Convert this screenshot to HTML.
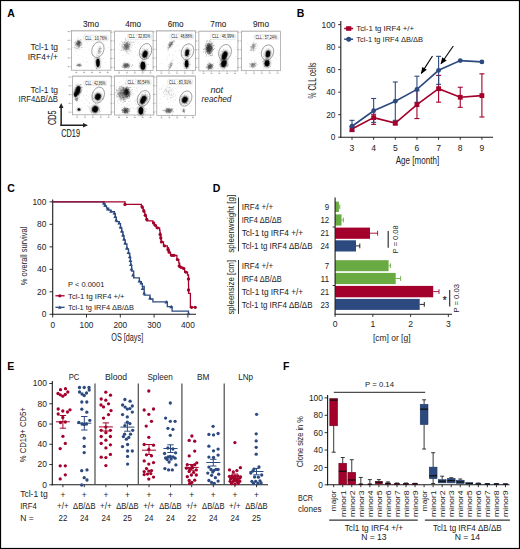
<!DOCTYPE html>
<html><head><meta charset="utf-8"><title>Figure</title>
<style>
html,body{margin:0;padding:0;background:#fff;}
body{width:520px;height:549px;overflow:hidden;}
svg{display:block;font-family:"Liberation Sans", sans-serif;}
</style></head>
<body>
<svg width="520" height="549" viewBox="0 0 520 549">
<defs><filter id="b0" x="-10%" y="-10%" width="120%" height="120%"><feGaussianBlur stdDeviation="0.22"/></filter><filter id="b1" x="-50%" y="-50%" width="200%" height="200%"><feGaussianBlur stdDeviation="0.35"/></filter><filter id="b2" x="-50%" y="-50%" width="200%" height="200%"><feGaussianBlur stdDeviation="0.9"/></filter></defs>
<rect x="0" y="0" width="520" height="549" fill="#fff"/>
<text x="7.20" y="16.90" font-size="10.5" text-anchor="start" fill="#000" font-weight="bold">A</text>
<text x="296.80" y="16.80" font-size="10.5" text-anchor="start" fill="#000" font-weight="bold">B</text>
<text x="7.30" y="191.90" font-size="10.5" text-anchor="start" fill="#000" font-weight="bold">C</text>
<text x="212.80" y="192.30" font-size="10.5" text-anchor="start" fill="#000" font-weight="bold">D</text>
<text x="7.30" y="370.20" font-size="10.5" text-anchor="start" fill="#000" font-weight="bold">E</text>
<text x="282.90" y="369.60" font-size="10.5" text-anchor="start" fill="#000" font-weight="bold">F</text>
<text x="91.00" y="27.00" font-size="8.9" text-anchor="middle" fill="#222" stroke="#222" stroke-width="0.08" textLength="15.90" lengthAdjust="spacingAndGlyphs">3mo</text>
<text x="133.20" y="27.00" font-size="8.9" text-anchor="middle" fill="#222" stroke="#222" stroke-width="0.08" textLength="15.90" lengthAdjust="spacingAndGlyphs">4mo</text>
<text x="175.60" y="27.00" font-size="8.9" text-anchor="middle" fill="#222" stroke="#222" stroke-width="0.08" textLength="15.90" lengthAdjust="spacingAndGlyphs">6mo</text>
<text x="218.30" y="27.00" font-size="8.9" text-anchor="middle" fill="#222" stroke="#222" stroke-width="0.08" textLength="15.90" lengthAdjust="spacingAndGlyphs">7mo</text>
<text x="261.00" y="27.00" font-size="8.9" text-anchor="middle" fill="#222" stroke="#222" stroke-width="0.08" textLength="15.90" lengthAdjust="spacingAndGlyphs">9mo</text>
<text x="58.00" y="50.20" font-size="8.6" text-anchor="end" fill="#222" textLength="27.40" lengthAdjust="spacingAndGlyphs">Tcl-1 tg</text>
<text x="58.00" y="59.70" font-size="8.6" text-anchor="end" fill="#222" textLength="30.30" lengthAdjust="spacingAndGlyphs">IRF4+/+</text>
<text x="58.00" y="93.00" font-size="8.6" text-anchor="end" fill="#222" textLength="27.40" lengthAdjust="spacingAndGlyphs">Tcl-1 tg</text>
<text x="58.00" y="102.00" font-size="8.6" text-anchor="end" fill="#222" textLength="39.40" lengthAdjust="spacingAndGlyphs">IRF4&#916;B/&#916;B</text>
<text x="216.80" y="92.70" font-size="9.4" text-anchor="middle" fill="#222" font-style="italic" textLength="12.80" lengthAdjust="spacingAndGlyphs">not</text>
<text x="216.50" y="101.60" font-size="9.4" text-anchor="middle" fill="#222" font-style="italic" textLength="29.80" lengthAdjust="spacingAndGlyphs">reached</text>
<line x1="61.15" y1="126.00" x2="61.15" y2="106.50" stroke="#222" stroke-width="1.5" />
<line x1="60.40" y1="125.25" x2="84.50" y2="125.25" stroke="#222" stroke-width="1.5" />
<path d="M61.15,103.0 L58.8,108.0 L63.5,108.0 Z" fill="#222"/>
<path d="M88.0,125.25 L83.0,122.95 L83.0,127.55 Z" fill="#222"/>
<text x="56.00" y="117.70" font-size="10.4" text-anchor="middle" fill="#222" stroke="#222" stroke-width="0.1" textLength="14.60" lengthAdjust="spacingAndGlyphs" transform="rotate(-90 56.00 117.70)">CD5</text>
<text x="61.20" y="136.90" font-size="10.4" text-anchor="start" fill="#222" stroke="#222" stroke-width="0.1" textLength="18.80" lengthAdjust="spacingAndGlyphs">CD19</text>
<rect x="71.60" y="30.60" width="39.30" height="39.60" fill="#fff" stroke="#9a9a9a" stroke-width="0.7"/>
<line x1="71.60" y1="30.80" x2="110.90" y2="30.80" stroke="#c4c4c4" stroke-width="1.2"/>
<line x1="70.20" y1="31.50" x2="71.60" y2="31.50" stroke="#888" stroke-width="0.4" />
<rect x="67.70" y="31.00" width="1.8" height="1.1" fill="#aaa"/>
<line x1="70.20" y1="40.28" x2="71.60" y2="40.28" stroke="#888" stroke-width="0.4" />
<rect x="67.70" y="39.78" width="1.8" height="1.1" fill="#aaa"/>
<line x1="70.20" y1="49.06" x2="71.60" y2="49.06" stroke="#888" stroke-width="0.4" />
<rect x="67.70" y="48.56" width="1.8" height="1.1" fill="#aaa"/>
<line x1="70.20" y1="57.84" x2="71.60" y2="57.84" stroke="#888" stroke-width="0.4" />
<rect x="67.70" y="57.34" width="1.8" height="1.1" fill="#aaa"/>
<line x1="70.20" y1="66.62" x2="71.60" y2="66.62" stroke="#888" stroke-width="0.4" />
<rect x="67.70" y="66.12" width="1.8" height="1.1" fill="#aaa"/>
<line x1="76.30" y1="70.20" x2="76.30" y2="71.60" stroke="#888" stroke-width="0.4" />
<rect x="75.40" y="72.10" width="1.8" height="1.0" fill="#aaa"/>
<line x1="84.15" y1="70.20" x2="84.15" y2="71.60" stroke="#888" stroke-width="0.4" />
<rect x="83.25" y="72.10" width="1.8" height="1.0" fill="#aaa"/>
<line x1="92.00" y1="70.20" x2="92.00" y2="71.60" stroke="#888" stroke-width="0.4" />
<rect x="91.10" y="72.10" width="1.8" height="1.0" fill="#aaa"/>
<line x1="99.85" y1="70.20" x2="99.85" y2="71.60" stroke="#888" stroke-width="0.4" />
<rect x="98.95" y="72.10" width="1.8" height="1.0" fill="#aaa"/>
<line x1="107.70" y1="70.20" x2="107.70" y2="71.60" stroke="#888" stroke-width="0.4" />
<rect x="106.80" y="72.10" width="1.8" height="1.0" fill="#aaa"/>
<ellipse cx="78.40" cy="44.00" rx="2.73" ry="3.99" transform="rotate(15 78.40 44.00)" fill="#000" fill-opacity="0.25" filter="url(#b2)"/>
<ellipse cx="78.60" cy="42.80" rx="1.47" ry="1.89" transform="rotate(15 78.60 42.80)" fill="#000" fill-opacity="0.25" filter="url(#b2)"/>
<ellipse cx="78.90" cy="64.90" rx="1.89" ry="1.09" transform="rotate(0 78.90 64.90)" fill="#000" fill-opacity="0.3" filter="url(#b2)"/>
<ellipse cx="99.00" cy="50.50" rx="1.47" ry="3.36" transform="rotate(15 99.00 50.50)" fill="#000" fill-opacity="0.12" filter="url(#b2)"/>
<ellipse cx="97.90" cy="62.80" rx="2.29" ry="5.28" transform="rotate(0 97.90 62.80)" fill="#000" fill-opacity="0.45" filter="url(#b2)"/>
<ellipse cx="97.90" cy="62.80" rx="1.74" ry="4.14" transform="rotate(0 97.90 62.80)" fill="#000" fill-opacity="1.0" filter="url(#b1)"/>
<path fill="#000" fill-opacity="0.4" filter="url(#b0)" d="M79.2 43.3h.6v.6h-.6zM79.4 45.6h.6v.6h-.6zM79.2 43.2h.6v.6h-.6zM76.1 44.1h.6v.6h-.6zM80.0 44.0h.6v.6h-.6zM79.7 42.2h.6v.6h-.6zM77.7 43.0h.6v.6h-.6zM80.0 42.0h.6v.6h-.6zM79.0 44.2h.6v.6h-.6zM79.6 41.4h.6v.6h-.6zM79.1 41.4h.6v.6h-.6zM78.4 47.7h.6v.6h-.6zM77.2 43.6h.6v.6h-.6zM78.2 43.8h.6v.6h-.6zM77.3 45.0h.6v.6h-.6zM79.6 43.3h.6v.6h-.6zM78.6 43.5h.6v.6h-.6zM77.7 44.9h.6v.6h-.6zM76.9 44.3h.6v.6h-.6zM78.7 41.1h.6v.6h-.6zM77.9 46.0h.6v.6h-.6zM78.3 42.5h.6v.6h-.6zM81.2 42.0h.6v.6h-.6zM80.6 42.3h.6v.6h-.6zM74.2 41.9h.6v.6h-.6zM74.3 47.1h.6v.6h-.6zM78.9 41.1h.6v.6h-.6zM77.6 44.2h.6v.6h-.6zM80.1 39.0h.6v.6h-.6zM78.8 44.1h.6v.6h-.6zM81.3 47.1h.6v.6h-.6zM76.7 42.9h.6v.6h-.6zM78.2 42.3h.6v.6h-.6zM81.6 45.4h.6v.6h-.6zM79.0 46.0h.6v.6h-.6zM79.1 45.9h.6v.6h-.6zM76.3 48.5h.6v.6h-.6zM75.6 43.8h.6v.6h-.6zM79.1 42.7h.6v.6h-.6zM78.7 43.7h.6v.6h-.6zM76.4 43.3h.6v.6h-.6zM77.2 44.0h.6v.6h-.6zM78.3 43.9h.6v.6h-.6zM76.7 44.0h.6v.6h-.6zM79.3 40.0h.6v.6h-.6zM78.0 46.0h.6v.6h-.6zM78.8 42.6h.6v.6h-.6zM78.3 41.0h.6v.6h-.6zM79.0 45.8h.6v.6h-.6zM79.0 47.5h.6v.6h-.6zM78.6 45.3h.6v.6h-.6zM77.0 44.0h.6v.6h-.6zM80.2 42.1h.6v.6h-.6zM75.7 50.6h.6v.6h-.6zM79.3 46.5h.6v.6h-.6zM77.4 40.8h.6v.6h-.6zM80.4 42.5h.6v.6h-.6zM78.3 44.2h.6v.6h-.6zM77.4 39.7h.6v.6h-.6zM77.8 44.3h.6v.6h-.6zM78.8 42.9h.6v.6h-.6zM78.1 47.0h.6v.6h-.6zM76.2 45.9h.6v.6h-.6zM78.3 37.0h.6v.6h-.6zM78.7 44.2h.6v.6h-.6zM78.7 39.9h.6v.6h-.6zM78.1 46.8h.6v.6h-.6zM79.5 44.7h.6v.6h-.6zM75.4 44.6h.6v.6h-.6zM79.5 41.6h.6v.6h-.6zM79.2 48.9h.6v.6h-.6zM76.6 48.7h.6v.6h-.6zM77.8 41.1h.6v.6h-.6zM79.4 45.2h.6v.6h-.6zM79.2 42.5h.6v.6h-.6zM79.9 44.3h.6v.6h-.6zM78.6 40.8h.6v.6h-.6zM74.8 47.8h.6v.6h-.6zM78.8 41.6h.6v.6h-.6zM77.9 43.1h.6v.6h-.6zM79.3 45.5h.6v.6h-.6zM79.1 42.5h.6v.6h-.6zM75.9 42.7h.6v.6h-.6zM76.8 42.1h.6v.6h-.6zM79.9 44.1h.6v.6h-.6zM80.3 41.5h.6v.6h-.6zM77.6 42.7h.6v.6h-.6zM78.5 43.5h.6v.6h-.6zM79.3 43.4h.6v.6h-.6zM79.1 44.3h.6v.6h-.6zM80.0 43.7h.6v.6h-.6zM78.3 45.9h.6v.6h-.6zM78.5 43.2h.6v.6h-.6zM78.1 43.6h.6v.6h-.6zM80.5 42.9h.6v.6h-.6zM75.1 41.8h.6v.6h-.6zM79.0 40.9h.6v.6h-.6zM78.1 45.3h.6v.6h-.6zM76.8 40.7h.6v.6h-.6zM79.4 42.4h.6v.6h-.6zM77.1 44.6h.6v.6h-.6zM79.6 45.3h.6v.6h-.6zM78.5 43.0h.6v.6h-.6zM80.8 39.5h.6v.6h-.6zM80.1 45.5h.6v.6h-.6zM78.9 44.8h.6v.6h-.6zM77.9 40.2h.6v.6h-.6zM75.4 45.2h.6v.6h-.6zM81.7 43.1h.6v.6h-.6zM78.9 41.3h.6v.6h-.6zM77.2 43.9h.6v.6h-.6zM78.7 43.6h.6v.6h-.6zM78.0 44.4h.6v.6h-.6zM80.8 40.5h.6v.6h-.6zM77.3 48.3h.6v.6h-.6zM78.8 42.6h.6v.6h-.6zM78.2 40.0h.6v.6h-.6zM78.8 45.7h.6v.6h-.6zM76.9 42.7h.6v.6h-.6zM79.3 45.1h.6v.6h-.6zM81.1 43.9h.6v.6h-.6zM75.9 43.2h.6v.6h-.6zM74.2 43.5h.6v.6h-.6zM79.9 42.5h.6v.6h-.6zM82.1 46.7h.6v.6h-.6zM77.1 42.4h.6v.6h-.6zM76.9 41.4h.6v.6h-.6zM79.3 44.4h.6v.6h-.6zM76.7 44.7h.6v.6h-.6zM77.7 43.2h.6v.6h-.6z"/>
<path fill="#000" fill-opacity="0.45" filter="url(#b0)" d="M77.8 42.9h.6v.6h-.6zM79.4 42.1h.6v.6h-.6zM76.9 43.1h.6v.6h-.6zM77.2 44.6h.6v.6h-.6zM78.7 42.5h.6v.6h-.6zM77.6 41.8h.6v.6h-.6zM78.7 42.6h.6v.6h-.6zM78.7 42.2h.6v.6h-.6zM79.6 42.2h.6v.6h-.6zM77.8 42.7h.6v.6h-.6zM78.1 42.3h.6v.6h-.6zM78.5 44.5h.6v.6h-.6zM76.4 42.2h.6v.6h-.6zM81.2 43.9h.6v.6h-.6zM77.7 43.7h.6v.6h-.6zM78.0 42.3h.6v.6h-.6zM78.9 44.6h.6v.6h-.6zM78.8 42.1h.6v.6h-.6zM77.3 41.5h.6v.6h-.6zM79.3 42.5h.6v.6h-.6zM79.4 42.9h.6v.6h-.6zM78.6 41.1h.6v.6h-.6zM78.4 42.7h.6v.6h-.6zM79.5 41.0h.6v.6h-.6zM77.4 44.2h.6v.6h-.6zM79.0 42.8h.6v.6h-.6zM79.0 42.1h.6v.6h-.6zM78.3 41.6h.6v.6h-.6zM77.5 42.0h.6v.6h-.6zM78.5 42.5h.6v.6h-.6zM78.1 41.4h.6v.6h-.6zM79.8 42.0h.6v.6h-.6zM78.8 42.6h.6v.6h-.6zM79.4 42.4h.6v.6h-.6zM78.4 43.9h.6v.6h-.6zM80.2 65.0h.6v.6h-.6zM78.9 65.9h.6v.6h-.6zM79.5 64.9h.6v.6h-.6zM77.3 65.6h.6v.6h-.6zM79.6 64.3h.6v.6h-.6zM78.9 64.8h.6v.6h-.6zM79.5 64.8h.6v.6h-.6zM80.8 65.7h.6v.6h-.6zM76.2 65.3h.6v.6h-.6zM79.2 64.4h.6v.6h-.6zM77.6 65.4h.6v.6h-.6zM79.6 65.4h.6v.6h-.6zM77.4 64.8h.6v.6h-.6zM78.3 64.7h.6v.6h-.6zM79.1 64.8h.6v.6h-.6zM79.6 63.8h.6v.6h-.6zM79.0 65.0h.6v.6h-.6zM78.0 65.1h.6v.6h-.6zM78.3 64.3h.6v.6h-.6zM79.9 65.4h.6v.6h-.6zM78.9 64.0h.6v.6h-.6zM76.9 64.5h.6v.6h-.6zM79.9 64.6h.6v.6h-.6zM79.4 66.2h.6v.6h-.6zM79.9 63.8h.6v.6h-.6zM78.5 65.3h.6v.6h-.6zM79.9 65.5h.6v.6h-.6zM77.7 65.2h.6v.6h-.6zM79.6 65.7h.6v.6h-.6zM78.3 64.2h.6v.6h-.6zM79.7 63.4h.6v.6h-.6zM80.1 65.4h.6v.6h-.6zM78.0 64.1h.6v.6h-.6zM78.8 64.7h.6v.6h-.6zM78.9 64.1h.6v.6h-.6zM80.3 65.6h.6v.6h-.6zM79.7 65.5h.6v.6h-.6zM77.5 64.4h.6v.6h-.6zM79.4 65.5h.6v.6h-.6zM79.8 65.0h.6v.6h-.6zM81.4 64.8h.6v.6h-.6zM76.9 64.9h.6v.6h-.6zM78.3 64.8h.6v.6h-.6zM80.5 65.3h.6v.6h-.6zM77.3 65.1h.6v.6h-.6zM77.5 64.7h.6v.6h-.6zM79.5 65.6h.6v.6h-.6zM80.1 64.5h.6v.6h-.6zM78.1 65.1h.6v.6h-.6zM79.5 65.2h.6v.6h-.6z"/>
<path fill="#000" fill-opacity="0.35" filter="url(#b0)" d="M100.4 50.4h.6v.6h-.6zM98.3 51.4h.6v.6h-.6zM100.0 52.9h.6v.6h-.6zM98.9 51.3h.6v.6h-.6zM97.5 55.6h.6v.6h-.6zM98.5 50.2h.6v.6h-.6zM99.0 52.6h.6v.6h-.6zM98.4 53.1h.6v.6h-.6zM98.1 50.0h.6v.6h-.6zM98.5 48.6h.6v.6h-.6zM99.1 48.0h.6v.6h-.6zM98.3 50.7h.6v.6h-.6zM99.4 53.0h.6v.6h-.6zM100.1 51.4h.6v.6h-.6zM99.7 51.1h.6v.6h-.6zM99.5 49.8h.6v.6h-.6zM98.3 51.5h.6v.6h-.6zM100.2 46.2h.6v.6h-.6zM99.7 51.2h.6v.6h-.6zM100.9 51.1h.6v.6h-.6zM100.5 48.0h.6v.6h-.6zM97.6 54.8h.6v.6h-.6zM99.8 47.7h.6v.6h-.6zM99.2 48.2h.6v.6h-.6zM99.0 47.9h.6v.6h-.6zM98.2 52.7h.6v.6h-.6zM99.7 48.8h.6v.6h-.6zM100.3 52.3h.6v.6h-.6zM98.7 51.7h.6v.6h-.6zM100.1 51.3h.6v.6h-.6zM101.3 48.3h.6v.6h-.6zM99.4 49.3h.6v.6h-.6zM99.5 54.2h.6v.6h-.6zM100.3 48.1h.6v.6h-.6zM99.1 48.7h.6v.6h-.6zM99.3 50.2h.6v.6h-.6zM98.6 52.1h.6v.6h-.6zM98.7 51.0h.6v.6h-.6zM98.4 51.9h.6v.6h-.6zM99.7 48.4h.6v.6h-.6zM98.9 52.5h.6v.6h-.6zM97.9 51.4h.6v.6h-.6zM99.9 47.3h.6v.6h-.6zM96.8 53.2h.6v.6h-.6zM98.0 55.2h.6v.6h-.6zM100.0 49.1h.6v.6h-.6zM99.1 50.7h.6v.6h-.6zM98.5 53.4h.6v.6h-.6zM100.3 47.7h.6v.6h-.6zM99.5 46.3h.6v.6h-.6z"/>
<path fill="#000" fill-opacity="0.6" filter="url(#b0)" d="M96.2 54.7h.5v.5h-.5zM97.2 61.9h.5v.5h-.5zM97.2 61.9h.5v.5h-.5zM98.7 59.0h.5v.5h-.5zM98.2 58.9h.5v.5h-.5zM96.3 61.6h.5v.5h-.5zM98.6 61.4h.5v.5h-.5zM100.3 66.1h.5v.5h-.5zM99.5 63.8h.5v.5h-.5zM99.2 58.6h.5v.5h-.5zM97.9 60.5h.5v.5h-.5zM99.2 64.7h.5v.5h-.5zM96.6 67.8h.5v.5h-.5zM98.9 63.8h.5v.5h-.5zM97.8 63.6h.5v.5h-.5zM99.4 67.7h.5v.5h-.5zM98.5 62.7h.5v.5h-.5zM96.5 62.0h.5v.5h-.5zM98.1 59.1h.5v.5h-.5zM99.5 61.4h.5v.5h-.5zM96.4 68.6h.5v.5h-.5zM97.2 59.0h.5v.5h-.5zM96.9 62.8h.5v.5h-.5zM96.0 59.1h.5v.5h-.5zM99.1 63.1h.5v.5h-.5zM99.6 65.1h.5v.5h-.5zM98.9 62.2h.5v.5h-.5zM98.2 64.7h.5v.5h-.5zM97.8 64.7h.5v.5h-.5zM98.2 64.0h.5v.5h-.5zM97.0 67.3h.5v.5h-.5zM99.1 64.9h.5v.5h-.5zM99.3 62.0h.5v.5h-.5zM99.1 61.0h.5v.5h-.5zM97.2 60.6h.5v.5h-.5zM98.0 64.1h.5v.5h-.5zM97.7 61.9h.5v.5h-.5zM98.1 67.7h.5v.5h-.5zM95.5 62.2h.5v.5h-.5zM98.4 61.9h.5v.5h-.5zM100.3 67.3h.5v.5h-.5zM98.8 57.8h.5v.5h-.5zM99.0 61.6h.5v.5h-.5zM97.9 65.3h.5v.5h-.5zM95.3 60.4h.5v.5h-.5zM95.6 61.5h.5v.5h-.5zM96.3 61.9h.5v.5h-.5zM97.7 64.5h.5v.5h-.5zM98.3 63.2h.5v.5h-.5zM98.8 63.9h.5v.5h-.5zM97.5 64.4h.5v.5h-.5zM99.1 62.9h.5v.5h-.5zM97.5 65.7h.5v.5h-.5zM97.0 60.9h.5v.5h-.5zM99.0 59.0h.5v.5h-.5zM96.7 58.1h.5v.5h-.5zM94.4 58.5h.5v.5h-.5zM96.5 61.3h.5v.5h-.5zM98.0 65.5h.5v.5h-.5z"/>
<path fill="#000" fill-opacity="0.3" filter="url(#b0)" d="M93.2 43.0h.5v.5h-.5zM86.2 61.9h.5v.5h-.5zM82.0 56.8h.5v.5h-.5zM86.8 61.4h.5v.5h-.5zM88.0 49.8h.5v.5h-.5zM86.5 57.7h.5v.5h-.5zM78.7 46.0h.5v.5h-.5zM87.3 40.3h.5v.5h-.5zM100.8 37.3h.5v.5h-.5zM89.4 47.7h.5v.5h-.5zM72.5 46.9h.5v.5h-.5zM84.9 34.6h.5v.5h-.5zM72.8 47.8h.5v.5h-.5zM92.5 55.2h.5v.5h-.5zM108.0 47.4h.5v.5h-.5zM92.6 44.7h.5v.5h-.5zM102.1 31.8h.5v.5h-.5zM96.0 67.8h.5v.5h-.5zM87.8 66.6h.5v.5h-.5zM78.4 55.1h.5v.5h-.5zM98.7 47.4h.5v.5h-.5zM94.2 53.8h.5v.5h-.5zM86.9 42.2h.5v.5h-.5zM99.4 54.9h.5v.5h-.5zM83.8 52.6h.5v.5h-.5zM97.4 57.4h.5v.5h-.5zM83.1 61.2h.5v.5h-.5zM96.4 68.2h.5v.5h-.5zM81.7 49.1h.5v.5h-.5zM105.0 62.0h.5v.5h-.5zM93.9 45.5h.5v.5h-.5zM104.5 44.5h.5v.5h-.5zM84.2 47.0h.5v.5h-.5zM87.3 43.8h.5v.5h-.5zM99.2 61.4h.5v.5h-.5z"/>
<ellipse cx="97.90" cy="49.70" rx="5.90" ry="8.00" transform="rotate(20 97.90 49.70)" fill="none" stroke="#555" stroke-width="0.5"/>
<rect x="83.60" y="35.30" width="24.80" height="5.50" fill="#fff" stroke="#d0d0d0" stroke-width="0.45" rx="1.0"/>
<text x="96.00" y="39.60" font-size="4.5" text-anchor="middle" fill="#111" textLength="22.20" lengthAdjust="spacingAndGlyphs">CLL : 10,76%</text>
<rect x="114.40" y="31.20" width="38.70" height="39.30" fill="#fff" stroke="#9a9a9a" stroke-width="0.7"/>
<line x1="114.40" y1="31.40" x2="153.10" y2="31.40" stroke="#c4c4c4" stroke-width="1.2"/>
<line x1="113.00" y1="32.10" x2="114.40" y2="32.10" stroke="#888" stroke-width="0.4" />
<rect x="110.50" y="31.60" width="1.8" height="1.1" fill="#aaa"/>
<line x1="113.00" y1="40.88" x2="114.40" y2="40.88" stroke="#888" stroke-width="0.4" />
<rect x="110.50" y="40.38" width="1.8" height="1.1" fill="#aaa"/>
<line x1="113.00" y1="49.66" x2="114.40" y2="49.66" stroke="#888" stroke-width="0.4" />
<rect x="110.50" y="49.16" width="1.8" height="1.1" fill="#aaa"/>
<line x1="113.00" y1="58.44" x2="114.40" y2="58.44" stroke="#888" stroke-width="0.4" />
<rect x="110.50" y="57.94" width="1.8" height="1.1" fill="#aaa"/>
<line x1="113.00" y1="67.22" x2="114.40" y2="67.22" stroke="#888" stroke-width="0.4" />
<rect x="110.50" y="66.72" width="1.8" height="1.1" fill="#aaa"/>
<line x1="119.10" y1="70.50" x2="119.10" y2="71.90" stroke="#888" stroke-width="0.4" />
<rect x="118.20" y="72.40" width="1.8" height="1.0" fill="#aaa"/>
<line x1="126.95" y1="70.50" x2="126.95" y2="71.90" stroke="#888" stroke-width="0.4" />
<rect x="126.05" y="72.40" width="1.8" height="1.0" fill="#aaa"/>
<line x1="134.80" y1="70.50" x2="134.80" y2="71.90" stroke="#888" stroke-width="0.4" />
<rect x="133.90" y="72.40" width="1.8" height="1.0" fill="#aaa"/>
<line x1="142.65" y1="70.50" x2="142.65" y2="71.90" stroke="#888" stroke-width="0.4" />
<rect x="141.75" y="72.40" width="1.8" height="1.0" fill="#aaa"/>
<line x1="150.50" y1="70.50" x2="150.50" y2="71.90" stroke="#888" stroke-width="0.4" />
<rect x="149.60" y="72.40" width="1.8" height="1.0" fill="#aaa"/>
<ellipse cx="126.10" cy="46.50" rx="4.62" ry="5.04" transform="rotate(10 126.10 46.50)" fill="#000" fill-opacity="0.12" filter="url(#b2)"/>
<ellipse cx="126.50" cy="46.00" rx="1.89" ry="2.94" transform="rotate(10 126.50 46.00)" fill="#000" fill-opacity="0.25" filter="url(#b2)"/>
<ellipse cx="126.10" cy="65.40" rx="3.11" ry="1.93" transform="rotate(0 126.10 65.40)" fill="#000" fill-opacity="0.5" filter="url(#b2)"/>
<ellipse cx="145.00" cy="54.30" rx="3.16" ry="4.44" transform="rotate(20 145.00 54.30)" fill="#000" fill-opacity="0.45" filter="url(#b2)"/>
<ellipse cx="145.00" cy="54.30" rx="2.40" ry="3.48" transform="rotate(20 145.00 54.30)" fill="#000" fill-opacity="1.0" filter="url(#b1)"/>
<ellipse cx="142.90" cy="65.80" rx="3.16" ry="5.10" transform="rotate(0 142.90 65.80)" fill="#000" fill-opacity="0.45" filter="url(#b2)"/>
<ellipse cx="142.90" cy="65.80" rx="2.40" ry="3.99" transform="rotate(0 142.90 65.80)" fill="#000" fill-opacity="1.0" filter="url(#b1)"/>
<path fill="#000" fill-opacity="0.35" filter="url(#b0)" d="M127.4 42.3h.6v.6h-.6zM124.4 47.6h.6v.6h-.6zM125.4 43.6h.6v.6h-.6zM119.5 43.8h.6v.6h-.6zM131.2 47.5h.6v.6h-.6zM129.5 46.1h.6v.6h-.6zM125.0 47.2h.6v.6h-.6zM127.9 49.2h.6v.6h-.6zM126.5 48.6h.6v.6h-.6zM124.6 46.0h.6v.6h-.6zM129.6 42.8h.6v.6h-.6zM125.7 43.9h.6v.6h-.6zM125.3 45.7h.6v.6h-.6zM125.0 39.6h.6v.6h-.6zM127.0 49.0h.6v.6h-.6zM126.0 45.7h.6v.6h-.6zM127.8 46.0h.6v.6h-.6zM123.9 49.1h.6v.6h-.6zM126.1 48.6h.6v.6h-.6zM123.5 46.7h.6v.6h-.6zM129.0 43.8h.6v.6h-.6zM126.5 47.5h.6v.6h-.6zM126.8 47.7h.6v.6h-.6zM127.7 44.0h.6v.6h-.6zM122.7 49.2h.6v.6h-.6zM128.0 48.4h.6v.6h-.6zM133.0 41.5h.6v.6h-.6zM121.4 46.1h.6v.6h-.6zM121.9 41.8h.6v.6h-.6zM121.2 49.2h.6v.6h-.6zM128.0 49.4h.6v.6h-.6zM127.1 43.2h.6v.6h-.6zM129.6 44.3h.6v.6h-.6zM128.1 47.2h.6v.6h-.6zM126.8 45.9h.6v.6h-.6zM126.1 51.3h.6v.6h-.6zM125.2 48.7h.6v.6h-.6zM128.7 46.1h.6v.6h-.6zM122.6 47.7h.6v.6h-.6zM126.0 40.0h.6v.6h-.6zM126.6 47.6h.6v.6h-.6zM130.7 50.1h.6v.6h-.6zM124.0 45.6h.6v.6h-.6zM123.4 43.8h.6v.6h-.6zM124.2 48.0h.6v.6h-.6zM127.8 53.0h.6v.6h-.6zM125.3 47.0h.6v.6h-.6zM130.4 43.7h.6v.6h-.6zM120.0 50.0h.6v.6h-.6zM130.3 41.3h.6v.6h-.6zM128.7 48.6h.6v.6h-.6zM122.4 44.0h.6v.6h-.6zM126.0 49.4h.6v.6h-.6zM130.0 44.5h.6v.6h-.6zM125.6 50.6h.6v.6h-.6zM128.8 47.9h.6v.6h-.6zM133.7 42.4h.6v.6h-.6zM127.9 40.6h.6v.6h-.6zM125.5 45.4h.6v.6h-.6zM123.2 50.1h.6v.6h-.6zM127.9 47.2h.6v.6h-.6zM125.5 46.6h.6v.6h-.6zM125.7 45.7h.6v.6h-.6zM125.4 48.7h.6v.6h-.6zM127.7 48.0h.6v.6h-.6zM122.9 46.8h.6v.6h-.6zM122.3 42.7h.6v.6h-.6zM118.6 48.9h.6v.6h-.6zM128.7 51.3h.6v.6h-.6zM127.0 42.5h.6v.6h-.6zM129.1 54.3h.6v.6h-.6zM125.7 48.7h.6v.6h-.6zM124.3 44.6h.6v.6h-.6zM128.5 40.9h.6v.6h-.6zM125.5 48.5h.6v.6h-.6zM122.3 47.6h.6v.6h-.6zM123.9 44.2h.6v.6h-.6zM132.0 41.9h.6v.6h-.6zM126.5 50.1h.6v.6h-.6zM127.6 44.9h.6v.6h-.6zM125.6 44.9h.6v.6h-.6zM122.6 54.9h.6v.6h-.6zM127.5 53.5h.6v.6h-.6zM125.3 49.4h.6v.6h-.6zM124.2 44.7h.6v.6h-.6zM125.4 48.4h.6v.6h-.6zM124.8 39.0h.6v.6h-.6zM126.6 46.9h.6v.6h-.6zM129.7 44.7h.6v.6h-.6zM124.4 42.1h.6v.6h-.6zM131.0 42.3h.6v.6h-.6zM123.9 47.8h.6v.6h-.6zM126.5 46.9h.6v.6h-.6zM123.7 46.6h.6v.6h-.6zM125.0 49.0h.6v.6h-.6zM126.7 43.9h.6v.6h-.6zM125.5 42.5h.6v.6h-.6zM125.1 40.7h.6v.6h-.6zM124.4 45.1h.6v.6h-.6zM123.4 48.4h.6v.6h-.6zM121.8 45.3h.6v.6h-.6zM125.0 48.3h.6v.6h-.6zM127.9 43.1h.6v.6h-.6zM128.9 45.5h.6v.6h-.6zM128.3 44.5h.6v.6h-.6zM133.7 43.9h.6v.6h-.6zM126.0 52.4h.6v.6h-.6zM124.4 48.9h.6v.6h-.6zM131.8 45.1h.6v.6h-.6zM123.6 43.6h.6v.6h-.6zM128.9 46.8h.6v.6h-.6zM124.2 41.6h.6v.6h-.6zM126.9 48.0h.6v.6h-.6zM121.3 41.5h.6v.6h-.6zM128.8 45.8h.6v.6h-.6zM126.2 43.3h.6v.6h-.6zM123.6 44.5h.6v.6h-.6zM131.5 43.2h.6v.6h-.6zM129.1 42.0h.6v.6h-.6zM126.8 43.6h.6v.6h-.6zM124.4 44.0h.6v.6h-.6zM126.1 45.6h.6v.6h-.6zM125.6 46.6h.6v.6h-.6zM127.3 51.6h.6v.6h-.6zM127.9 49.4h.6v.6h-.6zM124.4 45.4h.6v.6h-.6zM124.2 48.5h.6v.6h-.6zM125.0 44.1h.6v.6h-.6zM121.5 50.3h.6v.6h-.6zM124.1 47.9h.6v.6h-.6zM126.6 42.3h.6v.6h-.6zM127.6 49.2h.6v.6h-.6zM129.4 49.7h.6v.6h-.6zM125.3 37.8h.6v.6h-.6zM128.1 44.5h.6v.6h-.6zM125.1 44.8h.6v.6h-.6zM133.0 41.6h.6v.6h-.6zM126.5 43.2h.6v.6h-.6zM128.0 43.8h.6v.6h-.6zM123.2 47.6h.6v.6h-.6zM123.7 47.0h.6v.6h-.6zM125.2 54.7h.6v.6h-.6zM125.2 45.1h.6v.6h-.6zM126.5 50.2h.6v.6h-.6zM121.7 46.0h.6v.6h-.6zM127.8 47.7h.6v.6h-.6zM124.2 42.5h.6v.6h-.6zM132.0 41.5h.6v.6h-.6zM125.7 44.0h.6v.6h-.6zM128.8 49.4h.6v.6h-.6z"/>
<path fill="#000" fill-opacity="0.45" filter="url(#b0)" d="M128.3 46.4h.6v.6h-.6zM127.4 45.1h.6v.6h-.6zM127.0 46.3h.6v.6h-.6zM125.7 44.9h.6v.6h-.6zM128.2 46.8h.6v.6h-.6zM127.7 48.4h.6v.6h-.6zM126.3 43.5h.6v.6h-.6zM126.2 47.6h.6v.6h-.6zM126.0 42.2h.6v.6h-.6zM128.9 42.4h.6v.6h-.6zM127.0 45.9h.6v.6h-.6zM126.4 46.0h.6v.6h-.6zM126.8 46.9h.6v.6h-.6zM127.5 43.1h.6v.6h-.6zM126.0 45.8h.6v.6h-.6zM125.0 46.0h.6v.6h-.6zM124.6 48.0h.6v.6h-.6zM124.5 45.5h.6v.6h-.6zM126.9 47.0h.6v.6h-.6zM129.4 44.7h.6v.6h-.6zM124.6 45.3h.6v.6h-.6zM126.8 45.2h.6v.6h-.6zM126.8 47.3h.6v.6h-.6zM125.7 44.0h.6v.6h-.6zM127.0 44.5h.6v.6h-.6zM125.1 46.8h.6v.6h-.6zM127.3 49.5h.6v.6h-.6zM125.7 46.6h.6v.6h-.6zM126.5 46.6h.6v.6h-.6zM127.4 45.5h.6v.6h-.6zM125.7 47.9h.6v.6h-.6zM124.3 46.6h.6v.6h-.6zM125.3 49.0h.6v.6h-.6zM127.3 46.7h.6v.6h-.6zM126.7 44.3h.6v.6h-.6zM126.9 45.0h.6v.6h-.6zM125.6 44.0h.6v.6h-.6zM127.1 43.8h.6v.6h-.6zM126.9 48.4h.6v.6h-.6zM126.3 47.5h.6v.6h-.6zM129.1 44.2h.6v.6h-.6zM125.7 49.2h.6v.6h-.6zM125.2 46.2h.6v.6h-.6zM124.9 44.0h.6v.6h-.6zM127.7 46.9h.6v.6h-.6zM126.5 45.9h.6v.6h-.6zM127.9 44.8h.6v.6h-.6zM127.6 42.6h.6v.6h-.6zM128.4 46.4h.6v.6h-.6zM127.9 46.8h.6v.6h-.6zM126.9 41.3h.6v.6h-.6zM126.6 47.1h.6v.6h-.6zM127.6 47.3h.6v.6h-.6zM125.2 44.9h.6v.6h-.6zM128.1 46.5h.6v.6h-.6zM128.0 45.7h.6v.6h-.6zM127.9 44.7h.6v.6h-.6zM126.4 45.3h.6v.6h-.6zM126.4 48.5h.6v.6h-.6zM125.7 43.2h.6v.6h-.6zM126.6 65.3h.6v.6h-.6zM126.5 65.8h.6v.6h-.6zM124.7 67.7h.6v.6h-.6zM125.3 65.6h.6v.6h-.6zM123.4 63.7h.6v.6h-.6zM124.5 65.6h.6v.6h-.6zM126.1 64.7h.6v.6h-.6zM126.7 65.9h.6v.6h-.6zM124.4 64.6h.6v.6h-.6zM132.0 64.6h.6v.6h-.6zM125.0 64.8h.6v.6h-.6zM126.3 64.6h.6v.6h-.6zM125.7 63.2h.6v.6h-.6zM125.3 64.6h.6v.6h-.6zM128.6 65.4h.6v.6h-.6zM125.2 66.8h.6v.6h-.6zM128.7 65.0h.6v.6h-.6zM128.3 65.0h.6v.6h-.6zM124.1 66.1h.6v.6h-.6zM128.1 66.0h.6v.6h-.6zM124.8 67.3h.6v.6h-.6zM131.4 66.1h.6v.6h-.6zM125.4 65.4h.6v.6h-.6zM124.3 67.0h.6v.6h-.6zM122.4 67.2h.6v.6h-.6zM123.6 64.8h.6v.6h-.6zM125.0 65.6h.6v.6h-.6zM124.2 63.4h.6v.6h-.6zM123.7 65.0h.6v.6h-.6zM124.8 64.3h.6v.6h-.6zM125.7 65.1h.6v.6h-.6zM128.9 64.8h.6v.6h-.6zM122.8 65.2h.6v.6h-.6zM125.0 65.3h.6v.6h-.6zM124.3 66.0h.6v.6h-.6zM123.2 65.7h.6v.6h-.6zM123.7 64.7h.6v.6h-.6zM124.4 63.9h.6v.6h-.6zM127.5 66.9h.6v.6h-.6zM125.7 67.1h.6v.6h-.6zM125.1 64.9h.6v.6h-.6zM127.3 66.1h.6v.6h-.6zM126.6 63.6h.6v.6h-.6zM125.7 63.5h.6v.6h-.6zM126.8 65.1h.6v.6h-.6zM124.5 67.2h.6v.6h-.6zM127.3 64.1h.6v.6h-.6zM127.0 64.4h.6v.6h-.6zM125.3 67.3h.6v.6h-.6zM123.8 63.1h.6v.6h-.6zM129.0 66.2h.6v.6h-.6zM126.3 66.0h.6v.6h-.6zM132.0 65.2h.6v.6h-.6zM124.8 65.6h.6v.6h-.6zM127.7 68.5h.6v.6h-.6zM125.3 64.1h.6v.6h-.6zM126.6 65.0h.6v.6h-.6zM127.7 65.1h.6v.6h-.6zM124.6 64.6h.6v.6h-.6zM125.9 63.8h.6v.6h-.6zM126.4 67.3h.6v.6h-.6zM126.3 65.7h.6v.6h-.6zM127.2 63.3h.6v.6h-.6zM128.1 64.6h.6v.6h-.6zM127.7 65.9h.6v.6h-.6zM126.6 65.9h.6v.6h-.6zM125.4 63.7h.6v.6h-.6zM123.9 65.3h.6v.6h-.6zM124.7 65.7h.6v.6h-.6zM125.1 65.9h.6v.6h-.6zM127.4 65.9h.6v.6h-.6zM125.4 63.2h.6v.6h-.6zM123.7 67.6h.6v.6h-.6zM127.3 65.7h.6v.6h-.6zM124.6 67.6h.6v.6h-.6zM124.6 68.8h.6v.6h-.6zM125.7 65.2h.6v.6h-.6zM127.0 63.9h.6v.6h-.6zM121.5 66.4h.6v.6h-.6zM123.9 65.2h.6v.6h-.6zM126.4 64.9h.6v.6h-.6zM125.4 64.2h.6v.6h-.6zM124.4 67.4h.6v.6h-.6zM125.1 64.9h.6v.6h-.6zM128.8 63.7h.6v.6h-.6zM125.2 64.9h.6v.6h-.6zM127.5 64.0h.6v.6h-.6zM127.6 65.6h.6v.6h-.6zM125.2 64.9h.6v.6h-.6zM127.0 64.1h.6v.6h-.6zM125.2 66.1h.6v.6h-.6zM124.9 64.6h.6v.6h-.6zM123.9 66.3h.6v.6h-.6zM127.8 66.9h.6v.6h-.6zM125.3 65.0h.6v.6h-.6zM125.0 64.6h.6v.6h-.6zM123.9 65.6h.6v.6h-.6zM129.6 66.5h.6v.6h-.6zM127.5 65.4h.6v.6h-.6zM125.8 65.6h.6v.6h-.6zM124.8 65.4h.6v.6h-.6zM123.2 65.8h.6v.6h-.6zM126.7 66.2h.6v.6h-.6zM126.7 64.6h.6v.6h-.6zM123.4 64.8h.6v.6h-.6zM128.3 65.5h.6v.6h-.6zM127.6 64.6h.6v.6h-.6zM124.2 65.6h.6v.6h-.6zM125.0 66.0h.6v.6h-.6zM125.3 65.4h.6v.6h-.6zM126.4 64.7h.6v.6h-.6zM125.8 64.5h.6v.6h-.6zM122.9 67.5h.6v.6h-.6zM128.9 66.5h.6v.6h-.6zM126.7 64.1h.6v.6h-.6zM128.5 64.4h.6v.6h-.6zM128.5 67.6h.6v.6h-.6zM125.7 67.2h.6v.6h-.6zM126.8 65.6h.6v.6h-.6zM127.5 66.8h.6v.6h-.6zM127.6 63.6h.6v.6h-.6zM125.8 65.4h.6v.6h-.6zM124.9 66.3h.6v.6h-.6zM126.2 63.2h.6v.6h-.6zM124.6 64.5h.6v.6h-.6zM125.0 66.3h.6v.6h-.6zM122.2 66.8h.6v.6h-.6zM126.3 64.7h.6v.6h-.6zM124.1 65.7h.6v.6h-.6zM125.0 67.3h.6v.6h-.6z"/>
<path fill="#000" fill-opacity="0.6" filter="url(#b0)" d="M144.9 52.7h.5v.5h-.5zM144.4 49.0h.5v.5h-.5zM144.2 56.1h.5v.5h-.5zM145.6 50.6h.5v.5h-.5zM147.3 54.6h.5v.5h-.5zM145.2 54.6h.5v.5h-.5zM142.6 56.6h.5v.5h-.5zM148.1 58.2h.5v.5h-.5zM144.0 54.3h.5v.5h-.5zM146.4 53.0h.5v.5h-.5zM146.5 53.8h.5v.5h-.5zM145.5 57.0h.5v.5h-.5zM143.9 58.1h.5v.5h-.5zM145.6 55.8h.5v.5h-.5zM145.4 52.9h.5v.5h-.5zM141.8 55.6h.5v.5h-.5zM144.9 53.4h.5v.5h-.5zM145.0 53.3h.5v.5h-.5zM144.9 53.6h.5v.5h-.5zM144.8 55.6h.5v.5h-.5zM143.7 54.5h.5v.5h-.5zM146.5 57.2h.5v.5h-.5zM146.6 58.0h.5v.5h-.5zM140.9 54.0h.5v.5h-.5zM146.8 49.4h.5v.5h-.5zM145.1 50.3h.5v.5h-.5zM140.5 53.0h.5v.5h-.5zM145.7 54.4h.5v.5h-.5zM142.3 58.4h.5v.5h-.5zM144.4 54.0h.5v.5h-.5zM144.0 53.6h.5v.5h-.5zM146.1 56.9h.5v.5h-.5zM146.3 57.3h.5v.5h-.5zM145.6 54.0h.5v.5h-.5zM145.8 55.7h.5v.5h-.5zM145.7 51.9h.5v.5h-.5zM146.0 52.4h.5v.5h-.5zM142.8 56.4h.5v.5h-.5zM146.1 51.4h.5v.5h-.5zM143.1 55.8h.5v.5h-.5zM145.1 55.9h.5v.5h-.5zM145.8 56.4h.5v.5h-.5zM144.8 56.4h.5v.5h-.5zM146.6 56.2h.5v.5h-.5zM151.1 51.5h.5v.5h-.5zM142.2 50.9h.5v.5h-.5zM145.5 53.1h.5v.5h-.5zM143.4 55.9h.5v.5h-.5zM145.1 51.7h.5v.5h-.5zM143.3 52.0h.5v.5h-.5zM145.4 53.6h.5v.5h-.5zM143.6 56.9h.5v.5h-.5zM145.0 50.9h.5v.5h-.5zM145.6 51.3h.5v.5h-.5zM143.5 55.2h.5v.5h-.5zM142.7 48.4h.5v.5h-.5zM146.6 55.7h.5v.5h-.5zM144.8 53.2h.5v.5h-.5zM144.6 50.4h.5v.5h-.5zM145.8 53.6h.5v.5h-.5zM141.1 64.1h.5v.5h-.5zM143.2 66.6h.5v.5h-.5zM143.5 64.6h.5v.5h-.5zM145.6 67.2h.5v.5h-.5zM142.9 68.6h.5v.5h-.5zM143.1 67.5h.5v.5h-.5zM141.9 61.2h.5v.5h-.5zM142.9 68.2h.5v.5h-.5zM144.8 66.9h.5v.5h-.5zM139.5 63.1h.5v.5h-.5zM144.1 63.5h.5v.5h-.5zM141.9 65.8h.5v.5h-.5zM143.0 67.3h.5v.5h-.5zM143.5 64.7h.5v.5h-.5zM144.4 61.7h.5v.5h-.5zM143.3 66.5h.5v.5h-.5zM142.2 66.2h.5v.5h-.5zM142.9 62.5h.5v.5h-.5zM144.5 66.6h.5v.5h-.5zM143.2 66.0h.5v.5h-.5zM140.6 68.3h.5v.5h-.5zM142.7 63.9h.5v.5h-.5zM139.6 66.0h.5v.5h-.5zM144.2 63.2h.5v.5h-.5zM141.2 61.8h.5v.5h-.5zM145.2 65.1h.5v.5h-.5zM148.2 64.1h.5v.5h-.5zM142.2 67.3h.5v.5h-.5zM145.3 69.0h.5v.5h-.5zM143.6 65.4h.5v.5h-.5zM141.9 66.0h.5v.5h-.5zM141.4 66.3h.5v.5h-.5zM143.9 61.5h.5v.5h-.5zM145.4 66.5h.5v.5h-.5zM143.5 65.8h.5v.5h-.5zM140.2 65.7h.5v.5h-.5zM141.0 63.0h.5v.5h-.5zM142.5 60.7h.5v.5h-.5zM145.3 65.2h.5v.5h-.5zM143.4 66.6h.5v.5h-.5zM143.5 69.2h.5v.5h-.5zM145.1 68.7h.5v.5h-.5zM142.5 69.5h.5v.5h-.5zM142.7 66.7h.5v.5h-.5zM142.6 68.7h.5v.5h-.5zM139.7 65.3h.5v.5h-.5zM143.7 67.4h.5v.5h-.5zM143.6 68.2h.5v.5h-.5zM140.8 66.4h.5v.5h-.5zM141.4 62.6h.5v.5h-.5zM144.6 69.3h.5v.5h-.5zM143.5 63.8h.5v.5h-.5zM145.4 65.6h.5v.5h-.5zM141.4 65.0h.5v.5h-.5zM143.3 63.5h.5v.5h-.5z"/>
<path fill="#000" fill-opacity="0.3" filter="url(#b0)" d="M146.4 64.4h.5v.5h-.5zM139.8 54.0h.5v.5h-.5zM128.9 62.2h.5v.5h-.5zM135.0 40.3h.5v.5h-.5zM130.5 68.1h.5v.5h-.5zM139.9 47.9h.5v.5h-.5zM131.0 60.6h.5v.5h-.5zM127.5 44.2h.5v.5h-.5zM128.6 39.2h.5v.5h-.5zM130.5 50.9h.5v.5h-.5zM137.0 54.8h.5v.5h-.5zM126.1 67.4h.5v.5h-.5zM133.6 56.4h.5v.5h-.5zM138.4 59.6h.5v.5h-.5zM129.8 64.5h.5v.5h-.5zM130.8 51.9h.5v.5h-.5zM137.3 55.5h.5v.5h-.5zM148.5 48.3h.5v.5h-.5zM141.1 63.7h.5v.5h-.5zM137.2 41.3h.5v.5h-.5zM135.4 51.3h.5v.5h-.5zM138.1 42.8h.5v.5h-.5zM146.6 59.5h.5v.5h-.5zM124.6 61.5h.5v.5h-.5zM144.3 46.4h.5v.5h-.5zM119.5 60.3h.5v.5h-.5zM134.9 47.2h.5v.5h-.5zM137.8 52.8h.5v.5h-.5zM119.2 53.2h.5v.5h-.5zM140.6 45.0h.5v.5h-.5zM128.4 44.9h.5v.5h-.5zM148.5 64.0h.5v.5h-.5zM128.0 38.2h.5v.5h-.5zM126.5 49.0h.5v.5h-.5z"/>
<ellipse cx="145.50" cy="51.50" rx="5.90" ry="8.20" transform="rotate(20 145.50 51.50)" fill="none" stroke="#555" stroke-width="0.5"/>
<rect x="127.20" y="34.40" width="24.30" height="5.00" fill="#fff" stroke="#d0d0d0" stroke-width="0.45" rx="1.0"/>
<text x="139.35" y="38.45" font-size="4.5" text-anchor="middle" fill="#111" textLength="21.70" lengthAdjust="spacingAndGlyphs">CLL : 32,81%</text>
<rect x="156.60" y="30.80" width="38.80" height="39.90" fill="#fff" stroke="#9a9a9a" stroke-width="0.7"/>
<line x1="156.60" y1="31.00" x2="195.40" y2="31.00" stroke="#c4c4c4" stroke-width="1.2"/>
<line x1="155.20" y1="31.70" x2="156.60" y2="31.70" stroke="#888" stroke-width="0.4" />
<rect x="152.70" y="31.20" width="1.8" height="1.1" fill="#aaa"/>
<line x1="155.20" y1="40.48" x2="156.60" y2="40.48" stroke="#888" stroke-width="0.4" />
<rect x="152.70" y="39.98" width="1.8" height="1.1" fill="#aaa"/>
<line x1="155.20" y1="49.26" x2="156.60" y2="49.26" stroke="#888" stroke-width="0.4" />
<rect x="152.70" y="48.76" width="1.8" height="1.1" fill="#aaa"/>
<line x1="155.20" y1="58.04" x2="156.60" y2="58.04" stroke="#888" stroke-width="0.4" />
<rect x="152.70" y="57.54" width="1.8" height="1.1" fill="#aaa"/>
<line x1="155.20" y1="66.82" x2="156.60" y2="66.82" stroke="#888" stroke-width="0.4" />
<rect x="152.70" y="66.32" width="1.8" height="1.1" fill="#aaa"/>
<line x1="161.30" y1="70.70" x2="161.30" y2="72.10" stroke="#888" stroke-width="0.4" />
<rect x="160.40" y="72.60" width="1.8" height="1.0" fill="#aaa"/>
<line x1="169.15" y1="70.70" x2="169.15" y2="72.10" stroke="#888" stroke-width="0.4" />
<rect x="168.25" y="72.60" width="1.8" height="1.0" fill="#aaa"/>
<line x1="177.00" y1="70.70" x2="177.00" y2="72.10" stroke="#888" stroke-width="0.4" />
<rect x="176.10" y="72.60" width="1.8" height="1.0" fill="#aaa"/>
<line x1="184.85" y1="70.70" x2="184.85" y2="72.10" stroke="#888" stroke-width="0.4" />
<rect x="183.95" y="72.60" width="1.8" height="1.0" fill="#aaa"/>
<line x1="192.70" y1="70.70" x2="192.70" y2="72.10" stroke="#888" stroke-width="0.4" />
<rect x="191.80" y="72.60" width="1.8" height="1.0" fill="#aaa"/>
<ellipse cx="170.50" cy="44.20" rx="1.18" ry="3.57" transform="rotate(32 170.50 44.20)" fill="#000" fill-opacity="0.35" filter="url(#b2)"/>
<ellipse cx="170.50" cy="65.00" rx="1.05" ry="3.36" transform="rotate(25 170.50 65.00)" fill="#000" fill-opacity="0.18" filter="url(#b2)"/>
<ellipse cx="187.10" cy="52.70" rx="2.36" ry="4.32" transform="rotate(10 187.10 52.70)" fill="#000" fill-opacity="0.45" filter="url(#b2)"/>
<ellipse cx="187.10" cy="52.70" rx="1.79" ry="3.38" transform="rotate(10 187.10 52.70)" fill="#000" fill-opacity="1.0" filter="url(#b1)"/>
<ellipse cx="186.60" cy="63.80" rx="2.36" ry="4.80" transform="rotate(0 186.60 63.80)" fill="#000" fill-opacity="0.45" filter="url(#b2)"/>
<ellipse cx="186.60" cy="63.80" rx="1.79" ry="3.76" transform="rotate(0 186.60 63.80)" fill="#000" fill-opacity="1.0" filter="url(#b1)"/>
<path fill="#000" fill-opacity="0.45" filter="url(#b0)" d="M172.5 43.9h.6v.6h-.6zM169.3 42.6h.6v.6h-.6zM170.5 44.8h.6v.6h-.6zM169.5 45.1h.6v.6h-.6zM171.7 41.7h.6v.6h-.6zM172.4 40.9h.6v.6h-.6zM169.3 43.4h.6v.6h-.6zM168.9 46.4h.6v.6h-.6zM169.1 45.3h.6v.6h-.6zM172.3 45.9h.6v.6h-.6zM171.0 43.7h.6v.6h-.6zM169.9 44.6h.6v.6h-.6zM170.6 43.6h.6v.6h-.6zM169.1 45.5h.6v.6h-.6zM170.8 42.3h.6v.6h-.6zM170.1 44.3h.6v.6h-.6zM170.9 44.2h.6v.6h-.6zM169.7 45.1h.6v.6h-.6zM170.8 45.0h.6v.6h-.6zM167.4 48.9h.6v.6h-.6zM168.8 47.0h.6v.6h-.6zM169.7 47.6h.6v.6h-.6zM173.2 40.6h.6v.6h-.6zM170.6 43.4h.6v.6h-.6zM171.1 43.0h.6v.6h-.6zM170.2 45.4h.6v.6h-.6zM174.4 40.7h.6v.6h-.6zM169.0 46.3h.6v.6h-.6zM169.1 46.1h.6v.6h-.6zM172.6 42.1h.6v.6h-.6zM171.1 42.0h.6v.6h-.6zM171.3 42.6h.6v.6h-.6zM171.0 44.6h.6v.6h-.6zM170.1 45.6h.6v.6h-.6zM168.2 48.1h.6v.6h-.6zM171.1 44.1h.6v.6h-.6zM167.9 44.5h.6v.6h-.6zM170.9 44.9h.6v.6h-.6zM167.8 47.1h.6v.6h-.6zM168.6 44.9h.6v.6h-.6zM169.1 46.9h.6v.6h-.6zM172.2 42.5h.6v.6h-.6zM170.5 43.7h.6v.6h-.6zM170.8 42.3h.6v.6h-.6zM168.8 47.0h.6v.6h-.6zM169.7 45.4h.6v.6h-.6zM171.7 44.2h.6v.6h-.6zM171.5 43.6h.6v.6h-.6zM170.1 45.2h.6v.6h-.6zM172.0 43.3h.6v.6h-.6zM171.5 42.4h.6v.6h-.6zM169.4 44.7h.6v.6h-.6zM168.0 49.0h.6v.6h-.6zM171.1 44.0h.6v.6h-.6zM171.0 43.1h.6v.6h-.6zM171.4 41.7h.6v.6h-.6zM172.2 41.8h.6v.6h-.6zM168.3 44.2h.6v.6h-.6zM169.9 46.1h.6v.6h-.6zM170.8 44.4h.6v.6h-.6zM169.1 44.2h.6v.6h-.6zM170.4 44.4h.6v.6h-.6zM169.7 44.1h.6v.6h-.6zM172.8 41.6h.6v.6h-.6zM169.8 42.6h.6v.6h-.6zM169.8 44.1h.6v.6h-.6zM171.9 43.0h.6v.6h-.6zM171.8 43.8h.6v.6h-.6zM170.1 41.8h.6v.6h-.6zM170.6 43.4h.6v.6h-.6zM169.7 45.9h.6v.6h-.6zM170.6 43.2h.6v.6h-.6zM171.7 44.5h.6v.6h-.6zM168.8 45.3h.6v.6h-.6zM170.0 45.5h.6v.6h-.6zM167.9 47.0h.6v.6h-.6zM173.8 40.8h.6v.6h-.6zM169.5 45.8h.6v.6h-.6zM170.8 43.2h.6v.6h-.6zM169.3 43.8h.6v.6h-.6zM170.6 46.4h.6v.6h-.6zM169.7 46.5h.6v.6h-.6zM169.7 46.4h.6v.6h-.6zM171.0 44.9h.6v.6h-.6zM168.8 47.4h.6v.6h-.6zM170.4 43.4h.6v.6h-.6zM170.2 43.6h.6v.6h-.6zM169.1 45.4h.6v.6h-.6zM172.0 43.7h.6v.6h-.6zM167.1 47.7h.6v.6h-.6z"/>
<path fill="#000" fill-opacity="0.35" filter="url(#b0)" d="M171.2 65.1h.6v.6h-.6zM172.3 64.5h.6v.6h-.6zM169.0 68.3h.6v.6h-.6zM170.1 65.3h.6v.6h-.6zM171.5 63.1h.6v.6h-.6zM171.6 63.7h.6v.6h-.6zM170.2 64.7h.6v.6h-.6zM168.7 69.4h.6v.6h-.6zM170.6 64.7h.6v.6h-.6zM171.3 65.7h.6v.6h-.6zM169.7 65.8h.6v.6h-.6zM171.2 65.2h.6v.6h-.6zM168.1 69.1h.6v.6h-.6zM170.4 63.7h.6v.6h-.6zM169.4 66.2h.6v.6h-.6zM169.7 65.0h.6v.6h-.6zM170.0 66.2h.6v.6h-.6zM172.1 63.1h.6v.6h-.6zM169.0 68.4h.6v.6h-.6zM171.0 64.9h.6v.6h-.6zM171.4 65.5h.6v.6h-.6zM171.5 63.3h.6v.6h-.6zM171.3 63.7h.6v.6h-.6zM169.8 66.0h.6v.6h-.6zM168.7 66.4h.6v.6h-.6zM170.3 66.6h.6v.6h-.6zM168.4 66.8h.6v.6h-.6zM170.3 66.5h.6v.6h-.6zM170.5 65.0h.6v.6h-.6zM170.4 66.9h.6v.6h-.6zM169.9 66.1h.6v.6h-.6zM170.1 64.6h.6v.6h-.6zM170.1 66.5h.6v.6h-.6zM169.0 67.3h.6v.6h-.6zM170.2 65.4h.6v.6h-.6zM170.8 64.3h.6v.6h-.6zM169.8 66.3h.6v.6h-.6zM168.7 68.5h.6v.6h-.6zM170.2 64.4h.6v.6h-.6zM170.5 64.8h.6v.6h-.6zM169.4 64.2h.6v.6h-.6zM169.3 67.3h.6v.6h-.6zM171.4 61.2h.6v.6h-.6zM170.8 66.0h.6v.6h-.6zM170.2 67.6h.6v.6h-.6zM170.1 62.9h.6v.6h-.6zM169.3 67.8h.6v.6h-.6zM170.0 66.0h.6v.6h-.6zM170.4 63.7h.6v.6h-.6zM170.6 65.5h.6v.6h-.6zM171.6 62.0h.6v.6h-.6zM170.0 63.4h.6v.6h-.6zM168.7 68.4h.6v.6h-.6zM171.2 63.3h.6v.6h-.6zM168.9 68.5h.6v.6h-.6zM169.8 64.5h.6v.6h-.6zM170.0 67.0h.6v.6h-.6zM170.9 65.3h.6v.6h-.6zM171.8 60.5h.6v.6h-.6zM170.6 63.7h.6v.6h-.6z"/>
<path fill="#000" fill-opacity="0.6" filter="url(#b0)" d="M187.3 53.0h.5v.5h-.5zM185.2 54.9h.5v.5h-.5zM185.6 51.0h.5v.5h-.5zM187.6 52.6h.5v.5h-.5zM187.2 47.1h.5v.5h-.5zM185.2 50.4h.5v.5h-.5zM185.6 55.8h.5v.5h-.5zM188.5 51.4h.5v.5h-.5zM186.7 51.1h.5v.5h-.5zM188.8 50.3h.5v.5h-.5zM188.9 54.3h.5v.5h-.5zM187.1 53.1h.5v.5h-.5zM186.1 49.9h.5v.5h-.5zM185.1 53.8h.5v.5h-.5zM187.0 53.2h.5v.5h-.5zM188.0 54.5h.5v.5h-.5zM187.7 51.4h.5v.5h-.5zM187.2 56.5h.5v.5h-.5zM186.4 53.5h.5v.5h-.5zM187.5 52.5h.5v.5h-.5zM186.7 51.5h.5v.5h-.5zM186.8 52.1h.5v.5h-.5zM185.1 54.2h.5v.5h-.5zM185.1 51.8h.5v.5h-.5zM186.1 54.9h.5v.5h-.5zM185.4 53.7h.5v.5h-.5zM185.3 55.3h.5v.5h-.5zM187.7 54.6h.5v.5h-.5zM187.0 52.5h.5v.5h-.5zM191.6 49.3h.5v.5h-.5zM188.2 53.5h.5v.5h-.5zM186.0 54.2h.5v.5h-.5zM188.1 53.2h.5v.5h-.5zM187.4 54.0h.5v.5h-.5zM186.4 51.5h.5v.5h-.5zM188.7 52.1h.5v.5h-.5zM186.4 50.5h.5v.5h-.5zM182.6 54.9h.5v.5h-.5zM188.1 53.2h.5v.5h-.5zM186.5 51.5h.5v.5h-.5zM189.5 50.2h.5v.5h-.5zM186.3 52.2h.5v.5h-.5zM185.0 55.5h.5v.5h-.5zM189.0 54.0h.5v.5h-.5zM186.0 50.9h.5v.5h-.5zM186.8 55.8h.5v.5h-.5zM188.5 56.1h.5v.5h-.5zM186.9 54.8h.5v.5h-.5zM186.7 54.4h.5v.5h-.5zM186.8 55.2h.5v.5h-.5zM188.0 54.0h.5v.5h-.5zM185.8 54.2h.5v.5h-.5zM188.2 51.2h.5v.5h-.5zM187.3 56.0h.5v.5h-.5zM190.1 53.7h.5v.5h-.5zM185.9 56.9h.5v.5h-.5zM186.7 48.1h.5v.5h-.5zM187.8 54.4h.5v.5h-.5zM186.2 54.7h.5v.5h-.5zM187.6 52.0h.5v.5h-.5zM187.2 65.9h.5v.5h-.5zM187.6 66.3h.5v.5h-.5zM187.4 60.5h.5v.5h-.5zM185.9 60.4h.5v.5h-.5zM186.4 65.2h.5v.5h-.5zM188.0 63.7h.5v.5h-.5zM188.3 60.9h.5v.5h-.5zM186.7 63.1h.5v.5h-.5zM186.7 63.5h.5v.5h-.5zM186.9 63.5h.5v.5h-.5zM188.0 65.8h.5v.5h-.5zM185.2 64.7h.5v.5h-.5zM184.8 68.0h.5v.5h-.5zM186.8 67.1h.5v.5h-.5zM185.1 65.4h.5v.5h-.5zM185.8 66.4h.5v.5h-.5zM186.7 67.0h.5v.5h-.5zM187.2 65.5h.5v.5h-.5zM185.2 60.9h.5v.5h-.5zM187.7 65.9h.5v.5h-.5zM184.2 64.0h.5v.5h-.5zM187.3 67.7h.5v.5h-.5zM184.5 64.0h.5v.5h-.5zM184.9 65.1h.5v.5h-.5zM187.5 64.6h.5v.5h-.5zM186.1 67.8h.5v.5h-.5zM185.5 64.2h.5v.5h-.5zM186.0 63.2h.5v.5h-.5zM187.2 64.5h.5v.5h-.5zM186.5 62.7h.5v.5h-.5zM186.6 64.2h.5v.5h-.5zM188.0 63.8h.5v.5h-.5zM185.6 64.5h.5v.5h-.5zM186.0 68.4h.5v.5h-.5zM185.9 62.8h.5v.5h-.5zM188.2 63.9h.5v.5h-.5zM187.9 63.3h.5v.5h-.5zM188.3 65.4h.5v.5h-.5zM186.6 61.0h.5v.5h-.5zM186.4 62.1h.5v.5h-.5zM187.7 63.7h.5v.5h-.5zM186.1 65.1h.5v.5h-.5zM187.7 63.7h.5v.5h-.5zM187.6 62.6h.5v.5h-.5zM185.7 61.7h.5v.5h-.5zM186.5 65.0h.5v.5h-.5zM186.4 67.3h.5v.5h-.5zM188.9 64.6h.5v.5h-.5zM190.0 64.3h.5v.5h-.5zM186.5 64.9h.5v.5h-.5zM186.6 61.5h.5v.5h-.5zM183.6 63.1h.5v.5h-.5zM186.9 63.2h.5v.5h-.5zM186.6 64.5h.5v.5h-.5zM185.2 63.7h.5v.5h-.5zM187.6 60.9h.5v.5h-.5zM184.5 66.5h.5v.5h-.5zM186.3 67.9h.5v.5h-.5zM186.8 63.2h.5v.5h-.5zM184.9 64.8h.5v.5h-.5z"/>
<path fill="#000" fill-opacity="0.3" filter="url(#b0)" d="M179.0 50.4h.5v.5h-.5zM183.7 46.4h.5v.5h-.5zM163.3 46.2h.5v.5h-.5zM191.1 50.0h.5v.5h-.5zM172.4 59.6h.5v.5h-.5zM188.0 45.5h.5v.5h-.5zM177.3 63.2h.5v.5h-.5zM173.1 55.4h.5v.5h-.5zM175.3 50.8h.5v.5h-.5zM184.7 40.8h.5v.5h-.5zM168.8 55.0h.5v.5h-.5zM173.2 59.0h.5v.5h-.5zM172.3 36.9h.5v.5h-.5zM161.2 63.5h.5v.5h-.5zM188.3 67.6h.5v.5h-.5zM181.8 55.8h.5v.5h-.5zM176.4 57.2h.5v.5h-.5zM168.0 63.9h.5v.5h-.5zM175.9 44.7h.5v.5h-.5zM192.1 52.7h.5v.5h-.5zM185.4 51.4h.5v.5h-.5zM167.3 59.6h.5v.5h-.5zM186.2 47.1h.5v.5h-.5zM172.3 54.3h.5v.5h-.5zM174.6 51.6h.5v.5h-.5zM182.1 60.6h.5v.5h-.5zM168.6 50.1h.5v.5h-.5zM178.5 45.6h.5v.5h-.5zM183.7 57.6h.5v.5h-.5zM180.8 65.4h.5v.5h-.5zM180.2 49.9h.5v.5h-.5zM171.2 65.1h.5v.5h-.5zM181.2 55.2h.5v.5h-.5zM172.8 48.0h.5v.5h-.5zM188.3 66.5h.5v.5h-.5zM169.9 61.9h.5v.5h-.5zM172.8 56.9h.5v.5h-.5zM180.0 41.7h.5v.5h-.5zM186.1 45.3h.5v.5h-.5zM186.3 62.4h.5v.5h-.5zM169.5 54.5h.5v.5h-.5zM169.5 53.1h.5v.5h-.5zM188.0 48.8h.5v.5h-.5zM166.8 56.8h.5v.5h-.5zM186.4 40.2h.5v.5h-.5zM174.6 42.7h.5v.5h-.5zM183.5 51.4h.5v.5h-.5zM183.0 45.3h.5v.5h-.5zM183.6 46.5h.5v.5h-.5zM184.0 52.2h.5v.5h-.5zM167.7 51.6h.5v.5h-.5zM179.3 50.8h.5v.5h-.5zM176.7 67.8h.5v.5h-.5zM179.4 61.9h.5v.5h-.5zM187.7 63.9h.5v.5h-.5z"/>
<ellipse cx="187.50" cy="51.80" rx="6.00" ry="8.20" transform="rotate(20 187.50 51.80)" fill="none" stroke="#555" stroke-width="0.5"/>
<rect x="170.00" y="34.00" width="23.60" height="5.00" fill="#fff" stroke="#d0d0d0" stroke-width="0.45" rx="1.0"/>
<text x="181.80" y="38.05" font-size="4.5" text-anchor="middle" fill="#111" textLength="21.00" lengthAdjust="spacingAndGlyphs">CLL : 48,88%</text>
<rect x="198.90" y="31.20" width="39.00" height="39.70" fill="#fff" stroke="#9a9a9a" stroke-width="0.7"/>
<line x1="198.90" y1="31.40" x2="237.90" y2="31.40" stroke="#c4c4c4" stroke-width="1.2"/>
<line x1="197.50" y1="32.10" x2="198.90" y2="32.10" stroke="#888" stroke-width="0.4" />
<rect x="195.00" y="31.60" width="1.8" height="1.1" fill="#aaa"/>
<line x1="197.50" y1="40.88" x2="198.90" y2="40.88" stroke="#888" stroke-width="0.4" />
<rect x="195.00" y="40.38" width="1.8" height="1.1" fill="#aaa"/>
<line x1="197.50" y1="49.66" x2="198.90" y2="49.66" stroke="#888" stroke-width="0.4" />
<rect x="195.00" y="49.16" width="1.8" height="1.1" fill="#aaa"/>
<line x1="197.50" y1="58.44" x2="198.90" y2="58.44" stroke="#888" stroke-width="0.4" />
<rect x="195.00" y="57.94" width="1.8" height="1.1" fill="#aaa"/>
<line x1="197.50" y1="67.22" x2="198.90" y2="67.22" stroke="#888" stroke-width="0.4" />
<rect x="195.00" y="66.72" width="1.8" height="1.1" fill="#aaa"/>
<line x1="203.60" y1="70.90" x2="203.60" y2="72.30" stroke="#888" stroke-width="0.4" />
<rect x="202.70" y="72.80" width="1.8" height="1.0" fill="#aaa"/>
<line x1="211.45" y1="70.90" x2="211.45" y2="72.30" stroke="#888" stroke-width="0.4" />
<rect x="210.55" y="72.80" width="1.8" height="1.0" fill="#aaa"/>
<line x1="219.30" y1="70.90" x2="219.30" y2="72.30" stroke="#888" stroke-width="0.4" />
<rect x="218.40" y="72.80" width="1.8" height="1.0" fill="#aaa"/>
<line x1="227.15" y1="70.90" x2="227.15" y2="72.30" stroke="#888" stroke-width="0.4" />
<rect x="226.25" y="72.80" width="1.8" height="1.0" fill="#aaa"/>
<line x1="235.00" y1="70.90" x2="235.00" y2="72.30" stroke="#888" stroke-width="0.4" />
<rect x="234.10" y="72.80" width="1.8" height="1.0" fill="#aaa"/>
<ellipse cx="208.90" cy="48.30" rx="3.07" ry="5.04" transform="rotate(5 208.90 48.30)" fill="#000" fill-opacity="0.6" filter="url(#b2)"/>
<ellipse cx="209.80" cy="66.30" rx="2.31" ry="2.52" transform="rotate(0 209.80 66.30)" fill="#000" fill-opacity="0.5" filter="url(#b2)"/>
<ellipse cx="224.60" cy="55.60" rx="3.22" ry="5.70" transform="rotate(20 224.60 55.60)" fill="#000" fill-opacity="0.45" filter="url(#b2)"/>
<ellipse cx="224.60" cy="55.60" rx="2.44" ry="4.46" transform="rotate(20 224.60 55.60)" fill="#000" fill-opacity="1.0" filter="url(#b1)"/>
<ellipse cx="223.80" cy="63.60" rx="3.47" ry="4.80" transform="rotate(15 223.80 63.60)" fill="#000" fill-opacity="0.45" filter="url(#b2)"/>
<ellipse cx="223.80" cy="63.60" rx="2.63" ry="3.76" transform="rotate(15 223.80 63.60)" fill="#000" fill-opacity="1.0" filter="url(#b1)"/>
<path fill="#000" fill-opacity="0.55" filter="url(#b0)" d="M207.8 46.3h.6v.6h-.6zM208.8 45.1h.6v.6h-.6zM212.2 47.3h.6v.6h-.6zM209.9 51.3h.6v.6h-.6zM205.4 52.0h.6v.6h-.6zM209.0 47.2h.6v.6h-.6zM207.6 49.7h.6v.6h-.6zM209.2 48.3h.6v.6h-.6zM206.1 45.0h.6v.6h-.6zM209.3 49.0h.6v.6h-.6zM209.3 48.5h.6v.6h-.6zM212.3 43.9h.6v.6h-.6zM209.2 51.9h.6v.6h-.6zM210.3 43.6h.6v.6h-.6zM206.0 48.9h.6v.6h-.6zM213.4 45.5h.6v.6h-.6zM205.5 45.5h.6v.6h-.6zM211.2 46.4h.6v.6h-.6zM208.1 50.5h.6v.6h-.6zM207.6 44.3h.6v.6h-.6zM207.7 47.7h.6v.6h-.6zM207.2 53.1h.6v.6h-.6zM209.8 46.3h.6v.6h-.6zM208.7 48.2h.6v.6h-.6zM211.5 50.7h.6v.6h-.6zM205.6 46.2h.6v.6h-.6zM208.8 49.8h.6v.6h-.6zM207.4 46.2h.6v.6h-.6zM210.2 50.7h.6v.6h-.6zM204.9 48.2h.6v.6h-.6zM208.5 45.4h.6v.6h-.6zM208.9 52.8h.6v.6h-.6zM206.1 47.8h.6v.6h-.6zM210.8 47.6h.6v.6h-.6zM209.5 45.5h.6v.6h-.6zM210.9 47.1h.6v.6h-.6zM210.7 48.2h.6v.6h-.6zM207.0 48.7h.6v.6h-.6zM207.1 51.6h.6v.6h-.6zM208.9 44.2h.6v.6h-.6zM210.4 47.4h.6v.6h-.6zM210.2 52.2h.6v.6h-.6zM207.5 48.8h.6v.6h-.6zM207.6 49.5h.6v.6h-.6zM207.0 53.2h.6v.6h-.6zM207.7 49.3h.6v.6h-.6zM208.3 49.8h.6v.6h-.6zM208.7 48.2h.6v.6h-.6zM212.3 54.2h.6v.6h-.6zM207.7 51.5h.6v.6h-.6zM208.5 46.0h.6v.6h-.6zM209.6 50.1h.6v.6h-.6zM207.4 44.6h.6v.6h-.6zM207.9 51.7h.6v.6h-.6zM208.7 50.4h.6v.6h-.6zM210.4 48.0h.6v.6h-.6zM206.5 46.9h.6v.6h-.6zM212.0 43.0h.6v.6h-.6zM208.0 50.6h.6v.6h-.6zM209.3 48.0h.6v.6h-.6zM210.6 47.5h.6v.6h-.6zM210.0 50.7h.6v.6h-.6zM211.1 46.4h.6v.6h-.6zM209.4 46.5h.6v.6h-.6zM209.1 46.1h.6v.6h-.6zM209.9 44.2h.6v.6h-.6zM206.4 55.6h.6v.6h-.6zM211.2 47.9h.6v.6h-.6zM207.5 47.1h.6v.6h-.6zM206.3 50.9h.6v.6h-.6zM213.6 38.8h.6v.6h-.6zM208.7 48.2h.6v.6h-.6zM206.7 48.1h.6v.6h-.6zM212.7 45.6h.6v.6h-.6zM208.2 49.7h.6v.6h-.6zM211.5 42.2h.6v.6h-.6zM207.3 48.1h.6v.6h-.6zM208.2 50.9h.6v.6h-.6zM206.3 41.0h.6v.6h-.6zM205.7 43.3h.6v.6h-.6zM207.1 47.5h.6v.6h-.6zM208.8 48.0h.6v.6h-.6zM210.6 46.2h.6v.6h-.6zM213.4 49.5h.6v.6h-.6zM206.9 48.6h.6v.6h-.6zM211.2 43.9h.6v.6h-.6zM207.8 47.5h.6v.6h-.6zM209.0 43.9h.6v.6h-.6zM206.7 41.2h.6v.6h-.6zM206.8 40.1h.6v.6h-.6zM207.2 50.9h.6v.6h-.6zM206.7 47.2h.6v.6h-.6zM208.4 53.9h.6v.6h-.6zM208.0 43.1h.6v.6h-.6zM211.4 46.9h.6v.6h-.6zM209.1 48.8h.6v.6h-.6zM209.3 47.3h.6v.6h-.6zM211.0 49.5h.6v.6h-.6zM209.9 48.3h.6v.6h-.6zM209.0 45.9h.6v.6h-.6zM209.4 40.5h.6v.6h-.6zM209.0 44.8h.6v.6h-.6zM210.5 53.3h.6v.6h-.6zM210.2 50.3h.6v.6h-.6zM209.3 52.2h.6v.6h-.6zM210.6 46.1h.6v.6h-.6zM208.0 47.2h.6v.6h-.6zM210.1 45.2h.6v.6h-.6zM206.2 48.9h.6v.6h-.6zM211.5 48.3h.6v.6h-.6zM209.0 49.3h.6v.6h-.6zM208.8 53.4h.6v.6h-.6zM210.3 45.4h.6v.6h-.6zM208.7 50.2h.6v.6h-.6zM208.8 43.5h.6v.6h-.6zM210.9 51.5h.6v.6h-.6zM209.3 46.6h.6v.6h-.6zM207.2 47.5h.6v.6h-.6zM209.7 48.4h.6v.6h-.6zM205.3 52.8h.6v.6h-.6zM212.1 48.1h.6v.6h-.6zM208.7 46.3h.6v.6h-.6zM209.3 44.2h.6v.6h-.6zM213.1 49.2h.6v.6h-.6zM213.2 45.6h.6v.6h-.6zM209.3 46.4h.6v.6h-.6zM210.1 47.9h.6v.6h-.6zM210.8 50.2h.6v.6h-.6zM212.3 46.0h.6v.6h-.6zM208.5 50.0h.6v.6h-.6zM208.7 53.4h.6v.6h-.6zM211.7 43.5h.6v.6h-.6zM209.1 52.2h.6v.6h-.6zM209.8 54.7h.6v.6h-.6zM210.2 46.2h.6v.6h-.6zM206.6 49.6h.6v.6h-.6zM207.7 43.5h.6v.6h-.6zM203.8 48.5h.6v.6h-.6zM208.5 46.9h.6v.6h-.6zM211.4 49.1h.6v.6h-.6zM207.1 44.9h.6v.6h-.6zM211.5 45.6h.6v.6h-.6zM210.9 46.7h.6v.6h-.6zM209.0 45.7h.6v.6h-.6zM209.1 46.0h.6v.6h-.6zM209.1 47.3h.6v.6h-.6zM207.6 44.3h.6v.6h-.6zM208.4 47.4h.6v.6h-.6zM208.7 49.4h.6v.6h-.6zM210.7 40.8h.6v.6h-.6zM210.4 48.6h.6v.6h-.6zM207.7 45.4h.6v.6h-.6zM210.8 44.5h.6v.6h-.6zM207.8 43.5h.6v.6h-.6zM208.9 45.1h.6v.6h-.6zM209.8 45.5h.6v.6h-.6zM208.8 48.9h.6v.6h-.6zM209.0 43.8h.6v.6h-.6zM209.2 51.1h.6v.6h-.6zM208.1 45.2h.6v.6h-.6zM207.5 49.8h.6v.6h-.6zM208.3 51.1h.6v.6h-.6zM211.1 44.2h.6v.6h-.6zM208.5 51.1h.6v.6h-.6zM211.9 55.0h.6v.6h-.6zM209.5 46.6h.6v.6h-.6zM203.1 49.3h.6v.6h-.6zM208.1 47.5h.6v.6h-.6zM212.1 48.5h.6v.6h-.6zM209.0 47.4h.6v.6h-.6zM208.2 46.4h.6v.6h-.6zM207.1 50.2h.6v.6h-.6zM211.2 51.1h.6v.6h-.6zM210.8 48.3h.6v.6h-.6zM209.8 53.0h.6v.6h-.6zM209.4 51.6h.6v.6h-.6zM211.4 50.6h.6v.6h-.6zM210.7 46.1h.6v.6h-.6zM206.1 53.9h.6v.6h-.6zM210.0 52.5h.6v.6h-.6zM209.8 41.6h.6v.6h-.6zM209.0 44.8h.6v.6h-.6zM210.5 46.9h.6v.6h-.6zM208.7 51.2h.6v.6h-.6zM203.0 51.6h.6v.6h-.6zM211.9 47.6h.6v.6h-.6zM210.8 49.2h.6v.6h-.6zM208.5 50.4h.6v.6h-.6zM208.5 44.2h.6v.6h-.6zM209.2 50.2h.6v.6h-.6zM206.6 47.1h.6v.6h-.6zM209.4 48.9h.6v.6h-.6zM208.5 48.1h.6v.6h-.6zM208.6 44.6h.6v.6h-.6zM207.4 45.0h.6v.6h-.6zM207.6 48.3h.6v.6h-.6zM211.0 48.9h.6v.6h-.6zM211.5 47.7h.6v.6h-.6zM209.6 51.7h.6v.6h-.6zM208.9 47.2h.6v.6h-.6zM207.6 44.4h.6v.6h-.6zM210.4 47.3h.6v.6h-.6zM212.0 48.0h.6v.6h-.6zM205.9 47.6h.6v.6h-.6zM210.8 52.1h.6v.6h-.6zM204.7 49.5h.6v.6h-.6zM208.0 51.5h.6v.6h-.6zM209.5 50.3h.6v.6h-.6zM206.4 47.6h.6v.6h-.6zM205.7 51.3h.6v.6h-.6zM209.3 47.5h.6v.6h-.6zM210.5 49.2h.6v.6h-.6zM208.3 45.1h.6v.6h-.6zM211.4 48.8h.6v.6h-.6zM207.5 47.2h.6v.6h-.6zM212.1 49.8h.6v.6h-.6zM208.6 54.0h.6v.6h-.6zM208.7 55.7h.6v.6h-.6zM209.8 51.6h.6v.6h-.6zM209.5 48.3h.6v.6h-.6zM212.2 51.2h.6v.6h-.6zM213.0 49.4h.6v.6h-.6zM210.1 46.5h.6v.6h-.6zM208.6 48.1h.6v.6h-.6zM206.7 47.4h.6v.6h-.6zM207.6 46.3h.6v.6h-.6zM208.5 52.6h.6v.6h-.6zM208.9 46.6h.6v.6h-.6zM209.0 46.8h.6v.6h-.6zM208.7 50.5h.6v.6h-.6zM210.0 46.3h.6v.6h-.6zM206.7 44.5h.6v.6h-.6zM207.2 45.5h.6v.6h-.6zM210.9 50.0h.6v.6h-.6zM210.4 49.6h.6v.6h-.6zM207.8 49.2h.6v.6h-.6zM211.5 47.1h.6v.6h-.6zM207.9 45.4h.6v.6h-.6zM208.2 51.1h.6v.6h-.6zM205.8 43.5h.6v.6h-.6zM210.6 47.8h.6v.6h-.6zM209.2 44.2h.6v.6h-.6zM211.0 47.3h.6v.6h-.6zM210.3 48.0h.6v.6h-.6zM208.8 52.2h.6v.6h-.6zM210.0 39.5h.6v.6h-.6zM210.8 52.8h.6v.6h-.6zM208.8 45.6h.6v.6h-.6zM208.5 49.2h.6v.6h-.6zM208.8 50.9h.6v.6h-.6zM210.7 46.1h.6v.6h-.6zM210.7 48.2h.6v.6h-.6zM212.4 50.2h.6v.6h-.6zM208.8 48.0h.6v.6h-.6zM211.5 46.3h.6v.6h-.6zM207.7 48.9h.6v.6h-.6zM210.1 48.8h.6v.6h-.6zM209.6 43.7h.6v.6h-.6zM211.9 52.9h.6v.6h-.6zM210.1 49.2h.6v.6h-.6zM208.8 40.8h.6v.6h-.6zM210.3 45.9h.6v.6h-.6zM209.2 53.8h.6v.6h-.6zM207.9 53.3h.6v.6h-.6zM208.3 49.2h.6v.6h-.6zM207.7 43.0h.6v.6h-.6zM214.3 48.1h.6v.6h-.6zM208.9 51.7h.6v.6h-.6zM210.7 49.8h.6v.6h-.6zM206.9 47.2h.6v.6h-.6zM207.1 46.0h.6v.6h-.6zM208.5 51.0h.6v.6h-.6zM208.8 47.7h.6v.6h-.6zM210.4 49.6h.6v.6h-.6zM207.0 49.8h.6v.6h-.6zM209.6 53.6h.6v.6h-.6zM211.8 49.3h.6v.6h-.6zM207.2 49.1h.6v.6h-.6zM211.2 43.0h.6v.6h-.6zM206.9 51.7h.6v.6h-.6zM209.4 51.3h.6v.6h-.6zM209.7 48.5h.6v.6h-.6zM212.9 41.7h.6v.6h-.6zM207.8 46.6h.6v.6h-.6zM209.3 48.7h.6v.6h-.6zM210.4 55.1h.6v.6h-.6zM206.6 50.1h.6v.6h-.6zM208.8 50.9h.6v.6h-.6zM207.1 50.8h.6v.6h-.6zM207.3 52.5h.6v.6h-.6zM210.6 45.0h.6v.6h-.6zM210.5 45.9h.6v.6h-.6zM214.2 45.2h.6v.6h-.6zM211.7 47.8h.6v.6h-.6zM211.5 47.5h.6v.6h-.6zM208.6 48.7h.6v.6h-.6zM208.7 45.2h.6v.6h-.6zM209.2 48.7h.6v.6h-.6zM204.9 45.4h.6v.6h-.6zM211.5 55.3h.6v.6h-.6z"/>
<path fill="#000" fill-opacity="0.5" filter="url(#b0)" d="M209.1 68.0h.6v.6h-.6zM213.5 63.5h.6v.6h-.6zM212.2 64.3h.6v.6h-.6zM208.1 65.9h.6v.6h-.6zM211.2 64.8h.6v.6h-.6zM210.7 66.3h.6v.6h-.6zM207.6 66.3h.6v.6h-.6zM210.7 66.9h.6v.6h-.6zM209.7 66.1h.6v.6h-.6zM210.3 67.2h.6v.6h-.6zM208.6 67.5h.6v.6h-.6zM209.8 66.6h.6v.6h-.6zM210.4 64.4h.6v.6h-.6zM209.6 68.4h.6v.6h-.6zM209.0 66.7h.6v.6h-.6zM209.6 67.0h.6v.6h-.6zM208.4 66.6h.6v.6h-.6zM210.3 63.8h.6v.6h-.6zM206.2 67.2h.6v.6h-.6zM212.0 65.3h.6v.6h-.6zM209.9 64.4h.6v.6h-.6zM210.5 68.4h.6v.6h-.6zM211.1 65.9h.6v.6h-.6zM208.1 66.8h.6v.6h-.6zM213.1 67.7h.6v.6h-.6zM208.2 68.9h.6v.6h-.6zM210.5 63.5h.6v.6h-.6zM210.3 65.2h.6v.6h-.6zM211.7 67.4h.6v.6h-.6zM209.8 65.3h.6v.6h-.6zM207.8 61.2h.6v.6h-.6zM210.3 66.6h.6v.6h-.6zM206.3 66.7h.6v.6h-.6zM209.5 67.6h.6v.6h-.6zM209.2 66.7h.6v.6h-.6zM212.1 65.6h.6v.6h-.6zM209.4 66.7h.6v.6h-.6zM209.2 66.3h.6v.6h-.6zM208.7 65.5h.6v.6h-.6zM208.6 66.7h.6v.6h-.6zM209.0 66.9h.6v.6h-.6zM210.7 64.7h.6v.6h-.6zM207.9 67.9h.6v.6h-.6zM209.5 67.6h.6v.6h-.6zM207.7 67.6h.6v.6h-.6zM209.6 62.0h.6v.6h-.6zM210.0 66.5h.6v.6h-.6zM208.0 66.1h.6v.6h-.6zM209.0 64.8h.6v.6h-.6zM210.0 67.2h.6v.6h-.6zM210.9 64.0h.6v.6h-.6zM211.2 68.3h.6v.6h-.6zM209.6 66.9h.6v.6h-.6zM208.4 65.5h.6v.6h-.6zM207.5 68.6h.6v.6h-.6zM210.9 67.0h.6v.6h-.6zM211.8 66.8h.6v.6h-.6zM210.3 64.3h.6v.6h-.6zM212.0 67.1h.6v.6h-.6zM209.1 68.5h.6v.6h-.6zM209.2 68.1h.6v.6h-.6zM212.1 64.3h.6v.6h-.6zM208.4 68.5h.6v.6h-.6zM210.7 68.8h.6v.6h-.6zM210.4 67.6h.6v.6h-.6zM210.0 65.7h.6v.6h-.6zM212.3 63.9h.6v.6h-.6zM208.5 64.9h.6v.6h-.6zM209.2 65.4h.6v.6h-.6zM206.8 66.7h.6v.6h-.6zM208.3 67.2h.6v.6h-.6zM209.1 65.1h.6v.6h-.6zM209.2 63.7h.6v.6h-.6zM209.5 65.6h.6v.6h-.6zM210.2 64.2h.6v.6h-.6zM208.8 68.4h.6v.6h-.6zM207.0 64.3h.6v.6h-.6zM210.0 67.0h.6v.6h-.6zM210.4 67.6h.6v.6h-.6zM208.1 64.7h.6v.6h-.6zM208.7 67.8h.6v.6h-.6zM212.3 66.0h.6v.6h-.6zM211.3 65.0h.6v.6h-.6zM211.4 64.8h.6v.6h-.6zM210.8 66.4h.6v.6h-.6zM210.0 67.9h.6v.6h-.6zM209.1 63.2h.6v.6h-.6zM210.6 67.2h.6v.6h-.6zM209.5 66.0h.6v.6h-.6zM209.2 65.0h.6v.6h-.6zM209.8 66.1h.6v.6h-.6zM209.7 66.2h.6v.6h-.6zM211.1 66.1h.6v.6h-.6zM208.4 67.5h.6v.6h-.6zM213.4 64.8h.6v.6h-.6zM208.3 69.3h.6v.6h-.6zM209.2 67.6h.6v.6h-.6zM211.2 65.3h.6v.6h-.6zM208.6 63.2h.6v.6h-.6zM209.1 66.2h.6v.6h-.6zM209.8 65.6h.6v.6h-.6zM205.5 67.4h.6v.6h-.6zM209.1 67.4h.6v.6h-.6zM208.4 69.3h.6v.6h-.6zM209.4 66.0h.6v.6h-.6zM210.5 67.5h.6v.6h-.6zM210.7 65.6h.6v.6h-.6zM212.0 65.7h.6v.6h-.6zM211.9 68.7h.6v.6h-.6zM211.3 66.1h.6v.6h-.6zM209.7 66.1h.6v.6h-.6zM211.3 65.7h.6v.6h-.6zM208.4 66.8h.6v.6h-.6zM209.7 67.2h.6v.6h-.6zM211.9 66.1h.6v.6h-.6zM210.9 64.5h.6v.6h-.6zM207.8 66.8h.6v.6h-.6zM209.0 65.0h.6v.6h-.6zM211.1 65.7h.6v.6h-.6zM210.7 66.6h.6v.6h-.6z"/>
<path fill="#000" fill-opacity="0.6" filter="url(#b0)" d="M224.9 56.1h.5v.5h-.5zM220.6 54.2h.5v.5h-.5zM226.0 60.8h.5v.5h-.5zM223.9 61.8h.5v.5h-.5zM229.4 52.8h.5v.5h-.5zM228.3 59.0h.5v.5h-.5zM223.9 52.5h.5v.5h-.5zM225.1 51.1h.5v.5h-.5zM225.7 53.9h.5v.5h-.5zM225.3 58.5h.5v.5h-.5zM224.1 54.1h.5v.5h-.5zM224.6 53.8h.5v.5h-.5zM225.1 59.8h.5v.5h-.5zM222.6 56.2h.5v.5h-.5zM225.1 55.3h.5v.5h-.5zM224.7 61.0h.5v.5h-.5zM223.7 56.6h.5v.5h-.5zM226.6 54.0h.5v.5h-.5zM225.4 52.5h.5v.5h-.5zM222.2 53.4h.5v.5h-.5zM223.4 55.7h.5v.5h-.5zM223.3 58.0h.5v.5h-.5zM223.1 57.6h.5v.5h-.5zM224.4 55.9h.5v.5h-.5zM226.3 52.7h.5v.5h-.5zM224.1 58.3h.5v.5h-.5zM224.7 55.9h.5v.5h-.5zM224.8 52.4h.5v.5h-.5zM225.3 52.1h.5v.5h-.5zM223.6 55.9h.5v.5h-.5zM223.1 56.1h.5v.5h-.5zM226.0 58.6h.5v.5h-.5zM222.4 51.0h.5v.5h-.5zM223.0 60.8h.5v.5h-.5zM223.4 49.6h.5v.5h-.5zM223.4 55.0h.5v.5h-.5zM224.5 59.6h.5v.5h-.5zM222.9 58.1h.5v.5h-.5zM227.8 53.8h.5v.5h-.5zM222.2 56.5h.5v.5h-.5zM222.7 58.6h.5v.5h-.5zM222.6 57.0h.5v.5h-.5zM225.4 52.8h.5v.5h-.5zM222.2 59.7h.5v.5h-.5zM225.3 50.8h.5v.5h-.5zM224.5 55.6h.5v.5h-.5zM227.3 53.2h.5v.5h-.5zM225.0 54.3h.5v.5h-.5zM224.8 54.5h.5v.5h-.5zM223.3 56.5h.5v.5h-.5zM224.3 51.5h.5v.5h-.5zM221.6 55.0h.5v.5h-.5zM221.2 58.2h.5v.5h-.5zM224.3 55.5h.5v.5h-.5zM220.5 55.6h.5v.5h-.5zM225.0 56.9h.5v.5h-.5zM224.3 53.0h.5v.5h-.5zM223.0 53.7h.5v.5h-.5zM223.3 55.1h.5v.5h-.5zM224.9 57.0h.5v.5h-.5zM227.5 64.7h.5v.5h-.5zM226.5 65.3h.5v.5h-.5zM223.3 61.5h.5v.5h-.5zM223.2 62.0h.5v.5h-.5zM223.3 57.2h.5v.5h-.5zM219.8 60.5h.5v.5h-.5zM226.5 63.0h.5v.5h-.5zM223.1 69.8h.5v.5h-.5zM220.8 59.3h.5v.5h-.5zM223.7 63.6h.5v.5h-.5zM228.4 63.9h.5v.5h-.5zM225.6 60.0h.5v.5h-.5zM224.5 64.4h.5v.5h-.5zM224.1 63.6h.5v.5h-.5zM223.2 59.7h.5v.5h-.5zM222.9 57.4h.5v.5h-.5zM222.2 62.9h.5v.5h-.5zM224.9 60.2h.5v.5h-.5zM222.8 65.0h.5v.5h-.5zM225.2 63.2h.5v.5h-.5zM226.8 65.7h.5v.5h-.5zM225.1 63.1h.5v.5h-.5zM224.4 67.6h.5v.5h-.5zM222.6 65.0h.5v.5h-.5zM220.3 66.5h.5v.5h-.5zM227.8 64.9h.5v.5h-.5zM225.8 61.5h.5v.5h-.5zM226.9 60.8h.5v.5h-.5zM223.3 62.2h.5v.5h-.5zM220.3 63.4h.5v.5h-.5zM226.7 62.8h.5v.5h-.5zM218.1 68.3h.5v.5h-.5zM223.5 63.3h.5v.5h-.5zM222.4 64.4h.5v.5h-.5zM224.1 63.9h.5v.5h-.5zM226.1 61.0h.5v.5h-.5zM224.6 66.5h.5v.5h-.5zM219.3 64.1h.5v.5h-.5zM225.1 66.2h.5v.5h-.5zM220.7 60.4h.5v.5h-.5zM225.0 64.0h.5v.5h-.5zM222.9 63.3h.5v.5h-.5zM220.8 65.8h.5v.5h-.5zM223.6 60.1h.5v.5h-.5zM220.8 64.5h.5v.5h-.5zM222.9 66.6h.5v.5h-.5zM225.8 63.1h.5v.5h-.5zM225.8 62.1h.5v.5h-.5zM223.0 66.8h.5v.5h-.5zM225.7 64.8h.5v.5h-.5zM224.0 66.6h.5v.5h-.5zM227.4 66.6h.5v.5h-.5zM224.0 66.5h.5v.5h-.5zM222.7 62.9h.5v.5h-.5zM224.5 58.5h.5v.5h-.5zM221.9 64.7h.5v.5h-.5zM223.6 61.9h.5v.5h-.5zM223.0 65.1h.5v.5h-.5zM225.4 62.8h.5v.5h-.5zM224.2 68.0h.5v.5h-.5z"/>
<path fill="#000" fill-opacity="0.3" filter="url(#b0)" d="M217.1 49.9h.5v.5h-.5zM227.0 55.0h.5v.5h-.5zM229.6 47.3h.5v.5h-.5zM218.7 65.1h.5v.5h-.5zM222.4 46.7h.5v.5h-.5zM219.2 53.6h.5v.5h-.5zM210.9 65.8h.5v.5h-.5zM233.0 58.6h.5v.5h-.5zM210.9 56.4h.5v.5h-.5zM204.9 56.2h.5v.5h-.5zM214.7 56.8h.5v.5h-.5zM220.5 59.7h.5v.5h-.5zM219.9 50.8h.5v.5h-.5zM216.2 35.2h.5v.5h-.5zM215.1 66.1h.5v.5h-.5zM235.3 56.3h.5v.5h-.5zM202.6 64.6h.5v.5h-.5zM226.1 57.6h.5v.5h-.5zM217.6 62.2h.5v.5h-.5zM212.2 55.2h.5v.5h-.5zM205.7 50.2h.5v.5h-.5zM208.3 53.7h.5v.5h-.5zM228.4 33.0h.5v.5h-.5zM217.8 60.2h.5v.5h-.5zM219.4 53.9h.5v.5h-.5zM233.9 49.3h.5v.5h-.5zM209.1 52.5h.5v.5h-.5zM226.2 47.3h.5v.5h-.5zM213.4 48.9h.5v.5h-.5zM227.1 59.7h.5v.5h-.5zM221.4 51.1h.5v.5h-.5zM212.5 59.8h.5v.5h-.5zM229.3 46.7h.5v.5h-.5zM224.5 36.3h.5v.5h-.5zM236.5 47.1h.5v.5h-.5z"/>
<ellipse cx="225.00" cy="52.50" rx="6.20" ry="8.20" transform="rotate(20 225.00 52.50)" fill="none" stroke="#555" stroke-width="0.5"/>
<rect x="210.70" y="34.20" width="24.90" height="5.30" fill="#fff" stroke="#d0d0d0" stroke-width="0.45" rx="1.0"/>
<text x="223.15" y="38.40" font-size="4.5" text-anchor="middle" fill="#111" textLength="22.30" lengthAdjust="spacingAndGlyphs">CLL : 46,99%</text>
<rect x="241.40" y="31.20" width="39.20" height="39.50" fill="#fff" stroke="#9a9a9a" stroke-width="0.7"/>
<line x1="241.40" y1="31.40" x2="280.60" y2="31.40" stroke="#c4c4c4" stroke-width="1.2"/>
<line x1="240.00" y1="32.10" x2="241.40" y2="32.10" stroke="#888" stroke-width="0.4" />
<rect x="237.50" y="31.60" width="1.8" height="1.1" fill="#aaa"/>
<line x1="240.00" y1="40.88" x2="241.40" y2="40.88" stroke="#888" stroke-width="0.4" />
<rect x="237.50" y="40.38" width="1.8" height="1.1" fill="#aaa"/>
<line x1="240.00" y1="49.66" x2="241.40" y2="49.66" stroke="#888" stroke-width="0.4" />
<rect x="237.50" y="49.16" width="1.8" height="1.1" fill="#aaa"/>
<line x1="240.00" y1="58.44" x2="241.40" y2="58.44" stroke="#888" stroke-width="0.4" />
<rect x="237.50" y="57.94" width="1.8" height="1.1" fill="#aaa"/>
<line x1="240.00" y1="67.22" x2="241.40" y2="67.22" stroke="#888" stroke-width="0.4" />
<rect x="237.50" y="66.72" width="1.8" height="1.1" fill="#aaa"/>
<line x1="246.10" y1="70.70" x2="246.10" y2="72.10" stroke="#888" stroke-width="0.4" />
<rect x="245.20" y="72.60" width="1.8" height="1.0" fill="#aaa"/>
<line x1="253.95" y1="70.70" x2="253.95" y2="72.10" stroke="#888" stroke-width="0.4" />
<rect x="253.05" y="72.60" width="1.8" height="1.0" fill="#aaa"/>
<line x1="261.80" y1="70.70" x2="261.80" y2="72.10" stroke="#888" stroke-width="0.4" />
<rect x="260.90" y="72.60" width="1.8" height="1.0" fill="#aaa"/>
<line x1="269.65" y1="70.70" x2="269.65" y2="72.10" stroke="#888" stroke-width="0.4" />
<rect x="268.75" y="72.60" width="1.8" height="1.0" fill="#aaa"/>
<line x1="277.50" y1="70.70" x2="277.50" y2="72.10" stroke="#888" stroke-width="0.4" />
<rect x="276.60" y="72.60" width="1.8" height="1.0" fill="#aaa"/>
<ellipse cx="253.20" cy="46.50" rx="2.10" ry="3.78" transform="rotate(20 253.20 46.50)" fill="#000" fill-opacity="0.14" filter="url(#b2)"/>
<ellipse cx="252.70" cy="64.90" rx="2.52" ry="2.10" transform="rotate(0 252.70 64.90)" fill="#000" fill-opacity="0.25" filter="url(#b2)"/>
<ellipse cx="267.90" cy="53.90" rx="2.85" ry="4.38" transform="rotate(10 267.90 53.90)" fill="#000" fill-opacity="0.45" filter="url(#b2)"/>
<ellipse cx="267.90" cy="53.90" rx="2.16" ry="3.43" transform="rotate(10 267.90 53.90)" fill="#000" fill-opacity="1.0" filter="url(#b1)"/>
<ellipse cx="267.00" cy="63.20" rx="3.10" ry="4.20" transform="rotate(5 267.00 63.20)" fill="#000" fill-opacity="0.45" filter="url(#b2)"/>
<ellipse cx="267.00" cy="63.20" rx="2.35" ry="3.29" transform="rotate(5 267.00 63.20)" fill="#000" fill-opacity="1.0" filter="url(#b1)"/>
<path fill="#000" fill-opacity="0.35" filter="url(#b0)" d="M252.3 46.0h.6v.6h-.6zM250.5 48.9h.6v.6h-.6zM253.3 45.3h.6v.6h-.6zM254.7 43.9h.6v.6h-.6zM256.1 43.0h.6v.6h-.6zM253.5 46.1h.6v.6h-.6zM252.8 45.5h.6v.6h-.6zM252.0 46.7h.6v.6h-.6zM254.5 45.8h.6v.6h-.6zM255.6 46.2h.6v.6h-.6zM254.1 45.0h.6v.6h-.6zM252.1 44.8h.6v.6h-.6zM251.9 46.4h.6v.6h-.6zM255.5 46.4h.6v.6h-.6zM253.4 46.8h.6v.6h-.6zM249.6 49.9h.6v.6h-.6zM252.7 47.5h.6v.6h-.6zM253.0 42.5h.6v.6h-.6zM251.0 50.0h.6v.6h-.6zM252.3 47.0h.6v.6h-.6zM253.1 44.1h.6v.6h-.6zM253.2 48.7h.6v.6h-.6zM253.1 46.5h.6v.6h-.6zM253.0 44.9h.6v.6h-.6zM254.2 45.3h.6v.6h-.6zM255.0 44.7h.6v.6h-.6zM251.2 45.9h.6v.6h-.6zM252.0 48.7h.6v.6h-.6zM252.3 45.3h.6v.6h-.6zM252.7 47.3h.6v.6h-.6zM250.1 50.1h.6v.6h-.6zM254.2 43.8h.6v.6h-.6zM252.9 47.0h.6v.6h-.6zM253.1 45.7h.6v.6h-.6zM252.8 43.7h.6v.6h-.6zM253.5 44.1h.6v.6h-.6zM251.9 46.0h.6v.6h-.6zM251.2 46.9h.6v.6h-.6zM253.9 45.4h.6v.6h-.6zM251.8 46.1h.6v.6h-.6zM254.1 48.6h.6v.6h-.6zM253.8 47.5h.6v.6h-.6zM250.1 47.5h.6v.6h-.6zM253.2 47.6h.6v.6h-.6zM251.5 47.1h.6v.6h-.6zM251.8 50.5h.6v.6h-.6zM252.8 47.9h.6v.6h-.6zM250.7 45.9h.6v.6h-.6zM252.3 48.0h.6v.6h-.6zM253.6 44.4h.6v.6h-.6zM254.6 46.2h.6v.6h-.6zM251.1 47.7h.6v.6h-.6zM253.6 48.2h.6v.6h-.6zM250.6 49.4h.6v.6h-.6zM252.8 46.4h.6v.6h-.6zM253.3 42.9h.6v.6h-.6zM253.4 51.4h.6v.6h-.6zM253.0 49.2h.6v.6h-.6zM257.0 45.3h.6v.6h-.6zM252.9 49.8h.6v.6h-.6zM254.2 46.9h.6v.6h-.6zM255.7 42.9h.6v.6h-.6zM252.8 45.3h.6v.6h-.6zM253.5 45.3h.6v.6h-.6zM253.6 50.6h.6v.6h-.6zM253.3 44.6h.6v.6h-.6zM253.6 46.0h.6v.6h-.6zM253.4 45.9h.6v.6h-.6zM254.2 45.9h.6v.6h-.6zM253.5 44.3h.6v.6h-.6zM252.8 46.9h.6v.6h-.6zM252.6 49.0h.6v.6h-.6zM252.8 47.9h.6v.6h-.6zM252.9 44.1h.6v.6h-.6zM255.2 44.4h.6v.6h-.6zM251.5 46.2h.6v.6h-.6zM252.3 44.4h.6v.6h-.6zM252.1 44.5h.6v.6h-.6zM255.7 43.2h.6v.6h-.6zM251.2 50.6h.6v.6h-.6zM251.3 48.1h.6v.6h-.6zM252.6 43.9h.6v.6h-.6zM253.0 48.7h.6v.6h-.6zM250.8 49.0h.6v.6h-.6zM253.6 40.7h.6v.6h-.6zM254.4 45.6h.6v.6h-.6zM252.0 45.1h.6v.6h-.6zM252.3 47.8h.6v.6h-.6zM253.3 46.2h.6v.6h-.6zM252.8 45.8h.6v.6h-.6z"/>
<path fill="#000" fill-opacity="0.4" filter="url(#b0)" d="M252.6 64.9h.6v.6h-.6zM255.6 65.8h.6v.6h-.6zM256.1 63.2h.6v.6h-.6zM251.9 67.2h.6v.6h-.6zM251.3 65.9h.6v.6h-.6zM256.9 64.7h.6v.6h-.6zM251.2 64.4h.6v.6h-.6zM251.8 65.0h.6v.6h-.6zM252.8 64.7h.6v.6h-.6zM253.5 64.5h.6v.6h-.6zM254.3 63.4h.6v.6h-.6zM253.3 66.5h.6v.6h-.6zM251.3 64.8h.6v.6h-.6zM253.5 65.0h.6v.6h-.6zM253.1 65.0h.6v.6h-.6zM255.6 61.8h.6v.6h-.6zM252.7 65.6h.6v.6h-.6zM250.6 64.5h.6v.6h-.6zM251.1 64.5h.6v.6h-.6zM255.0 65.0h.6v.6h-.6zM251.9 63.6h.6v.6h-.6zM249.4 66.0h.6v.6h-.6zM251.8 64.0h.6v.6h-.6zM252.7 63.7h.6v.6h-.6zM254.6 63.8h.6v.6h-.6zM251.1 65.1h.6v.6h-.6zM253.7 65.9h.6v.6h-.6zM253.9 64.1h.6v.6h-.6zM251.6 62.9h.6v.6h-.6zM252.4 66.3h.6v.6h-.6zM255.5 63.5h.6v.6h-.6zM255.4 66.5h.6v.6h-.6zM254.0 64.8h.6v.6h-.6zM253.2 64.0h.6v.6h-.6zM254.5 64.1h.6v.6h-.6zM252.5 65.5h.6v.6h-.6zM252.6 66.1h.6v.6h-.6zM251.4 64.6h.6v.6h-.6zM252.7 66.1h.6v.6h-.6zM252.6 67.6h.6v.6h-.6zM257.0 64.6h.6v.6h-.6zM252.4 63.4h.6v.6h-.6zM254.7 63.5h.6v.6h-.6zM254.8 63.1h.6v.6h-.6zM252.4 64.1h.6v.6h-.6zM254.5 64.0h.6v.6h-.6zM249.3 63.2h.6v.6h-.6zM252.8 65.6h.6v.6h-.6zM254.0 61.5h.6v.6h-.6zM249.0 63.2h.6v.6h-.6zM250.9 67.5h.6v.6h-.6zM254.3 66.2h.6v.6h-.6zM252.3 65.6h.6v.6h-.6zM251.0 65.5h.6v.6h-.6zM252.1 67.2h.6v.6h-.6zM251.9 65.6h.6v.6h-.6zM253.8 65.0h.6v.6h-.6zM253.4 63.3h.6v.6h-.6zM252.3 64.8h.6v.6h-.6zM251.7 63.9h.6v.6h-.6zM252.6 64.0h.6v.6h-.6zM254.8 64.0h.6v.6h-.6zM253.2 64.8h.6v.6h-.6zM253.7 64.5h.6v.6h-.6zM252.5 66.0h.6v.6h-.6zM250.7 63.2h.6v.6h-.6zM251.6 64.7h.6v.6h-.6zM253.7 67.3h.6v.6h-.6zM252.9 65.0h.6v.6h-.6zM251.3 66.5h.6v.6h-.6zM250.2 66.4h.6v.6h-.6zM252.9 66.6h.6v.6h-.6zM252.2 65.9h.6v.6h-.6zM252.2 63.1h.6v.6h-.6zM252.2 64.6h.6v.6h-.6zM253.1 64.4h.6v.6h-.6zM253.2 62.9h.6v.6h-.6zM254.2 64.3h.6v.6h-.6zM254.1 63.3h.6v.6h-.6zM254.8 62.7h.6v.6h-.6zM254.0 65.2h.6v.6h-.6zM252.2 64.8h.6v.6h-.6zM252.6 64.0h.6v.6h-.6zM253.5 63.7h.6v.6h-.6zM252.2 64.2h.6v.6h-.6zM253.6 64.4h.6v.6h-.6zM254.5 64.4h.6v.6h-.6zM251.5 64.8h.6v.6h-.6zM249.9 64.3h.6v.6h-.6zM254.6 65.4h.6v.6h-.6z"/>
<path fill="#000" fill-opacity="0.6" filter="url(#b0)" d="M268.5 55.6h.5v.5h-.5zM268.2 55.5h.5v.5h-.5zM267.3 50.9h.5v.5h-.5zM267.1 52.9h.5v.5h-.5zM268.8 52.9h.5v.5h-.5zM267.5 54.3h.5v.5h-.5zM268.5 50.3h.5v.5h-.5zM263.5 55.9h.5v.5h-.5zM263.5 53.8h.5v.5h-.5zM268.3 54.9h.5v.5h-.5zM268.9 51.4h.5v.5h-.5zM270.1 54.2h.5v.5h-.5zM268.5 57.0h.5v.5h-.5zM268.8 50.6h.5v.5h-.5zM267.8 54.6h.5v.5h-.5zM265.4 55.0h.5v.5h-.5zM269.6 52.7h.5v.5h-.5zM266.6 55.5h.5v.5h-.5zM268.8 53.3h.5v.5h-.5zM267.7 56.6h.5v.5h-.5zM268.1 55.1h.5v.5h-.5zM269.2 54.6h.5v.5h-.5zM266.4 58.1h.5v.5h-.5zM267.0 55.6h.5v.5h-.5zM266.0 56.5h.5v.5h-.5zM267.8 51.2h.5v.5h-.5zM270.8 53.0h.5v.5h-.5zM267.0 55.6h.5v.5h-.5zM269.4 56.2h.5v.5h-.5zM269.2 54.0h.5v.5h-.5zM268.8 55.8h.5v.5h-.5zM269.6 51.8h.5v.5h-.5zM266.2 54.1h.5v.5h-.5zM268.9 51.5h.5v.5h-.5zM270.3 55.1h.5v.5h-.5zM267.0 52.7h.5v.5h-.5zM268.1 52.5h.5v.5h-.5zM266.8 53.8h.5v.5h-.5zM267.7 57.9h.5v.5h-.5zM266.6 51.4h.5v.5h-.5zM270.7 53.1h.5v.5h-.5zM266.9 56.1h.5v.5h-.5zM265.6 52.6h.5v.5h-.5zM270.1 58.2h.5v.5h-.5zM269.4 54.7h.5v.5h-.5zM268.7 54.2h.5v.5h-.5zM268.6 54.8h.5v.5h-.5zM266.7 57.6h.5v.5h-.5zM267.3 55.3h.5v.5h-.5zM268.9 55.2h.5v.5h-.5zM269.3 54.7h.5v.5h-.5zM270.0 50.8h.5v.5h-.5zM268.6 52.1h.5v.5h-.5zM266.6 57.0h.5v.5h-.5zM267.3 55.6h.5v.5h-.5zM269.5 55.3h.5v.5h-.5zM269.9 55.7h.5v.5h-.5zM267.6 52.6h.5v.5h-.5zM267.0 54.5h.5v.5h-.5zM270.2 52.3h.5v.5h-.5zM268.0 59.1h.5v.5h-.5zM266.1 59.2h.5v.5h-.5zM266.5 64.7h.5v.5h-.5zM267.7 64.0h.5v.5h-.5zM266.5 62.5h.5v.5h-.5zM268.2 62.4h.5v.5h-.5zM268.1 59.7h.5v.5h-.5zM267.6 64.0h.5v.5h-.5zM269.1 65.6h.5v.5h-.5zM264.1 66.4h.5v.5h-.5zM264.2 63.1h.5v.5h-.5zM268.1 62.9h.5v.5h-.5zM268.8 61.1h.5v.5h-.5zM270.3 66.1h.5v.5h-.5zM268.0 66.9h.5v.5h-.5zM268.6 62.0h.5v.5h-.5zM265.4 63.7h.5v.5h-.5zM268.3 63.5h.5v.5h-.5zM268.3 62.1h.5v.5h-.5zM265.6 57.8h.5v.5h-.5zM265.5 62.3h.5v.5h-.5zM266.7 64.5h.5v.5h-.5zM267.8 60.2h.5v.5h-.5zM262.0 61.0h.5v.5h-.5zM267.7 56.3h.5v.5h-.5zM267.2 65.9h.5v.5h-.5zM266.6 64.2h.5v.5h-.5zM267.5 63.3h.5v.5h-.5zM267.8 62.7h.5v.5h-.5zM265.4 61.7h.5v.5h-.5zM267.7 63.1h.5v.5h-.5zM266.6 62.5h.5v.5h-.5zM265.4 62.5h.5v.5h-.5zM267.4 63.2h.5v.5h-.5zM269.6 63.7h.5v.5h-.5zM264.2 66.2h.5v.5h-.5zM264.4 59.9h.5v.5h-.5zM264.1 63.5h.5v.5h-.5zM270.6 62.2h.5v.5h-.5zM266.8 60.8h.5v.5h-.5zM267.3 58.2h.5v.5h-.5zM265.5 64.3h.5v.5h-.5zM265.5 61.0h.5v.5h-.5zM263.6 61.3h.5v.5h-.5zM267.2 64.2h.5v.5h-.5zM267.7 61.0h.5v.5h-.5zM263.6 62.9h.5v.5h-.5zM265.2 62.9h.5v.5h-.5zM265.6 64.7h.5v.5h-.5zM266.8 65.3h.5v.5h-.5zM267.6 61.4h.5v.5h-.5zM268.8 65.3h.5v.5h-.5zM269.4 63.2h.5v.5h-.5zM268.8 63.6h.5v.5h-.5zM269.4 62.9h.5v.5h-.5zM264.8 64.6h.5v.5h-.5zM266.3 60.6h.5v.5h-.5zM268.9 63.9h.5v.5h-.5zM267.3 65.7h.5v.5h-.5zM267.1 62.6h.5v.5h-.5z"/>
<path fill="#000" fill-opacity="0.3" filter="url(#b0)" d="M279.6 54.2h.5v.5h-.5zM254.7 35.3h.5v.5h-.5zM263.2 47.7h.5v.5h-.5zM255.7 59.1h.5v.5h-.5zM251.3 60.0h.5v.5h-.5zM256.4 64.2h.5v.5h-.5zM260.8 59.3h.5v.5h-.5zM254.1 50.2h.5v.5h-.5zM269.3 38.9h.5v.5h-.5zM275.0 57.2h.5v.5h-.5zM247.5 43.2h.5v.5h-.5zM268.8 52.7h.5v.5h-.5zM263.0 69.0h.5v.5h-.5zM263.5 58.1h.5v.5h-.5zM272.1 53.8h.5v.5h-.5zM264.3 59.8h.5v.5h-.5zM263.0 61.5h.5v.5h-.5zM268.4 54.9h.5v.5h-.5zM254.7 68.6h.5v.5h-.5zM263.0 60.0h.5v.5h-.5zM262.3 46.3h.5v.5h-.5zM270.0 47.1h.5v.5h-.5zM279.7 34.6h.5v.5h-.5zM270.3 46.1h.5v.5h-.5zM272.9 67.7h.5v.5h-.5zM259.3 52.6h.5v.5h-.5zM265.5 45.5h.5v.5h-.5zM268.3 48.0h.5v.5h-.5zM248.4 52.2h.5v.5h-.5zM279.8 52.2h.5v.5h-.5zM255.0 50.0h.5v.5h-.5zM249.9 46.3h.5v.5h-.5zM276.1 58.9h.5v.5h-.5zM255.1 48.1h.5v.5h-.5zM255.9 48.3h.5v.5h-.5z"/>
<ellipse cx="267.50" cy="52.50" rx="6.00" ry="7.80" transform="rotate(20 267.50 52.50)" fill="none" stroke="#555" stroke-width="0.5"/>
<rect x="254.10" y="34.90" width="24.00" height="4.60" fill="#fff" stroke="#d0d0d0" stroke-width="0.45" rx="1.0"/>
<text x="266.10" y="38.75" font-size="4.5" text-anchor="middle" fill="#111" textLength="21.40" lengthAdjust="spacingAndGlyphs">CLL : 57,24%</text>
<rect x="72.50" y="76.10" width="38.70" height="38.70" fill="#fff" stroke="#9a9a9a" stroke-width="0.7"/>
<line x1="72.50" y1="76.30" x2="111.20" y2="76.30" stroke="#c4c4c4" stroke-width="1.2"/>
<line x1="71.10" y1="77.00" x2="72.50" y2="77.00" stroke="#888" stroke-width="0.4" />
<rect x="68.60" y="76.50" width="1.8" height="1.1" fill="#aaa"/>
<line x1="71.10" y1="85.78" x2="72.50" y2="85.78" stroke="#888" stroke-width="0.4" />
<rect x="68.60" y="85.28" width="1.8" height="1.1" fill="#aaa"/>
<line x1="71.10" y1="94.56" x2="72.50" y2="94.56" stroke="#888" stroke-width="0.4" />
<rect x="68.60" y="94.06" width="1.8" height="1.1" fill="#aaa"/>
<line x1="71.10" y1="103.34" x2="72.50" y2="103.34" stroke="#888" stroke-width="0.4" />
<rect x="68.60" y="102.84" width="1.8" height="1.1" fill="#aaa"/>
<line x1="71.10" y1="112.12" x2="72.50" y2="112.12" stroke="#888" stroke-width="0.4" />
<rect x="68.60" y="111.62" width="1.8" height="1.1" fill="#aaa"/>
<line x1="77.20" y1="114.80" x2="77.20" y2="116.20" stroke="#888" stroke-width="0.4" />
<rect x="76.30" y="116.70" width="1.8" height="1.0" fill="#aaa"/>
<line x1="85.05" y1="114.80" x2="85.05" y2="116.20" stroke="#888" stroke-width="0.4" />
<rect x="84.15" y="116.70" width="1.8" height="1.0" fill="#aaa"/>
<line x1="92.90" y1="114.80" x2="92.90" y2="116.20" stroke="#888" stroke-width="0.4" />
<rect x="92.00" y="116.70" width="1.8" height="1.0" fill="#aaa"/>
<line x1="100.75" y1="114.80" x2="100.75" y2="116.20" stroke="#888" stroke-width="0.4" />
<rect x="99.85" y="116.70" width="1.8" height="1.0" fill="#aaa"/>
<line x1="108.60" y1="114.80" x2="108.60" y2="116.20" stroke="#888" stroke-width="0.4" />
<rect x="107.70" y="116.70" width="1.8" height="1.0" fill="#aaa"/>
<ellipse cx="77.80" cy="90.50" rx="3.10" ry="5.70" transform="rotate(15 77.80 90.50)" fill="#000" fill-opacity="0.45" filter="url(#b2)"/>
<ellipse cx="77.80" cy="90.50" rx="2.35" ry="4.46" transform="rotate(15 77.80 90.50)" fill="#000" fill-opacity="1.0" filter="url(#b1)"/>
<ellipse cx="75.60" cy="94.50" rx="2.17" ry="3.00" transform="rotate(0 75.60 94.50)" fill="#000" fill-opacity="0.45" filter="url(#b2)"/>
<ellipse cx="75.60" cy="94.50" rx="1.65" ry="2.35" transform="rotate(0 75.60 94.50)" fill="#000" fill-opacity="1.0" filter="url(#b1)"/>
<ellipse cx="78.90" cy="109.50" rx="1.74" ry="1.68" transform="rotate(0 78.90 109.50)" fill="#000" fill-opacity="0.45" filter="url(#b2)"/>
<ellipse cx="78.90" cy="109.50" rx="1.32" ry="1.32" transform="rotate(0 78.90 109.50)" fill="#000" fill-opacity="1.0" filter="url(#b1)"/>
<ellipse cx="76.50" cy="99.00" rx="1.26" ry="1.26" transform="rotate(0 76.50 99.00)" fill="#000" fill-opacity="0.3" filter="url(#b2)"/>
<ellipse cx="97.90" cy="96.80" rx="3.53" ry="4.14" transform="rotate(25 97.90 96.80)" fill="#000" fill-opacity="0.45" filter="url(#b2)"/>
<ellipse cx="97.90" cy="96.80" rx="2.68" ry="3.24" transform="rotate(25 97.90 96.80)" fill="#000" fill-opacity="1.0" filter="url(#b1)"/>
<ellipse cx="95.10" cy="109.30" rx="3.72" ry="4.20" transform="rotate(25 95.10 109.30)" fill="#000" fill-opacity="0.45" filter="url(#b2)"/>
<ellipse cx="95.10" cy="109.30" rx="2.82" ry="3.29" transform="rotate(25 95.10 109.30)" fill="#000" fill-opacity="1.0" filter="url(#b1)"/>
<path fill="#000" fill-opacity="0.6" filter="url(#b0)" d="M80.7 86.9h.5v.5h-.5zM81.1 90.2h.5v.5h-.5zM78.1 88.6h.5v.5h-.5zM80.4 87.5h.5v.5h-.5zM79.9 91.9h.5v.5h-.5zM79.1 90.0h.5v.5h-.5zM79.7 93.5h.5v.5h-.5zM79.0 88.1h.5v.5h-.5zM78.6 91.3h.5v.5h-.5zM77.6 92.4h.5v.5h-.5zM75.2 92.9h.5v.5h-.5zM77.2 87.1h.5v.5h-.5zM77.4 94.6h.5v.5h-.5zM77.5 87.8h.5v.5h-.5zM81.1 86.9h.5v.5h-.5zM80.7 88.5h.5v.5h-.5zM80.7 91.7h.5v.5h-.5zM78.0 89.6h.5v.5h-.5zM79.8 92.3h.5v.5h-.5zM75.9 91.5h.5v.5h-.5zM76.2 91.0h.5v.5h-.5zM78.1 89.8h.5v.5h-.5zM76.9 95.6h.5v.5h-.5zM76.7 83.7h.5v.5h-.5zM76.2 84.9h.5v.5h-.5zM78.8 89.3h.5v.5h-.5zM77.3 86.7h.5v.5h-.5zM81.7 84.0h.5v.5h-.5zM79.1 88.5h.5v.5h-.5zM78.9 88.6h.5v.5h-.5zM80.0 83.9h.5v.5h-.5zM78.7 93.3h.5v.5h-.5zM76.6 94.0h.5v.5h-.5zM78.7 94.4h.5v.5h-.5zM77.3 88.9h.5v.5h-.5zM77.3 90.8h.5v.5h-.5zM77.5 87.1h.5v.5h-.5zM78.7 91.3h.5v.5h-.5zM78.4 88.7h.5v.5h-.5zM76.0 91.2h.5v.5h-.5zM81.4 90.5h.5v.5h-.5zM76.4 93.2h.5v.5h-.5zM77.0 92.7h.5v.5h-.5zM77.6 94.1h.5v.5h-.5zM81.9 86.9h.5v.5h-.5zM78.9 85.4h.5v.5h-.5zM78.7 91.9h.5v.5h-.5zM78.4 89.0h.5v.5h-.5zM75.0 90.9h.5v.5h-.5zM78.9 91.7h.5v.5h-.5zM79.4 91.5h.5v.5h-.5zM76.7 92.9h.5v.5h-.5zM77.4 92.0h.5v.5h-.5zM74.9 91.1h.5v.5h-.5zM75.9 87.3h.5v.5h-.5zM75.9 95.1h.5v.5h-.5zM78.8 91.1h.5v.5h-.5zM76.2 93.3h.5v.5h-.5zM78.1 91.5h.5v.5h-.5zM78.5 94.4h.5v.5h-.5zM77.8 91.0h.5v.5h-.5zM78.6 91.4h.5v.5h-.5zM80.1 91.5h.5v.5h-.5zM76.2 88.0h.5v.5h-.5zM79.5 89.3h.5v.5h-.5zM74.7 89.2h.5v.5h-.5zM78.6 90.4h.5v.5h-.5zM78.9 87.9h.5v.5h-.5zM75.1 96.7h.5v.5h-.5zM76.7 87.3h.5v.5h-.5zM77.9 89.6h.5v.5h-.5zM75.3 97.0h.5v.5h-.5zM78.5 88.7h.5v.5h-.5zM75.7 92.2h.5v.5h-.5zM78.2 92.6h.5v.5h-.5zM76.2 89.5h.5v.5h-.5zM78.3 86.4h.5v.5h-.5zM78.3 86.0h.5v.5h-.5zM79.9 91.1h.5v.5h-.5zM76.1 92.4h.5v.5h-.5zM75.8 93.6h.5v.5h-.5zM74.8 95.8h.5v.5h-.5zM76.7 92.4h.5v.5h-.5zM75.8 93.3h.5v.5h-.5zM74.6 92.5h.5v.5h-.5zM75.1 96.6h.5v.5h-.5zM75.7 96.6h.5v.5h-.5zM77.3 96.9h.5v.5h-.5zM79.3 96.9h.5v.5h-.5zM76.0 96.0h.5v.5h-.5zM75.8 96.0h.5v.5h-.5zM76.5 92.1h.5v.5h-.5zM75.7 95.2h.5v.5h-.5zM76.5 93.9h.5v.5h-.5zM76.2 94.2h.5v.5h-.5zM75.7 92.8h.5v.5h-.5zM74.7 96.6h.5v.5h-.5zM75.9 94.9h.5v.5h-.5zM76.8 92.4h.5v.5h-.5zM75.8 95.4h.5v.5h-.5zM77.6 94.5h.5v.5h-.5zM76.9 93.1h.5v.5h-.5zM75.6 94.2h.5v.5h-.5zM77.8 93.4h.5v.5h-.5zM74.3 91.2h.5v.5h-.5zM77.2 92.3h.5v.5h-.5zM78.0 95.3h.5v.5h-.5zM75.4 95.1h.5v.5h-.5zM75.6 94.9h.5v.5h-.5zM76.9 92.7h.5v.5h-.5zM77.5 93.6h.5v.5h-.5zM76.3 94.6h.5v.5h-.5zM76.0 95.5h.5v.5h-.5zM76.9 93.2h.5v.5h-.5zM76.1 92.9h.5v.5h-.5zM74.3 96.2h.5v.5h-.5zM75.5 94.6h.5v.5h-.5zM75.7 93.9h.5v.5h-.5zM78.2 107.9h.5v.5h-.5zM78.3 108.4h.5v.5h-.5zM80.5 110.0h.5v.5h-.5zM79.8 109.3h.5v.5h-.5zM78.5 109.7h.5v.5h-.5zM77.7 109.1h.5v.5h-.5zM80.5 108.9h.5v.5h-.5zM80.4 110.0h.5v.5h-.5zM80.1 109.2h.5v.5h-.5zM79.7 109.5h.5v.5h-.5zM96.8 95.9h.5v.5h-.5zM96.1 95.9h.5v.5h-.5zM98.9 97.4h.5v.5h-.5zM98.2 94.9h.5v.5h-.5zM98.9 94.8h.5v.5h-.5zM92.9 98.2h.5v.5h-.5zM93.1 101.7h.5v.5h-.5zM94.8 98.0h.5v.5h-.5zM101.0 94.6h.5v.5h-.5zM97.3 96.7h.5v.5h-.5zM92.3 97.0h.5v.5h-.5zM100.1 94.3h.5v.5h-.5zM100.3 96.9h.5v.5h-.5zM100.6 97.2h.5v.5h-.5zM93.6 92.8h.5v.5h-.5zM98.9 95.5h.5v.5h-.5zM98.4 99.5h.5v.5h-.5zM99.3 96.6h.5v.5h-.5zM97.6 96.3h.5v.5h-.5zM93.1 98.6h.5v.5h-.5zM97.8 94.9h.5v.5h-.5zM98.9 93.0h.5v.5h-.5zM98.3 98.6h.5v.5h-.5zM97.2 101.2h.5v.5h-.5zM97.2 97.1h.5v.5h-.5zM99.1 98.2h.5v.5h-.5zM97.1 93.6h.5v.5h-.5zM97.4 94.6h.5v.5h-.5zM96.5 99.6h.5v.5h-.5zM97.8 99.8h.5v.5h-.5zM96.8 97.7h.5v.5h-.5zM100.6 96.7h.5v.5h-.5zM99.6 95.0h.5v.5h-.5zM97.1 94.1h.5v.5h-.5zM99.0 94.8h.5v.5h-.5zM95.7 97.3h.5v.5h-.5zM96.8 94.6h.5v.5h-.5zM95.7 94.7h.5v.5h-.5zM99.8 99.3h.5v.5h-.5zM98.9 98.9h.5v.5h-.5zM94.9 95.6h.5v.5h-.5zM99.5 98.7h.5v.5h-.5zM99.6 97.6h.5v.5h-.5zM98.9 92.9h.5v.5h-.5zM98.9 97.1h.5v.5h-.5zM102.3 97.9h.5v.5h-.5zM98.7 96.4h.5v.5h-.5zM98.4 97.6h.5v.5h-.5zM100.4 96.7h.5v.5h-.5zM95.0 98.2h.5v.5h-.5zM95.8 95.4h.5v.5h-.5zM95.2 95.9h.5v.5h-.5zM97.5 97.4h.5v.5h-.5zM99.6 97.2h.5v.5h-.5zM95.8 97.3h.5v.5h-.5zM94.8 97.1h.5v.5h-.5zM97.7 98.2h.5v.5h-.5zM97.9 95.2h.5v.5h-.5zM99.8 95.6h.5v.5h-.5zM98.3 95.6h.5v.5h-.5zM96.0 107.4h.5v.5h-.5zM91.8 107.0h.5v.5h-.5zM93.2 109.0h.5v.5h-.5zM92.2 109.7h.5v.5h-.5zM94.6 106.8h.5v.5h-.5zM93.3 108.5h.5v.5h-.5zM96.9 109.4h.5v.5h-.5zM95.9 109.7h.5v.5h-.5zM95.9 112.2h.5v.5h-.5zM92.1 110.8h.5v.5h-.5zM94.0 107.6h.5v.5h-.5zM95.1 107.8h.5v.5h-.5zM98.9 109.4h.5v.5h-.5zM98.8 109.7h.5v.5h-.5zM94.3 107.9h.5v.5h-.5zM96.5 109.5h.5v.5h-.5zM99.6 110.2h.5v.5h-.5zM94.1 106.3h.5v.5h-.5zM95.8 106.8h.5v.5h-.5zM97.5 110.5h.5v.5h-.5zM92.7 109.4h.5v.5h-.5zM97.4 111.8h.5v.5h-.5zM96.7 110.8h.5v.5h-.5zM96.6 109.5h.5v.5h-.5zM91.0 111.9h.5v.5h-.5zM95.1 108.5h.5v.5h-.5zM98.5 108.5h.5v.5h-.5zM97.2 107.3h.5v.5h-.5zM96.5 110.3h.5v.5h-.5zM95.5 107.1h.5v.5h-.5zM98.8 108.9h.5v.5h-.5zM95.4 107.4h.5v.5h-.5zM98.1 107.5h.5v.5h-.5zM95.6 109.8h.5v.5h-.5zM94.8 105.2h.5v.5h-.5zM95.2 102.9h.5v.5h-.5zM95.0 105.9h.5v.5h-.5zM95.3 109.5h.5v.5h-.5zM92.1 108.8h.5v.5h-.5zM92.0 107.0h.5v.5h-.5zM94.6 109.7h.5v.5h-.5zM94.1 109.2h.5v.5h-.5zM94.5 109.3h.5v.5h-.5zM95.5 110.8h.5v.5h-.5zM99.2 111.7h.5v.5h-.5zM94.4 108.7h.5v.5h-.5zM99.9 111.2h.5v.5h-.5zM94.8 111.2h.5v.5h-.5zM95.1 108.8h.5v.5h-.5zM89.4 108.0h.5v.5h-.5zM90.7 110.9h.5v.5h-.5zM95.2 110.3h.5v.5h-.5zM95.0 112.1h.5v.5h-.5zM93.8 107.7h.5v.5h-.5zM95.4 110.1h.5v.5h-.5zM96.3 111.1h.5v.5h-.5zM93.7 109.2h.5v.5h-.5zM91.5 108.8h.5v.5h-.5z"/>
<path fill="#000" fill-opacity="0.45" filter="url(#b0)" d="M76.7 97.8h.6v.6h-.6zM76.7 98.0h.6v.6h-.6zM77.4 99.4h.6v.6h-.6zM77.6 98.6h.6v.6h-.6zM75.4 99.3h.6v.6h-.6zM76.3 99.2h.6v.6h-.6zM76.0 99.2h.6v.6h-.6zM77.1 99.7h.6v.6h-.6zM75.7 99.1h.6v.6h-.6zM77.1 97.7h.6v.6h-.6zM77.0 98.5h.6v.6h-.6zM76.9 100.3h.6v.6h-.6zM75.7 98.2h.6v.6h-.6zM76.3 100.1h.6v.6h-.6zM75.7 100.3h.6v.6h-.6zM76.8 98.5h.6v.6h-.6zM77.2 99.3h.6v.6h-.6zM75.3 97.9h.6v.6h-.6zM75.9 99.6h.6v.6h-.6zM76.4 98.4h.6v.6h-.6zM76.1 98.0h.6v.6h-.6zM77.7 98.7h.6v.6h-.6zM76.4 98.6h.6v.6h-.6zM76.7 98.5h.6v.6h-.6zM75.6 99.2h.6v.6h-.6zM77.7 98.9h.6v.6h-.6zM76.6 98.5h.6v.6h-.6zM77.1 99.7h.6v.6h-.6zM76.6 100.9h.6v.6h-.6zM74.8 99.1h.6v.6h-.6z"/>
<path fill="#000" fill-opacity="0.3" filter="url(#b0)" d="M105.2 85.5h.5v.5h-.5zM89.7 87.5h.5v.5h-.5zM86.5 99.7h.5v.5h-.5zM95.5 97.6h.5v.5h-.5zM79.4 109.0h.5v.5h-.5zM103.2 99.6h.5v.5h-.5zM92.4 107.5h.5v.5h-.5zM97.4 98.6h.5v.5h-.5zM96.0 104.8h.5v.5h-.5zM103.3 98.0h.5v.5h-.5zM97.1 97.3h.5v.5h-.5zM94.3 105.9h.5v.5h-.5zM87.8 77.7h.5v.5h-.5zM98.9 102.1h.5v.5h-.5zM91.1 98.9h.5v.5h-.5zM85.7 98.8h.5v.5h-.5zM100.5 100.4h.5v.5h-.5zM84.4 103.4h.5v.5h-.5zM89.2 93.7h.5v.5h-.5zM98.4 102.1h.5v.5h-.5zM87.6 100.7h.5v.5h-.5zM93.8 87.6h.5v.5h-.5zM92.0 96.5h.5v.5h-.5zM81.4 100.3h.5v.5h-.5zM87.4 90.8h.5v.5h-.5zM88.8 107.2h.5v.5h-.5zM86.2 95.2h.5v.5h-.5zM101.9 105.1h.5v.5h-.5zM91.8 110.9h.5v.5h-.5zM86.2 84.7h.5v.5h-.5zM79.5 86.0h.5v.5h-.5zM89.0 103.2h.5v.5h-.5zM103.7 96.2h.5v.5h-.5zM89.2 102.6h.5v.5h-.5zM98.7 113.4h.5v.5h-.5zM96.0 93.6h.5v.5h-.5zM87.2 105.7h.5v.5h-.5zM83.3 95.7h.5v.5h-.5zM96.7 92.2h.5v.5h-.5zM76.7 102.2h.5v.5h-.5zM97.0 100.3h.5v.5h-.5zM81.2 107.7h.5v.5h-.5zM99.6 100.8h.5v.5h-.5zM88.4 105.9h.5v.5h-.5zM91.2 102.7h.5v.5h-.5zM101.4 82.8h.5v.5h-.5zM83.0 94.8h.5v.5h-.5zM92.4 95.2h.5v.5h-.5zM89.1 106.1h.5v.5h-.5zM96.6 88.7h.5v.5h-.5zM98.5 99.8h.5v.5h-.5zM94.6 94.4h.5v.5h-.5zM93.9 81.8h.5v.5h-.5zM88.4 96.7h.5v.5h-.5zM97.5 103.8h.5v.5h-.5zM90.0 94.8h.5v.5h-.5zM93.3 106.4h.5v.5h-.5zM93.8 101.6h.5v.5h-.5z"/>
<ellipse cx="98.20" cy="95.10" rx="6.00" ry="8.20" transform="rotate(20 98.20 95.10)" fill="none" stroke="#555" stroke-width="0.5"/>
<rect x="84.00" y="80.90" width="22.80" height="4.60" fill="#fff" stroke="#d0d0d0" stroke-width="0.45" rx="1.0"/>
<text x="95.40" y="84.75" font-size="4.5" text-anchor="middle" fill="#111" textLength="20.20" lengthAdjust="spacingAndGlyphs">CLL : 42,86%</text>
<rect x="114.40" y="76.00" width="39.40" height="39.00" fill="#fff" stroke="#9a9a9a" stroke-width="0.7"/>
<line x1="114.40" y1="76.20" x2="153.80" y2="76.20" stroke="#c4c4c4" stroke-width="1.2"/>
<line x1="113.00" y1="76.90" x2="114.40" y2="76.90" stroke="#888" stroke-width="0.4" />
<rect x="110.50" y="76.40" width="1.8" height="1.1" fill="#aaa"/>
<line x1="113.00" y1="85.68" x2="114.40" y2="85.68" stroke="#888" stroke-width="0.4" />
<rect x="110.50" y="85.18" width="1.8" height="1.1" fill="#aaa"/>
<line x1="113.00" y1="94.46" x2="114.40" y2="94.46" stroke="#888" stroke-width="0.4" />
<rect x="110.50" y="93.96" width="1.8" height="1.1" fill="#aaa"/>
<line x1="113.00" y1="103.24" x2="114.40" y2="103.24" stroke="#888" stroke-width="0.4" />
<rect x="110.50" y="102.74" width="1.8" height="1.1" fill="#aaa"/>
<line x1="113.00" y1="112.02" x2="114.40" y2="112.02" stroke="#888" stroke-width="0.4" />
<rect x="110.50" y="111.52" width="1.8" height="1.1" fill="#aaa"/>
<line x1="119.10" y1="115.00" x2="119.10" y2="116.40" stroke="#888" stroke-width="0.4" />
<rect x="118.20" y="116.90" width="1.8" height="1.0" fill="#aaa"/>
<line x1="126.95" y1="115.00" x2="126.95" y2="116.40" stroke="#888" stroke-width="0.4" />
<rect x="126.05" y="116.90" width="1.8" height="1.0" fill="#aaa"/>
<line x1="134.80" y1="115.00" x2="134.80" y2="116.40" stroke="#888" stroke-width="0.4" />
<rect x="133.90" y="116.90" width="1.8" height="1.0" fill="#aaa"/>
<line x1="142.65" y1="115.00" x2="142.65" y2="116.40" stroke="#888" stroke-width="0.4" />
<rect x="141.75" y="116.90" width="1.8" height="1.0" fill="#aaa"/>
<line x1="150.50" y1="115.00" x2="150.50" y2="116.40" stroke="#888" stroke-width="0.4" />
<rect x="149.60" y="116.90" width="1.8" height="1.0" fill="#aaa"/>
<ellipse cx="123.50" cy="93.50" rx="5.88" ry="6.30" transform="rotate(0 123.50 93.50)" fill="#000" fill-opacity="0.28" filter="url(#b2)"/>
<ellipse cx="126.60" cy="91.90" rx="2.31" ry="3.49" transform="rotate(0 126.60 91.90)" fill="#000" fill-opacity="0.8" filter="url(#b2)"/>
<ellipse cx="125.60" cy="110.40" rx="2.69" ry="2.35" transform="rotate(0 125.60 110.40)" fill="#000" fill-opacity="0.55" filter="url(#b2)"/>
<ellipse cx="143.30" cy="99.80" rx="3.29" ry="5.64" transform="rotate(28 143.30 99.80)" fill="#000" fill-opacity="0.45" filter="url(#b2)"/>
<ellipse cx="143.30" cy="99.80" rx="2.49" ry="4.42" transform="rotate(28 143.30 99.80)" fill="#000" fill-opacity="1.0" filter="url(#b1)"/>
<ellipse cx="140.90" cy="110.80" rx="3.04" ry="4.80" transform="rotate(0 140.90 110.80)" fill="#000" fill-opacity="0.45" filter="url(#b2)"/>
<ellipse cx="140.90" cy="110.80" rx="2.30" ry="3.76" transform="rotate(0 140.90 110.80)" fill="#000" fill-opacity="1.0" filter="url(#b1)"/>
<path fill="#000" fill-opacity="0.4" filter="url(#b0)" d="M123.5 90.2h.6v.6h-.6zM124.6 91.5h.6v.6h-.6zM122.5 94.6h.6v.6h-.6zM120.3 92.7h.6v.6h-.6zM121.8 94.3h.6v.6h-.6zM119.9 94.7h.6v.6h-.6zM123.7 92.3h.6v.6h-.6zM128.4 93.3h.6v.6h-.6zM121.7 94.3h.6v.6h-.6zM121.2 93.2h.6v.6h-.6zM125.3 95.5h.6v.6h-.6zM124.8 100.8h.6v.6h-.6zM123.9 95.8h.6v.6h-.6zM120.1 93.7h.6v.6h-.6zM123.4 86.9h.6v.6h-.6zM126.0 95.0h.6v.6h-.6zM118.6 85.9h.6v.6h-.6zM121.8 88.0h.6v.6h-.6zM116.6 96.8h.6v.6h-.6zM118.8 96.3h.6v.6h-.6zM116.8 92.9h.6v.6h-.6zM122.6 86.8h.6v.6h-.6zM118.9 92.1h.6v.6h-.6zM124.5 90.9h.6v.6h-.6zM124.1 96.0h.6v.6h-.6zM122.8 102.3h.6v.6h-.6zM121.5 90.5h.6v.6h-.6zM123.3 88.9h.6v.6h-.6zM123.9 93.3h.6v.6h-.6zM117.9 92.8h.6v.6h-.6zM121.8 89.0h.6v.6h-.6zM119.9 94.0h.6v.6h-.6zM120.6 89.0h.6v.6h-.6zM127.4 97.8h.6v.6h-.6zM120.6 97.6h.6v.6h-.6zM123.4 97.7h.6v.6h-.6zM126.7 91.7h.6v.6h-.6zM121.4 95.5h.6v.6h-.6zM123.1 93.0h.6v.6h-.6zM123.9 92.0h.6v.6h-.6zM123.7 92.2h.6v.6h-.6zM119.0 88.4h.6v.6h-.6zM123.8 87.9h.6v.6h-.6zM128.4 96.6h.6v.6h-.6zM117.9 92.8h.6v.6h-.6zM126.6 94.3h.6v.6h-.6zM123.9 97.4h.6v.6h-.6zM121.2 86.7h.6v.6h-.6zM130.8 90.4h.6v.6h-.6zM126.3 94.2h.6v.6h-.6zM119.1 95.0h.6v.6h-.6zM123.8 92.0h.6v.6h-.6zM125.6 97.5h.6v.6h-.6zM122.8 94.3h.6v.6h-.6zM126.0 88.8h.6v.6h-.6zM123.3 89.9h.6v.6h-.6zM125.9 96.6h.6v.6h-.6zM128.7 95.3h.6v.6h-.6zM121.0 86.1h.6v.6h-.6zM124.2 98.8h.6v.6h-.6zM121.8 95.8h.6v.6h-.6zM124.0 98.7h.6v.6h-.6zM119.2 92.0h.6v.6h-.6zM121.4 92.3h.6v.6h-.6zM122.8 89.1h.6v.6h-.6zM126.8 103.4h.6v.6h-.6zM127.7 92.8h.6v.6h-.6zM118.7 99.7h.6v.6h-.6zM120.6 91.0h.6v.6h-.6zM125.9 94.1h.6v.6h-.6zM116.2 87.0h.6v.6h-.6zM121.8 92.0h.6v.6h-.6zM123.1 97.3h.6v.6h-.6zM128.1 88.6h.6v.6h-.6zM126.0 97.7h.6v.6h-.6zM122.3 94.8h.6v.6h-.6zM122.2 89.4h.6v.6h-.6zM122.6 91.5h.6v.6h-.6zM129.0 91.7h.6v.6h-.6zM121.9 93.3h.6v.6h-.6zM122.4 91.4h.6v.6h-.6zM124.8 90.3h.6v.6h-.6zM123.1 92.3h.6v.6h-.6zM122.8 89.5h.6v.6h-.6zM119.4 88.5h.6v.6h-.6zM123.5 93.3h.6v.6h-.6zM121.9 96.9h.6v.6h-.6zM127.7 87.5h.6v.6h-.6zM125.9 93.5h.6v.6h-.6zM123.4 91.0h.6v.6h-.6zM125.9 89.7h.6v.6h-.6zM122.3 96.8h.6v.6h-.6zM127.3 91.5h.6v.6h-.6zM123.5 99.3h.6v.6h-.6zM125.6 90.5h.6v.6h-.6zM118.8 95.0h.6v.6h-.6zM124.8 92.6h.6v.6h-.6zM117.4 90.6h.6v.6h-.6zM116.1 95.8h.6v.6h-.6zM122.4 92.9h.6v.6h-.6zM120.2 95.9h.6v.6h-.6zM124.1 93.3h.6v.6h-.6zM131.7 89.3h.6v.6h-.6zM120.5 93.1h.6v.6h-.6zM121.2 93.7h.6v.6h-.6zM124.2 97.2h.6v.6h-.6zM125.3 90.0h.6v.6h-.6zM122.9 93.3h.6v.6h-.6zM122.8 86.8h.6v.6h-.6zM126.1 96.0h.6v.6h-.6zM125.4 89.3h.6v.6h-.6zM119.7 86.5h.6v.6h-.6zM123.2 93.3h.6v.6h-.6zM123.6 97.8h.6v.6h-.6zM119.7 87.6h.6v.6h-.6zM124.4 89.3h.6v.6h-.6zM120.4 90.6h.6v.6h-.6zM127.0 89.1h.6v.6h-.6zM124.2 95.0h.6v.6h-.6zM123.8 90.4h.6v.6h-.6zM121.3 90.7h.6v.6h-.6zM123.1 95.8h.6v.6h-.6zM116.2 90.6h.6v.6h-.6zM119.4 95.2h.6v.6h-.6zM124.8 89.7h.6v.6h-.6zM115.8 88.8h.6v.6h-.6zM126.6 86.3h.6v.6h-.6zM117.1 100.8h.6v.6h-.6zM126.3 92.3h.6v.6h-.6zM120.4 94.5h.6v.6h-.6zM126.3 93.4h.6v.6h-.6zM124.0 94.1h.6v.6h-.6zM117.9 93.7h.6v.6h-.6zM128.0 100.9h.6v.6h-.6zM128.7 89.4h.6v.6h-.6zM123.3 87.4h.6v.6h-.6zM122.5 89.6h.6v.6h-.6zM122.9 88.3h.6v.6h-.6zM120.0 96.4h.6v.6h-.6zM127.5 96.7h.6v.6h-.6zM121.5 89.8h.6v.6h-.6zM123.3 88.1h.6v.6h-.6zM120.6 92.1h.6v.6h-.6zM121.2 98.9h.6v.6h-.6zM118.8 82.5h.6v.6h-.6zM128.1 95.6h.6v.6h-.6zM122.9 89.3h.6v.6h-.6zM127.0 97.6h.6v.6h-.6zM123.5 89.3h.6v.6h-.6zM121.0 92.4h.6v.6h-.6zM122.3 87.6h.6v.6h-.6zM121.5 89.7h.6v.6h-.6zM123.5 98.9h.6v.6h-.6zM122.1 96.7h.6v.6h-.6zM122.4 91.9h.6v.6h-.6zM118.5 90.1h.6v.6h-.6zM120.6 86.1h.6v.6h-.6zM129.5 92.0h.6v.6h-.6zM121.1 93.4h.6v.6h-.6zM119.7 93.2h.6v.6h-.6zM124.7 93.1h.6v.6h-.6zM128.6 89.1h.6v.6h-.6zM118.2 93.2h.6v.6h-.6zM122.7 93.3h.6v.6h-.6zM121.2 98.5h.6v.6h-.6zM117.1 100.8h.6v.6h-.6zM126.2 93.0h.6v.6h-.6zM123.4 90.5h.6v.6h-.6zM123.8 93.2h.6v.6h-.6zM120.8 91.1h.6v.6h-.6zM125.2 90.6h.6v.6h-.6zM121.5 93.3h.6v.6h-.6zM123.0 89.4h.6v.6h-.6zM119.5 95.9h.6v.6h-.6zM119.1 93.1h.6v.6h-.6zM128.4 94.5h.6v.6h-.6zM121.7 92.8h.6v.6h-.6zM124.6 90.7h.6v.6h-.6zM123.4 89.8h.6v.6h-.6zM121.9 92.6h.6v.6h-.6zM121.7 91.4h.6v.6h-.6zM125.8 94.4h.6v.6h-.6zM122.4 93.5h.6v.6h-.6zM122.9 88.2h.6v.6h-.6zM123.6 93.8h.6v.6h-.6zM127.8 88.3h.6v.6h-.6zM126.0 91.1h.6v.6h-.6zM124.9 92.4h.6v.6h-.6zM121.4 85.4h.6v.6h-.6zM118.5 93.9h.6v.6h-.6zM127.0 94.1h.6v.6h-.6zM127.0 92.9h.6v.6h-.6zM123.0 91.8h.6v.6h-.6zM125.5 92.0h.6v.6h-.6zM126.3 89.7h.6v.6h-.6zM126.5 92.4h.6v.6h-.6zM126.9 91.3h.6v.6h-.6zM121.8 93.9h.6v.6h-.6zM129.0 88.8h.6v.6h-.6zM119.0 94.4h.6v.6h-.6zM126.6 94.1h.6v.6h-.6zM125.3 92.9h.6v.6h-.6zM126.7 91.8h.6v.6h-.6zM130.3 95.7h.6v.6h-.6zM128.9 87.0h.6v.6h-.6zM119.3 95.3h.6v.6h-.6zM117.4 94.4h.6v.6h-.6zM126.5 94.6h.6v.6h-.6zM119.8 95.0h.6v.6h-.6zM123.5 91.0h.6v.6h-.6zM126.6 92.5h.6v.6h-.6zM117.5 96.0h.6v.6h-.6zM115.8 95.2h.6v.6h-.6zM124.4 94.3h.6v.6h-.6zM123.7 87.6h.6v.6h-.6zM122.6 95.6h.6v.6h-.6zM123.6 98.1h.6v.6h-.6zM120.4 97.4h.6v.6h-.6zM118.0 94.4h.6v.6h-.6zM122.9 87.4h.6v.6h-.6zM120.0 97.2h.6v.6h-.6zM117.5 92.9h.6v.6h-.6zM125.3 83.6h.6v.6h-.6zM123.3 95.0h.6v.6h-.6zM125.0 87.7h.6v.6h-.6zM119.9 88.4h.6v.6h-.6zM121.1 91.0h.6v.6h-.6zM119.9 98.5h.6v.6h-.6zM120.3 92.1h.6v.6h-.6zM124.2 94.6h.6v.6h-.6zM120.6 100.3h.6v.6h-.6zM124.8 99.7h.6v.6h-.6zM124.7 93.1h.6v.6h-.6zM130.9 92.6h.6v.6h-.6zM118.4 88.6h.6v.6h-.6zM126.7 90.8h.6v.6h-.6zM123.2 95.2h.6v.6h-.6zM123.4 95.0h.6v.6h-.6zM118.2 93.9h.6v.6h-.6zM121.8 97.4h.6v.6h-.6zM126.2 90.5h.6v.6h-.6zM123.2 93.3h.6v.6h-.6zM123.8 96.4h.6v.6h-.6zM122.4 95.8h.6v.6h-.6zM127.7 97.7h.6v.6h-.6zM123.4 95.0h.6v.6h-.6zM115.5 92.3h.6v.6h-.6zM121.0 94.9h.6v.6h-.6zM116.3 89.6h.6v.6h-.6zM121.6 95.8h.6v.6h-.6zM128.4 93.3h.6v.6h-.6zM123.7 94.7h.6v.6h-.6zM119.2 86.9h.6v.6h-.6zM120.1 92.1h.6v.6h-.6zM127.6 91.2h.6v.6h-.6zM124.1 90.1h.6v.6h-.6zM123.7 84.7h.6v.6h-.6zM123.3 92.2h.6v.6h-.6zM123.6 97.0h.6v.6h-.6zM126.4 95.0h.6v.6h-.6zM125.5 91.2h.6v.6h-.6zM124.3 93.4h.6v.6h-.6zM119.7 96.5h.6v.6h-.6zM125.4 82.7h.6v.6h-.6zM121.0 93.0h.6v.6h-.6zM127.5 95.6h.6v.6h-.6zM118.9 96.2h.6v.6h-.6zM123.0 100.1h.6v.6h-.6zM123.5 97.9h.6v.6h-.6zM118.7 94.7h.6v.6h-.6zM129.8 94.7h.6v.6h-.6zM128.8 96.6h.6v.6h-.6zM121.8 91.4h.6v.6h-.6zM126.3 93.3h.6v.6h-.6zM124.9 97.0h.6v.6h-.6zM124.4 92.9h.6v.6h-.6zM123.3 93.3h.6v.6h-.6zM123.8 94.3h.6v.6h-.6zM119.6 98.7h.6v.6h-.6zM122.5 93.4h.6v.6h-.6zM122.9 99.2h.6v.6h-.6zM127.8 89.7h.6v.6h-.6zM124.7 92.8h.6v.6h-.6zM123.5 92.7h.6v.6h-.6zM129.1 96.6h.6v.6h-.6zM121.5 97.6h.6v.6h-.6zM122.1 87.6h.6v.6h-.6zM116.9 89.9h.6v.6h-.6zM129.2 94.8h.6v.6h-.6zM127.0 90.9h.6v.6h-.6zM126.8 87.6h.6v.6h-.6zM125.9 97.6h.6v.6h-.6zM123.9 95.4h.6v.6h-.6zM124.3 95.4h.6v.6h-.6zM122.6 91.6h.6v.6h-.6zM122.8 97.5h.6v.6h-.6zM123.7 92.6h.6v.6h-.6zM129.0 97.8h.6v.6h-.6zM125.5 89.9h.6v.6h-.6zM123.3 90.2h.6v.6h-.6zM121.4 94.3h.6v.6h-.6zM121.2 90.8h.6v.6h-.6zM129.3 96.1h.6v.6h-.6zM125.3 94.5h.6v.6h-.6zM123.7 89.9h.6v.6h-.6zM122.2 93.8h.6v.6h-.6zM119.5 92.1h.6v.6h-.6zM123.3 97.1h.6v.6h-.6zM126.7 91.0h.6v.6h-.6zM122.1 91.8h.6v.6h-.6zM122.7 98.2h.6v.6h-.6zM122.7 102.2h.6v.6h-.6zM123.9 101.3h.6v.6h-.6zM117.7 93.7h.6v.6h-.6zM122.6 94.4h.6v.6h-.6zM120.4 99.5h.6v.6h-.6zM126.7 93.0h.6v.6h-.6zM120.7 89.7h.6v.6h-.6zM125.6 94.0h.6v.6h-.6zM129.0 95.3h.6v.6h-.6zM122.4 90.3h.6v.6h-.6zM121.3 87.1h.6v.6h-.6zM124.2 87.9h.6v.6h-.6zM123.5 96.1h.6v.6h-.6zM119.9 90.5h.6v.6h-.6zM125.2 92.9h.6v.6h-.6zM130.8 94.3h.6v.6h-.6zM122.6 95.9h.6v.6h-.6zM122.8 92.2h.6v.6h-.6zM119.7 95.4h.6v.6h-.6zM124.7 90.0h.6v.6h-.6zM119.0 92.1h.6v.6h-.6zM119.5 89.5h.6v.6h-.6zM128.2 97.9h.6v.6h-.6zM120.2 93.4h.6v.6h-.6zM127.4 90.6h.6v.6h-.6zM129.0 92.1h.6v.6h-.6zM124.4 92.6h.6v.6h-.6zM125.5 96.2h.6v.6h-.6zM130.6 87.3h.6v.6h-.6zM122.8 89.5h.6v.6h-.6zM121.3 92.0h.6v.6h-.6zM118.6 103.4h.6v.6h-.6zM123.7 97.2h.6v.6h-.6zM128.9 93.1h.6v.6h-.6zM127.0 96.3h.6v.6h-.6zM120.1 101.5h.6v.6h-.6z"/>
<path fill="#000" fill-opacity="0.55" filter="url(#b0)" d="M126.3 91.9h.6v.6h-.6zM126.1 92.1h.6v.6h-.6zM128.3 94.7h.6v.6h-.6zM127.3 92.6h.6v.6h-.6zM127.6 93.7h.6v.6h-.6zM125.9 89.5h.6v.6h-.6zM129.4 93.8h.6v.6h-.6zM129.0 96.4h.6v.6h-.6zM127.4 93.6h.6v.6h-.6zM127.6 92.4h.6v.6h-.6zM123.7 92.2h.6v.6h-.6zM127.5 95.8h.6v.6h-.6zM126.3 89.9h.6v.6h-.6zM127.2 91.7h.6v.6h-.6zM127.6 92.9h.6v.6h-.6zM126.1 93.5h.6v.6h-.6zM124.2 91.0h.6v.6h-.6zM127.1 92.6h.6v.6h-.6zM125.5 91.3h.6v.6h-.6zM126.1 92.2h.6v.6h-.6zM125.7 91.6h.6v.6h-.6zM126.1 89.4h.6v.6h-.6zM123.3 91.9h.6v.6h-.6zM128.3 93.8h.6v.6h-.6zM127.0 89.8h.6v.6h-.6zM128.2 91.4h.6v.6h-.6zM129.4 93.3h.6v.6h-.6zM126.6 89.6h.6v.6h-.6zM124.0 92.3h.6v.6h-.6zM125.3 89.6h.6v.6h-.6zM124.9 94.3h.6v.6h-.6zM125.9 96.9h.6v.6h-.6zM126.7 96.3h.6v.6h-.6zM123.7 91.4h.6v.6h-.6zM127.1 93.5h.6v.6h-.6zM124.4 92.2h.6v.6h-.6zM127.0 92.1h.6v.6h-.6zM126.4 95.2h.6v.6h-.6zM126.2 89.1h.6v.6h-.6zM126.5 94.2h.6v.6h-.6zM125.8 91.8h.6v.6h-.6zM125.7 94.9h.6v.6h-.6zM124.2 92.3h.6v.6h-.6zM126.6 90.4h.6v.6h-.6zM129.2 92.5h.6v.6h-.6zM129.4 93.5h.6v.6h-.6zM128.5 92.0h.6v.6h-.6zM127.6 93.0h.6v.6h-.6zM125.6 90.8h.6v.6h-.6zM128.7 87.3h.6v.6h-.6zM126.5 93.8h.6v.6h-.6zM126.5 93.4h.6v.6h-.6zM126.2 92.2h.6v.6h-.6zM126.7 92.0h.6v.6h-.6zM126.0 94.1h.6v.6h-.6zM126.5 90.9h.6v.6h-.6zM125.0 90.4h.6v.6h-.6zM126.1 91.5h.6v.6h-.6zM129.9 94.5h.6v.6h-.6zM126.5 88.9h.6v.6h-.6zM126.3 94.5h.6v.6h-.6zM127.4 90.5h.6v.6h-.6zM127.6 89.5h.6v.6h-.6zM125.0 94.6h.6v.6h-.6zM126.3 91.7h.6v.6h-.6zM127.9 89.1h.6v.6h-.6zM127.0 91.1h.6v.6h-.6zM126.8 93.9h.6v.6h-.6zM128.8 94.5h.6v.6h-.6zM125.6 91.0h.6v.6h-.6zM126.7 92.8h.6v.6h-.6zM125.9 93.4h.6v.6h-.6zM128.7 90.5h.6v.6h-.6zM123.8 92.7h.6v.6h-.6zM125.6 91.8h.6v.6h-.6zM125.8 90.7h.6v.6h-.6zM127.5 90.8h.6v.6h-.6zM127.5 92.0h.6v.6h-.6zM128.6 92.0h.6v.6h-.6zM124.3 90.7h.6v.6h-.6zM127.7 91.0h.6v.6h-.6zM126.2 94.3h.6v.6h-.6zM125.6 92.4h.6v.6h-.6zM127.4 93.8h.6v.6h-.6zM125.3 94.5h.6v.6h-.6zM123.6 93.2h.6v.6h-.6zM126.1 96.8h.6v.6h-.6zM124.5 90.1h.6v.6h-.6zM125.7 93.6h.6v.6h-.6zM127.1 91.2h.6v.6h-.6zM127.0 95.9h.6v.6h-.6zM128.9 95.6h.6v.6h-.6zM126.3 87.7h.6v.6h-.6zM124.4 89.8h.6v.6h-.6zM125.5 93.3h.6v.6h-.6zM125.3 93.6h.6v.6h-.6zM124.9 93.5h.6v.6h-.6zM127.2 91.7h.6v.6h-.6zM125.7 92.9h.6v.6h-.6zM123.8 93.3h.6v.6h-.6zM127.6 91.7h.6v.6h-.6zM126.4 94.1h.6v.6h-.6zM127.1 87.0h.6v.6h-.6zM126.8 93.3h.6v.6h-.6zM127.5 89.7h.6v.6h-.6zM126.7 94.0h.6v.6h-.6zM128.4 91.4h.6v.6h-.6zM127.2 90.0h.6v.6h-.6zM127.2 92.7h.6v.6h-.6zM127.2 89.9h.6v.6h-.6zM124.5 89.9h.6v.6h-.6zM126.4 88.5h.6v.6h-.6zM126.2 91.8h.6v.6h-.6zM126.9 93.0h.6v.6h-.6zM124.7 94.1h.6v.6h-.6zM128.9 91.6h.6v.6h-.6zM126.7 94.2h.6v.6h-.6zM124.9 91.9h.6v.6h-.6zM124.2 91.7h.6v.6h-.6zM126.2 93.1h.6v.6h-.6zM126.5 94.2h.6v.6h-.6zM125.6 91.2h.6v.6h-.6zM126.7 91.4h.6v.6h-.6zM125.7 91.6h.6v.6h-.6zM127.4 92.1h.6v.6h-.6zM125.6 90.0h.6v.6h-.6zM126.5 94.1h.6v.6h-.6zM128.0 91.0h.6v.6h-.6zM130.3 92.9h.6v.6h-.6zM125.2 90.1h.6v.6h-.6zM125.9 92.7h.6v.6h-.6zM125.4 92.7h.6v.6h-.6zM127.7 91.0h.6v.6h-.6zM125.0 96.3h.6v.6h-.6zM125.9 92.7h.6v.6h-.6zM126.6 95.7h.6v.6h-.6zM125.2 94.0h.6v.6h-.6zM125.2 90.5h.6v.6h-.6zM125.9 91.1h.6v.6h-.6zM123.6 92.8h.6v.6h-.6zM124.5 92.0h.6v.6h-.6zM126.0 92.0h.6v.6h-.6zM126.8 91.3h.6v.6h-.6zM126.3 88.0h.6v.6h-.6zM124.1 91.4h.6v.6h-.6zM125.9 87.1h.6v.6h-.6zM127.7 92.7h.6v.6h-.6zM127.4 90.3h.6v.6h-.6zM126.5 90.4h.6v.6h-.6zM125.3 91.4h.6v.6h-.6zM127.5 92.5h.6v.6h-.6zM125.8 88.8h.6v.6h-.6zM124.9 88.1h.6v.6h-.6zM125.5 89.6h.6v.6h-.6zM128.7 87.5h.6v.6h-.6zM126.9 89.8h.6v.6h-.6zM128.3 95.3h.6v.6h-.6zM125.9 89.6h.6v.6h-.6zM127.9 93.3h.6v.6h-.6zM125.7 88.9h.6v.6h-.6zM126.4 92.5h.6v.6h-.6zM130.2 91.2h.6v.6h-.6zM127.7 91.8h.6v.6h-.6zM125.9 93.1h.6v.6h-.6zM126.5 95.7h.6v.6h-.6zM127.1 92.3h.6v.6h-.6zM128.3 92.2h.6v.6h-.6zM125.9 89.8h.6v.6h-.6zM124.1 93.2h.6v.6h-.6zM126.2 91.4h.6v.6h-.6z"/>
<path fill="#000" fill-opacity="0.5" filter="url(#b0)" d="M127.0 108.4h.6v.6h-.6zM125.5 110.7h.6v.6h-.6zM128.5 109.6h.6v.6h-.6zM122.3 109.9h.6v.6h-.6zM125.1 107.9h.6v.6h-.6zM127.1 109.1h.6v.6h-.6zM125.0 110.4h.6v.6h-.6zM124.3 111.7h.6v.6h-.6zM125.2 111.8h.6v.6h-.6zM123.3 110.3h.6v.6h-.6zM125.8 110.1h.6v.6h-.6zM129.7 109.2h.6v.6h-.6zM127.5 111.0h.6v.6h-.6zM123.8 110.0h.6v.6h-.6zM124.1 111.3h.6v.6h-.6zM124.9 113.0h.6v.6h-.6zM127.3 110.4h.6v.6h-.6zM124.2 108.2h.6v.6h-.6zM124.5 109.1h.6v.6h-.6zM127.1 108.3h.6v.6h-.6zM127.0 108.7h.6v.6h-.6zM125.0 112.3h.6v.6h-.6zM123.7 110.7h.6v.6h-.6zM123.0 108.2h.6v.6h-.6zM124.4 111.4h.6v.6h-.6zM121.9 112.2h.6v.6h-.6zM126.8 109.9h.6v.6h-.6zM124.6 109.4h.6v.6h-.6zM126.4 109.9h.6v.6h-.6zM128.7 110.8h.6v.6h-.6zM127.6 111.3h.6v.6h-.6zM123.7 112.1h.6v.6h-.6zM127.0 112.2h.6v.6h-.6zM127.5 112.1h.6v.6h-.6zM124.4 112.4h.6v.6h-.6zM124.0 111.4h.6v.6h-.6zM125.4 108.2h.6v.6h-.6zM122.9 110.2h.6v.6h-.6zM128.0 110.9h.6v.6h-.6zM121.6 109.8h.6v.6h-.6zM123.8 111.7h.6v.6h-.6zM125.2 109.9h.6v.6h-.6zM125.2 109.1h.6v.6h-.6zM125.9 112.5h.6v.6h-.6zM126.1 111.4h.6v.6h-.6zM125.2 110.7h.6v.6h-.6zM127.5 111.7h.6v.6h-.6zM122.0 111.9h.6v.6h-.6zM125.6 110.9h.6v.6h-.6zM124.4 106.8h.6v.6h-.6zM125.8 109.4h.6v.6h-.6zM126.0 109.7h.6v.6h-.6zM124.1 109.0h.6v.6h-.6zM124.5 110.7h.6v.6h-.6zM126.9 112.1h.6v.6h-.6zM126.2 109.7h.6v.6h-.6zM124.5 108.7h.6v.6h-.6zM129.0 113.4h.6v.6h-.6zM129.4 109.7h.6v.6h-.6zM123.2 108.6h.6v.6h-.6zM126.1 110.7h.6v.6h-.6zM129.8 111.0h.6v.6h-.6zM126.9 109.4h.6v.6h-.6zM126.0 111.6h.6v.6h-.6zM125.3 109.7h.6v.6h-.6zM124.7 109.1h.6v.6h-.6zM125.2 110.7h.6v.6h-.6zM124.7 111.5h.6v.6h-.6zM126.8 109.5h.6v.6h-.6zM124.9 110.9h.6v.6h-.6zM124.9 110.3h.6v.6h-.6zM125.5 109.4h.6v.6h-.6zM124.1 112.4h.6v.6h-.6zM125.3 110.3h.6v.6h-.6zM127.3 110.2h.6v.6h-.6zM126.2 111.5h.6v.6h-.6zM126.4 111.7h.6v.6h-.6zM126.2 112.2h.6v.6h-.6zM125.7 110.9h.6v.6h-.6zM125.4 109.5h.6v.6h-.6zM125.1 109.6h.6v.6h-.6zM126.9 111.1h.6v.6h-.6zM123.8 111.2h.6v.6h-.6zM127.8 112.4h.6v.6h-.6zM125.7 111.0h.6v.6h-.6zM124.4 111.9h.6v.6h-.6zM124.8 112.6h.6v.6h-.6zM124.5 110.6h.6v.6h-.6zM125.9 108.2h.6v.6h-.6zM124.4 108.7h.6v.6h-.6zM127.5 108.3h.6v.6h-.6zM124.3 112.7h.6v.6h-.6zM121.8 109.2h.6v.6h-.6zM124.4 112.2h.6v.6h-.6zM122.3 111.3h.6v.6h-.6zM125.5 112.9h.6v.6h-.6zM127.4 111.9h.6v.6h-.6zM126.7 110.3h.6v.6h-.6zM123.4 110.1h.6v.6h-.6zM124.3 110.5h.6v.6h-.6zM128.6 110.7h.6v.6h-.6zM126.1 109.6h.6v.6h-.6zM125.6 110.4h.6v.6h-.6zM127.4 112.7h.6v.6h-.6zM129.7 107.9h.6v.6h-.6zM127.8 110.8h.6v.6h-.6zM125.8 109.1h.6v.6h-.6zM126.2 110.7h.6v.6h-.6zM126.6 111.6h.6v.6h-.6zM124.6 110.3h.6v.6h-.6zM123.8 111.5h.6v.6h-.6zM125.7 108.1h.6v.6h-.6zM124.0 112.0h.6v.6h-.6zM125.5 109.5h.6v.6h-.6zM125.8 111.3h.6v.6h-.6zM129.5 110.7h.6v.6h-.6zM124.2 106.6h.6v.6h-.6zM125.4 109.3h.6v.6h-.6zM125.3 110.7h.6v.6h-.6zM126.3 112.7h.6v.6h-.6zM127.3 110.8h.6v.6h-.6zM124.8 110.8h.6v.6h-.6zM124.2 108.3h.6v.6h-.6zM122.9 112.5h.6v.6h-.6zM124.1 113.0h.6v.6h-.6zM126.5 110.4h.6v.6h-.6zM125.7 110.1h.6v.6h-.6zM123.9 108.0h.6v.6h-.6zM125.0 111.7h.6v.6h-.6zM126.4 111.4h.6v.6h-.6zM124.6 112.2h.6v.6h-.6zM125.2 111.2h.6v.6h-.6zM122.6 109.0h.6v.6h-.6zM123.7 112.3h.6v.6h-.6zM128.3 108.6h.6v.6h-.6zM122.0 110.1h.6v.6h-.6zM125.0 110.8h.6v.6h-.6zM126.0 111.7h.6v.6h-.6zM125.0 111.0h.6v.6h-.6zM124.3 111.0h.6v.6h-.6zM125.5 109.3h.6v.6h-.6zM125.6 108.5h.6v.6h-.6zM125.5 110.5h.6v.6h-.6zM122.5 109.4h.6v.6h-.6zM125.4 108.5h.6v.6h-.6zM124.2 108.6h.6v.6h-.6zM124.7 109.7h.6v.6h-.6zM126.0 107.7h.6v.6h-.6zM126.7 108.4h.6v.6h-.6zM127.1 108.0h.6v.6h-.6zM124.8 110.7h.6v.6h-.6zM127.1 111.0h.6v.6h-.6zM127.6 113.3h.6v.6h-.6zM127.5 108.2h.6v.6h-.6zM127.9 109.4h.6v.6h-.6zM125.4 111.7h.6v.6h-.6zM125.3 110.1h.6v.6h-.6zM127.0 109.9h.6v.6h-.6z"/>
<path fill="#000" fill-opacity="0.6" filter="url(#b0)" d="M147.1 99.4h.5v.5h-.5zM142.4 100.1h.5v.5h-.5zM142.6 96.6h.5v.5h-.5zM142.7 95.8h.5v.5h-.5zM145.5 97.0h.5v.5h-.5zM141.9 103.7h.5v.5h-.5zM137.9 104.5h.5v.5h-.5zM141.0 100.1h.5v.5h-.5zM145.1 98.5h.5v.5h-.5zM143.3 102.1h.5v.5h-.5zM142.7 98.4h.5v.5h-.5zM143.3 102.3h.5v.5h-.5zM143.9 101.0h.5v.5h-.5zM140.0 98.9h.5v.5h-.5zM142.0 101.0h.5v.5h-.5zM144.7 98.7h.5v.5h-.5zM142.9 98.3h.5v.5h-.5zM142.1 93.7h.5v.5h-.5zM143.4 98.5h.5v.5h-.5zM146.4 96.9h.5v.5h-.5zM146.1 100.8h.5v.5h-.5zM141.0 95.5h.5v.5h-.5zM147.4 102.3h.5v.5h-.5zM140.9 99.9h.5v.5h-.5zM146.7 97.1h.5v.5h-.5zM146.4 98.8h.5v.5h-.5zM146.2 98.3h.5v.5h-.5zM142.6 101.8h.5v.5h-.5zM139.1 103.0h.5v.5h-.5zM143.2 102.5h.5v.5h-.5zM142.6 98.3h.5v.5h-.5zM137.2 101.3h.5v.5h-.5zM149.9 98.5h.5v.5h-.5zM142.5 104.1h.5v.5h-.5zM147.1 99.7h.5v.5h-.5zM145.5 92.1h.5v.5h-.5zM142.2 107.7h.5v.5h-.5zM143.8 105.1h.5v.5h-.5zM147.2 98.6h.5v.5h-.5zM143.0 100.2h.5v.5h-.5zM141.6 98.2h.5v.5h-.5zM142.9 99.9h.5v.5h-.5zM141.7 94.2h.5v.5h-.5zM141.4 96.6h.5v.5h-.5zM142.8 101.0h.5v.5h-.5zM141.4 99.5h.5v.5h-.5zM141.4 102.6h.5v.5h-.5zM143.0 99.9h.5v.5h-.5zM143.4 107.3h.5v.5h-.5zM146.4 99.1h.5v.5h-.5zM142.9 100.4h.5v.5h-.5zM147.8 96.1h.5v.5h-.5zM143.7 96.0h.5v.5h-.5zM141.0 102.8h.5v.5h-.5zM146.0 98.2h.5v.5h-.5zM140.6 100.0h.5v.5h-.5zM142.9 99.4h.5v.5h-.5zM142.5 96.0h.5v.5h-.5zM144.0 99.0h.5v.5h-.5zM146.7 99.9h.5v.5h-.5zM140.1 111.2h.5v.5h-.5zM142.0 110.3h.5v.5h-.5zM139.9 109.8h.5v.5h-.5zM139.3 111.1h.5v.5h-.5zM141.4 109.7h.5v.5h-.5zM142.7 108.6h.5v.5h-.5zM145.5 113.0h.5v.5h-.5zM142.3 107.7h.5v.5h-.5zM140.8 112.5h.5v.5h-.5zM140.6 110.5h.5v.5h-.5zM139.4 104.4h.5v.5h-.5zM139.3 110.8h.5v.5h-.5zM139.2 108.2h.5v.5h-.5zM140.2 109.7h.5v.5h-.5zM142.2 108.0h.5v.5h-.5zM140.2 108.2h.5v.5h-.5zM138.8 111.1h.5v.5h-.5zM141.8 111.6h.5v.5h-.5zM144.0 108.6h.5v.5h-.5zM142.3 110.6h.5v.5h-.5zM143.5 113.8h.5v.5h-.5zM140.5 113.1h.5v.5h-.5zM142.1 110.8h.5v.5h-.5zM145.5 110.9h.5v.5h-.5zM138.8 110.5h.5v.5h-.5zM142.9 109.4h.5v.5h-.5zM141.6 110.8h.5v.5h-.5zM142.2 108.0h.5v.5h-.5zM143.1 109.6h.5v.5h-.5zM139.8 112.6h.5v.5h-.5zM141.6 112.4h.5v.5h-.5zM139.4 110.5h.5v.5h-.5zM139.7 109.2h.5v.5h-.5zM139.8 110.9h.5v.5h-.5zM140.6 106.7h.5v.5h-.5zM141.2 107.6h.5v.5h-.5zM141.7 112.8h.5v.5h-.5zM138.4 109.6h.5v.5h-.5zM144.4 111.7h.5v.5h-.5zM142.9 113.8h.5v.5h-.5zM142.2 112.4h.5v.5h-.5zM140.3 110.9h.5v.5h-.5zM141.9 112.4h.5v.5h-.5zM141.6 109.9h.5v.5h-.5zM137.9 112.6h.5v.5h-.5zM142.2 111.8h.5v.5h-.5zM146.0 108.7h.5v.5h-.5zM137.7 111.0h.5v.5h-.5zM142.6 110.4h.5v.5h-.5zM141.5 105.9h.5v.5h-.5zM140.7 110.4h.5v.5h-.5zM143.3 110.1h.5v.5h-.5zM138.8 109.7h.5v.5h-.5z"/>
<path fill="#000" fill-opacity="0.3" filter="url(#b0)" d="M119.2 86.2h.5v.5h-.5zM131.1 103.8h.5v.5h-.5zM134.0 101.1h.5v.5h-.5zM135.3 100.5h.5v.5h-.5zM123.9 78.1h.5v.5h-.5zM140.3 97.1h.5v.5h-.5zM123.2 103.8h.5v.5h-.5zM132.3 91.1h.5v.5h-.5zM146.5 98.8h.5v.5h-.5zM129.7 104.0h.5v.5h-.5zM144.3 92.0h.5v.5h-.5zM130.8 105.8h.5v.5h-.5zM131.7 81.4h.5v.5h-.5zM136.4 104.2h.5v.5h-.5zM144.1 95.9h.5v.5h-.5zM126.7 89.7h.5v.5h-.5zM125.1 92.4h.5v.5h-.5zM126.5 90.5h.5v.5h-.5zM126.6 91.6h.5v.5h-.5zM137.2 95.5h.5v.5h-.5zM126.2 88.8h.5v.5h-.5zM135.5 108.7h.5v.5h-.5zM138.1 113.5h.5v.5h-.5zM127.7 91.7h.5v.5h-.5zM135.6 82.5h.5v.5h-.5zM149.5 108.5h.5v.5h-.5zM137.4 108.0h.5v.5h-.5zM128.5 105.4h.5v.5h-.5zM133.8 108.4h.5v.5h-.5zM126.0 90.2h.5v.5h-.5zM136.9 96.5h.5v.5h-.5zM142.3 85.5h.5v.5h-.5zM126.9 85.2h.5v.5h-.5zM132.5 106.8h.5v.5h-.5zM144.6 92.0h.5v.5h-.5zM136.1 98.7h.5v.5h-.5zM125.0 92.2h.5v.5h-.5zM126.9 105.2h.5v.5h-.5zM130.7 87.0h.5v.5h-.5zM129.6 101.3h.5v.5h-.5zM129.3 110.4h.5v.5h-.5zM132.9 93.6h.5v.5h-.5zM140.3 91.0h.5v.5h-.5zM136.1 107.1h.5v.5h-.5zM152.9 99.3h.5v.5h-.5zM136.3 88.1h.5v.5h-.5zM147.4 94.6h.5v.5h-.5zM136.9 91.2h.5v.5h-.5zM139.9 100.7h.5v.5h-.5zM121.4 99.0h.5v.5h-.5zM133.3 108.4h.5v.5h-.5zM133.8 104.4h.5v.5h-.5zM132.2 83.9h.5v.5h-.5zM142.3 106.1h.5v.5h-.5zM130.9 102.1h.5v.5h-.5zM130.5 107.3h.5v.5h-.5zM132.1 93.1h.5v.5h-.5zM132.3 89.4h.5v.5h-.5zM138.1 106.4h.5v.5h-.5zM123.0 88.4h.5v.5h-.5zM126.0 78.6h.5v.5h-.5zM137.0 107.2h.5v.5h-.5zM135.7 91.5h.5v.5h-.5zM131.0 95.2h.5v.5h-.5zM129.2 85.4h.5v.5h-.5zM126.9 86.1h.5v.5h-.5zM133.9 87.6h.5v.5h-.5zM145.0 94.8h.5v.5h-.5zM124.9 101.3h.5v.5h-.5zM148.1 77.3h.5v.5h-.5zM142.0 104.8h.5v.5h-.5zM130.3 87.4h.5v.5h-.5zM141.4 88.4h.5v.5h-.5zM121.2 104.1h.5v.5h-.5zM118.8 97.3h.5v.5h-.5zM122.8 84.2h.5v.5h-.5zM131.5 90.3h.5v.5h-.5zM129.8 100.2h.5v.5h-.5zM135.3 99.8h.5v.5h-.5zM138.9 93.9h.5v.5h-.5zM121.6 107.1h.5v.5h-.5zM128.5 91.3h.5v.5h-.5zM130.7 108.1h.5v.5h-.5zM124.0 91.1h.5v.5h-.5zM122.1 94.7h.5v.5h-.5zM134.3 100.9h.5v.5h-.5zM139.7 99.0h.5v.5h-.5zM125.4 101.3h.5v.5h-.5zM127.3 90.7h.5v.5h-.5zM126.1 104.6h.5v.5h-.5zM138.4 87.4h.5v.5h-.5zM116.1 108.2h.5v.5h-.5zM145.5 108.9h.5v.5h-.5zM130.0 92.8h.5v.5h-.5zM127.3 92.3h.5v.5h-.5zM137.5 99.6h.5v.5h-.5zM143.7 98.1h.5v.5h-.5zM137.5 89.2h.5v.5h-.5zM143.9 103.1h.5v.5h-.5zM135.6 79.6h.5v.5h-.5zM145.5 94.1h.5v.5h-.5zM145.6 94.4h.5v.5h-.5zM133.5 95.5h.5v.5h-.5zM147.4 100.8h.5v.5h-.5zM135.9 86.9h.5v.5h-.5zM135.2 103.3h.5v.5h-.5zM126.1 96.4h.5v.5h-.5zM131.8 92.1h.5v.5h-.5zM141.4 85.7h.5v.5h-.5z"/>
<ellipse cx="143.60" cy="98.40" rx="5.90" ry="8.30" transform="rotate(25 143.60 98.40)" fill="none" stroke="#555" stroke-width="0.5"/>
<rect x="126.10" y="79.90" width="24.90" height="4.60" fill="#fff" stroke="#d0d0d0" stroke-width="0.45" rx="1.0"/>
<text x="138.55" y="83.75" font-size="4.5" text-anchor="middle" fill="#111" textLength="22.30" lengthAdjust="spacingAndGlyphs">CLL : 80,54%</text>
<rect x="156.80" y="76.00" width="38.80" height="39.30" fill="#fff" stroke="#9a9a9a" stroke-width="0.7"/>
<line x1="156.80" y1="76.20" x2="195.60" y2="76.20" stroke="#c4c4c4" stroke-width="1.2"/>
<line x1="155.40" y1="76.90" x2="156.80" y2="76.90" stroke="#888" stroke-width="0.4" />
<rect x="152.90" y="76.40" width="1.8" height="1.1" fill="#aaa"/>
<line x1="155.40" y1="85.68" x2="156.80" y2="85.68" stroke="#888" stroke-width="0.4" />
<rect x="152.90" y="85.18" width="1.8" height="1.1" fill="#aaa"/>
<line x1="155.40" y1="94.46" x2="156.80" y2="94.46" stroke="#888" stroke-width="0.4" />
<rect x="152.90" y="93.96" width="1.8" height="1.1" fill="#aaa"/>
<line x1="155.40" y1="103.24" x2="156.80" y2="103.24" stroke="#888" stroke-width="0.4" />
<rect x="152.90" y="102.74" width="1.8" height="1.1" fill="#aaa"/>
<line x1="155.40" y1="112.02" x2="156.80" y2="112.02" stroke="#888" stroke-width="0.4" />
<rect x="152.90" y="111.52" width="1.8" height="1.1" fill="#aaa"/>
<line x1="161.50" y1="115.30" x2="161.50" y2="116.70" stroke="#888" stroke-width="0.4" />
<rect x="160.60" y="117.20" width="1.8" height="1.0" fill="#aaa"/>
<line x1="169.35" y1="115.30" x2="169.35" y2="116.70" stroke="#888" stroke-width="0.4" />
<rect x="168.45" y="117.20" width="1.8" height="1.0" fill="#aaa"/>
<line x1="177.20" y1="115.30" x2="177.20" y2="116.70" stroke="#888" stroke-width="0.4" />
<rect x="176.30" y="117.20" width="1.8" height="1.0" fill="#aaa"/>
<line x1="185.05" y1="115.30" x2="185.05" y2="116.70" stroke="#888" stroke-width="0.4" />
<rect x="184.15" y="117.20" width="1.8" height="1.0" fill="#aaa"/>
<line x1="192.90" y1="115.30" x2="192.90" y2="116.70" stroke="#888" stroke-width="0.4" />
<rect x="192.00" y="117.20" width="1.8" height="1.0" fill="#aaa"/>
<ellipse cx="168.60" cy="92.50" rx="5.04" ry="6.30" transform="rotate(10 168.60 92.50)" fill="#000" fill-opacity="0.03" filter="url(#b2)"/>
<ellipse cx="168.60" cy="110.40" rx="3.15" ry="1.93" transform="rotate(0 168.60 110.40)" fill="#000" fill-opacity="0.45" filter="url(#b2)"/>
<ellipse cx="184.80" cy="99.80" rx="3.41" ry="4.20" transform="rotate(30 184.80 99.80)" fill="#000" fill-opacity="0.45" filter="url(#b2)"/>
<ellipse cx="184.80" cy="99.80" rx="2.58" ry="3.29" transform="rotate(30 184.80 99.80)" fill="#000" fill-opacity="1.0" filter="url(#b1)"/>
<ellipse cx="183.40" cy="110.40" rx="0.92" ry="1.34" transform="rotate(0 183.40 110.40)" fill="#000" fill-opacity="0.4" filter="url(#b2)"/>
<path fill="#000" fill-opacity="0.25" filter="url(#b0)" d="M163.2 91.8h.6v.6h-.6zM165.0 88.9h.6v.6h-.6zM163.7 96.0h.6v.6h-.6zM167.7 91.0h.6v.6h-.6zM160.3 98.0h.6v.6h-.6zM168.3 91.1h.6v.6h-.6zM165.9 90.6h.6v.6h-.6zM171.6 91.4h.6v.6h-.6zM171.1 95.4h.6v.6h-.6zM172.8 94.0h.6v.6h-.6zM170.0 98.2h.6v.6h-.6zM168.8 90.3h.6v.6h-.6zM171.0 94.1h.6v.6h-.6zM171.9 100.8h.6v.6h-.6zM166.8 91.2h.6v.6h-.6zM170.1 94.9h.6v.6h-.6zM167.4 98.5h.6v.6h-.6zM172.6 95.4h.6v.6h-.6zM166.5 89.6h.6v.6h-.6zM169.1 84.4h.6v.6h-.6zM168.1 101.9h.6v.6h-.6zM169.1 94.3h.6v.6h-.6zM162.7 96.5h.6v.6h-.6zM170.0 90.9h.6v.6h-.6zM167.0 99.4h.6v.6h-.6zM167.5 94.4h.6v.6h-.6zM168.1 92.6h.6v.6h-.6zM169.9 89.2h.6v.6h-.6zM162.8 92.9h.6v.6h-.6zM173.7 91.5h.6v.6h-.6zM166.1 91.2h.6v.6h-.6zM162.8 85.1h.6v.6h-.6zM168.7 90.6h.6v.6h-.6zM173.0 93.9h.6v.6h-.6zM167.9 87.4h.6v.6h-.6zM173.3 93.6h.6v.6h-.6zM172.9 95.9h.6v.6h-.6zM166.2 90.9h.6v.6h-.6zM161.4 88.8h.6v.6h-.6zM165.2 89.4h.6v.6h-.6zM171.6 96.8h.6v.6h-.6zM167.1 86.2h.6v.6h-.6zM164.2 90.5h.6v.6h-.6zM164.8 90.2h.6v.6h-.6zM168.5 93.1h.6v.6h-.6zM168.6 92.2h.6v.6h-.6zM172.0 88.7h.6v.6h-.6zM170.3 100.9h.6v.6h-.6zM165.6 92.7h.6v.6h-.6zM169.0 87.3h.6v.6h-.6zM165.7 88.5h.6v.6h-.6zM168.8 92.9h.6v.6h-.6zM164.6 94.2h.6v.6h-.6zM165.8 86.7h.6v.6h-.6zM174.6 96.4h.6v.6h-.6zM169.6 87.2h.6v.6h-.6zM171.1 89.8h.6v.6h-.6zM175.8 97.2h.6v.6h-.6zM169.9 99.5h.6v.6h-.6zM168.3 92.1h.6v.6h-.6z"/>
<path fill="#000" fill-opacity="0.45" filter="url(#b0)" d="M168.0 110.1h.6v.6h-.6zM171.1 108.3h.6v.6h-.6zM166.5 110.8h.6v.6h-.6zM169.1 110.9h.6v.6h-.6zM169.1 111.2h.6v.6h-.6zM170.6 109.3h.6v.6h-.6zM169.2 110.7h.6v.6h-.6zM168.1 109.3h.6v.6h-.6zM169.8 109.8h.6v.6h-.6zM166.4 110.3h.6v.6h-.6zM170.2 111.9h.6v.6h-.6zM167.3 109.9h.6v.6h-.6zM166.8 110.6h.6v.6h-.6zM167.9 109.4h.6v.6h-.6zM168.7 109.7h.6v.6h-.6zM170.0 109.6h.6v.6h-.6zM168.2 110.2h.6v.6h-.6zM170.0 111.3h.6v.6h-.6zM170.5 109.1h.6v.6h-.6zM168.4 111.3h.6v.6h-.6zM166.7 109.3h.6v.6h-.6zM170.4 110.8h.6v.6h-.6zM169.1 109.7h.6v.6h-.6zM164.5 110.0h.6v.6h-.6zM166.7 109.9h.6v.6h-.6zM168.9 111.7h.6v.6h-.6zM165.9 110.7h.6v.6h-.6zM167.3 111.7h.6v.6h-.6zM165.3 109.9h.6v.6h-.6zM169.4 110.1h.6v.6h-.6zM169.1 112.3h.6v.6h-.6zM168.9 108.4h.6v.6h-.6zM171.4 109.3h.6v.6h-.6zM167.9 110.2h.6v.6h-.6zM168.0 112.6h.6v.6h-.6zM172.5 109.6h.6v.6h-.6zM166.1 111.3h.6v.6h-.6zM170.0 112.3h.6v.6h-.6zM166.0 110.1h.6v.6h-.6zM169.1 110.2h.6v.6h-.6zM172.7 112.4h.6v.6h-.6zM169.1 109.7h.6v.6h-.6zM167.1 109.1h.6v.6h-.6zM173.2 111.4h.6v.6h-.6zM167.5 109.8h.6v.6h-.6zM168.2 111.9h.6v.6h-.6zM169.2 111.0h.6v.6h-.6zM166.0 108.3h.6v.6h-.6zM170.8 110.7h.6v.6h-.6zM171.8 110.4h.6v.6h-.6zM170.1 109.6h.6v.6h-.6zM169.2 111.7h.6v.6h-.6zM168.3 108.2h.6v.6h-.6zM170.3 108.9h.6v.6h-.6zM162.5 109.8h.6v.6h-.6zM168.4 111.3h.6v.6h-.6zM169.1 108.5h.6v.6h-.6zM164.7 109.6h.6v.6h-.6zM169.4 109.5h.6v.6h-.6zM168.4 108.6h.6v.6h-.6zM168.5 109.9h.6v.6h-.6zM168.8 109.0h.6v.6h-.6zM169.7 109.8h.6v.6h-.6zM169.5 110.7h.6v.6h-.6zM166.6 109.3h.6v.6h-.6zM168.4 109.3h.6v.6h-.6zM168.2 109.2h.6v.6h-.6zM168.7 109.3h.6v.6h-.6zM167.4 108.5h.6v.6h-.6zM170.5 108.9h.6v.6h-.6zM171.1 110.5h.6v.6h-.6zM171.6 109.3h.6v.6h-.6zM172.3 114.3h.6v.6h-.6zM171.5 109.4h.6v.6h-.6zM167.7 110.9h.6v.6h-.6zM167.4 108.5h.6v.6h-.6zM167.8 110.0h.6v.6h-.6zM169.7 109.7h.6v.6h-.6zM168.3 110.3h.6v.6h-.6zM170.5 111.9h.6v.6h-.6zM171.8 110.2h.6v.6h-.6zM167.8 108.9h.6v.6h-.6zM170.5 110.5h.6v.6h-.6zM167.8 109.2h.6v.6h-.6zM166.1 110.2h.6v.6h-.6zM166.1 112.3h.6v.6h-.6zM168.0 111.5h.6v.6h-.6zM164.9 111.7h.6v.6h-.6zM169.6 111.0h.6v.6h-.6zM171.5 110.4h.6v.6h-.6zM166.3 108.5h.6v.6h-.6zM167.9 109.8h.6v.6h-.6zM171.6 109.8h.6v.6h-.6zM169.3 111.2h.6v.6h-.6zM169.0 111.6h.6v.6h-.6zM168.1 111.0h.6v.6h-.6zM170.6 109.4h.6v.6h-.6zM169.2 112.6h.6v.6h-.6zM166.5 112.1h.6v.6h-.6zM163.9 110.1h.6v.6h-.6zM163.4 110.6h.6v.6h-.6zM169.9 111.2h.6v.6h-.6zM168.1 110.5h.6v.6h-.6zM171.4 110.3h.6v.6h-.6zM169.6 111.0h.6v.6h-.6zM166.1 110.4h.6v.6h-.6zM169.2 110.6h.6v.6h-.6zM170.9 108.5h.6v.6h-.6zM166.8 108.5h.6v.6h-.6zM167.6 112.5h.6v.6h-.6zM172.0 108.6h.6v.6h-.6zM165.2 111.0h.6v.6h-.6zM166.5 110.8h.6v.6h-.6zM170.6 110.7h.6v.6h-.6zM169.0 109.6h.6v.6h-.6zM166.4 111.6h.6v.6h-.6zM165.8 110.8h.6v.6h-.6zM169.5 110.0h.6v.6h-.6zM171.0 108.7h.6v.6h-.6zM170.2 110.1h.6v.6h-.6zM169.4 109.7h.6v.6h-.6zM171.5 108.9h.6v.6h-.6zM169.2 110.9h.6v.6h-.6zM167.0 111.1h.6v.6h-.6zM172.6 111.4h.6v.6h-.6zM166.2 110.5h.6v.6h-.6zM168.3 110.1h.6v.6h-.6zM168.5 111.8h.6v.6h-.6zM171.4 111.3h.6v.6h-.6zM167.1 113.2h.6v.6h-.6zM182.8 110.6h.6v.6h-.6zM184.3 110.6h.6v.6h-.6zM183.0 110.3h.6v.6h-.6zM183.9 111.6h.6v.6h-.6zM183.0 111.7h.6v.6h-.6zM182.5 111.0h.6v.6h-.6zM183.2 109.6h.6v.6h-.6zM184.0 110.9h.6v.6h-.6zM183.5 110.5h.6v.6h-.6zM183.3 110.1h.6v.6h-.6zM184.0 109.2h.6v.6h-.6zM183.0 111.2h.6v.6h-.6zM183.9 111.5h.6v.6h-.6zM183.6 110.7h.6v.6h-.6zM182.9 110.9h.6v.6h-.6zM184.0 111.9h.6v.6h-.6zM184.1 112.1h.6v.6h-.6zM183.3 110.7h.6v.6h-.6zM183.5 108.1h.6v.6h-.6zM183.3 111.1h.6v.6h-.6zM182.8 110.6h.6v.6h-.6zM183.9 111.1h.6v.6h-.6zM182.9 110.1h.6v.6h-.6zM183.8 109.7h.6v.6h-.6zM183.2 110.9h.6v.6h-.6zM182.9 110.2h.6v.6h-.6zM183.8 110.6h.6v.6h-.6zM183.6 110.8h.6v.6h-.6zM184.5 110.6h.6v.6h-.6zM183.4 109.3h.6v.6h-.6z"/>
<path fill="#000" fill-opacity="0.6" filter="url(#b0)" d="M186.2 99.6h.5v.5h-.5zM183.4 98.7h.5v.5h-.5zM186.9 100.0h.5v.5h-.5zM189.3 101.1h.5v.5h-.5zM185.2 100.3h.5v.5h-.5zM184.0 100.7h.5v.5h-.5zM181.7 103.1h.5v.5h-.5zM188.6 100.7h.5v.5h-.5zM185.3 98.3h.5v.5h-.5zM183.2 101.7h.5v.5h-.5zM185.1 100.7h.5v.5h-.5zM183.3 97.1h.5v.5h-.5zM182.6 102.6h.5v.5h-.5zM182.8 98.5h.5v.5h-.5zM184.8 99.4h.5v.5h-.5zM186.2 99.5h.5v.5h-.5zM187.2 99.3h.5v.5h-.5zM183.9 99.9h.5v.5h-.5zM187.1 99.2h.5v.5h-.5zM181.5 104.2h.5v.5h-.5zM181.6 99.1h.5v.5h-.5zM186.0 100.2h.5v.5h-.5zM185.2 98.5h.5v.5h-.5zM184.7 100.7h.5v.5h-.5zM179.3 99.4h.5v.5h-.5zM184.9 100.7h.5v.5h-.5zM186.4 98.2h.5v.5h-.5zM185.4 99.9h.5v.5h-.5zM188.3 98.0h.5v.5h-.5zM182.7 102.3h.5v.5h-.5zM187.7 103.4h.5v.5h-.5zM185.8 101.1h.5v.5h-.5zM185.4 101.1h.5v.5h-.5zM181.2 96.6h.5v.5h-.5zM181.7 97.9h.5v.5h-.5zM186.3 103.3h.5v.5h-.5zM185.5 100.4h.5v.5h-.5zM185.8 102.1h.5v.5h-.5zM184.0 100.1h.5v.5h-.5zM184.4 100.4h.5v.5h-.5zM185.5 101.2h.5v.5h-.5zM182.4 101.2h.5v.5h-.5zM187.4 100.8h.5v.5h-.5zM182.3 100.3h.5v.5h-.5zM186.1 98.9h.5v.5h-.5zM185.0 98.8h.5v.5h-.5zM186.2 99.2h.5v.5h-.5zM186.1 102.9h.5v.5h-.5zM183.3 98.5h.5v.5h-.5zM184.4 102.8h.5v.5h-.5zM186.2 98.4h.5v.5h-.5zM185.9 101.7h.5v.5h-.5zM186.1 98.0h.5v.5h-.5zM182.9 101.7h.5v.5h-.5zM186.5 99.4h.5v.5h-.5zM186.7 102.3h.5v.5h-.5zM187.0 99.7h.5v.5h-.5zM186.0 98.9h.5v.5h-.5zM185.4 101.0h.5v.5h-.5zM184.1 95.6h.5v.5h-.5z"/>
<path fill="#000" fill-opacity="0.3" filter="url(#b0)" d="M182.8 92.7h.5v.5h-.5zM173.2 97.3h.5v.5h-.5zM175.7 92.9h.5v.5h-.5zM181.4 87.0h.5v.5h-.5zM164.5 91.5h.5v.5h-.5zM175.1 95.6h.5v.5h-.5zM161.1 87.7h.5v.5h-.5zM172.5 105.3h.5v.5h-.5zM180.5 108.6h.5v.5h-.5zM176.1 108.9h.5v.5h-.5zM174.8 94.4h.5v.5h-.5zM182.4 94.2h.5v.5h-.5zM173.6 89.1h.5v.5h-.5zM162.8 109.7h.5v.5h-.5zM186.7 93.1h.5v.5h-.5zM184.0 79.1h.5v.5h-.5zM173.2 99.5h.5v.5h-.5zM173.0 102.0h.5v.5h-.5zM170.2 97.5h.5v.5h-.5zM159.5 102.7h.5v.5h-.5zM171.3 97.2h.5v.5h-.5zM190.8 104.9h.5v.5h-.5zM159.5 93.6h.5v.5h-.5zM176.8 86.4h.5v.5h-.5zM174.9 88.1h.5v.5h-.5zM175.7 105.2h.5v.5h-.5zM175.0 100.5h.5v.5h-.5zM178.3 84.8h.5v.5h-.5zM184.0 100.5h.5v.5h-.5zM161.4 103.1h.5v.5h-.5zM183.7 102.1h.5v.5h-.5zM173.7 107.9h.5v.5h-.5zM167.3 84.7h.5v.5h-.5zM159.4 89.3h.5v.5h-.5zM159.7 88.2h.5v.5h-.5zM175.3 99.2h.5v.5h-.5zM165.9 109.6h.5v.5h-.5zM165.8 93.9h.5v.5h-.5z"/>
<ellipse cx="185.70" cy="98.60" rx="5.80" ry="8.00" transform="rotate(25 185.70 98.60)" fill="none" stroke="#555" stroke-width="0.5"/>
<rect x="167.70" y="79.50" width="24.90" height="5.00" fill="#fff" stroke="#d0d0d0" stroke-width="0.45" rx="1.0"/>
<text x="180.15" y="83.55" font-size="4.5" text-anchor="middle" fill="#111" textLength="22.30" lengthAdjust="spacingAndGlyphs">CLL : 83,91%</text>
<line x1="340.80" y1="21.00" x2="340.80" y2="137.70" stroke="#1a1a1a" stroke-width="1.1" />
<line x1="340.30" y1="137.20" x2="493.00" y2="137.20" stroke="#1a1a1a" stroke-width="1.1" />
<line x1="338.20" y1="137.20" x2="340.80" y2="137.20" stroke="#1a1a1a" stroke-width="0.9" />
<text x="335.50" y="140.10" font-size="8.2" text-anchor="end" fill="#222" textLength="4.65" lengthAdjust="spacingAndGlyphs">0</text>
<line x1="338.20" y1="114.68" x2="340.80" y2="114.68" stroke="#1a1a1a" stroke-width="0.9" />
<text x="335.50" y="117.58" font-size="8.2" text-anchor="end" fill="#222" textLength="9.30" lengthAdjust="spacingAndGlyphs">20</text>
<line x1="338.20" y1="92.16" x2="340.80" y2="92.16" stroke="#1a1a1a" stroke-width="0.9" />
<text x="335.50" y="95.06" font-size="8.2" text-anchor="end" fill="#222" textLength="9.30" lengthAdjust="spacingAndGlyphs">40</text>
<line x1="338.20" y1="69.64" x2="340.80" y2="69.64" stroke="#1a1a1a" stroke-width="0.9" />
<text x="335.50" y="72.54" font-size="8.2" text-anchor="end" fill="#222" textLength="9.30" lengthAdjust="spacingAndGlyphs">60</text>
<line x1="338.20" y1="47.12" x2="340.80" y2="47.12" stroke="#1a1a1a" stroke-width="0.9" />
<text x="335.50" y="50.02" font-size="8.2" text-anchor="end" fill="#222" textLength="9.30" lengthAdjust="spacingAndGlyphs">80</text>
<line x1="338.20" y1="24.60" x2="340.80" y2="24.60" stroke="#1a1a1a" stroke-width="0.9" />
<text x="335.50" y="27.50" font-size="8.2" text-anchor="end" fill="#222" textLength="13.95" lengthAdjust="spacingAndGlyphs">100</text>
<line x1="352.00" y1="137.20" x2="352.00" y2="139.80" stroke="#1a1a1a" stroke-width="0.9" />
<text x="352.00" y="150.60" font-size="8.6" text-anchor="middle" fill="#222">3</text>
<line x1="373.65" y1="137.20" x2="373.65" y2="139.80" stroke="#1a1a1a" stroke-width="0.9" />
<text x="373.65" y="150.60" font-size="8.6" text-anchor="middle" fill="#222">4</text>
<line x1="395.30" y1="137.20" x2="395.30" y2="139.80" stroke="#1a1a1a" stroke-width="0.9" />
<text x="395.30" y="150.60" font-size="8.6" text-anchor="middle" fill="#222">5</text>
<line x1="416.95" y1="137.20" x2="416.95" y2="139.80" stroke="#1a1a1a" stroke-width="0.9" />
<text x="416.95" y="150.60" font-size="8.6" text-anchor="middle" fill="#222">6</text>
<line x1="438.60" y1="137.20" x2="438.60" y2="139.80" stroke="#1a1a1a" stroke-width="0.9" />
<text x="438.60" y="150.60" font-size="8.6" text-anchor="middle" fill="#222">7</text>
<line x1="460.25" y1="137.20" x2="460.25" y2="139.80" stroke="#1a1a1a" stroke-width="0.9" />
<text x="460.25" y="150.60" font-size="8.6" text-anchor="middle" fill="#222">8</text>
<line x1="481.90" y1="137.20" x2="481.90" y2="139.80" stroke="#1a1a1a" stroke-width="0.9" />
<text x="481.90" y="150.60" font-size="8.6" text-anchor="middle" fill="#222">9</text>
<text x="417.40" y="164.40" font-size="10.0" text-anchor="middle" fill="#222" textLength="43.50" lengthAdjust="spacingAndGlyphs">Age [month]</text>
<text x="315.90" y="80.60" font-size="10.0" text-anchor="middle" fill="#222" textLength="36.00" lengthAdjust="spacingAndGlyphs" transform="rotate(-90 315.90 80.60)">% CLL cells</text>
<line x1="344.20" y1="28.50" x2="353.10" y2="28.50" stroke="#a3002b" stroke-width="1.5" />
<rect x="346.10" y="26.20" width="5.20" height="4.60" fill="#a3002b"/>
<text x="356.30" y="31.20" font-size="7.6" text-anchor="start" fill="#222" textLength="57.70" lengthAdjust="spacingAndGlyphs">Tcl-1 tg IRF4 +/+</text>
<line x1="344.20" y1="39.20" x2="353.10" y2="39.20" stroke="#2c4a80" stroke-width="1.5" />
<circle cx="348.70" cy="39.20" r="2.50" fill="#2c4a80"/>
<text x="356.30" y="41.90" font-size="7.6" text-anchor="start" fill="#222" textLength="66.70" lengthAdjust="spacingAndGlyphs">Tcl-1 tg IRF4 &#916;B/&#916;B</text>
<line x1="352.00" y1="126.25" x2="352.00" y2="131.60" stroke="#a3002b" stroke-width="1.1" />
<line x1="349.50" y1="126.25" x2="354.50" y2="126.25" stroke="#a3002b" stroke-width="1.1" />
<line x1="349.50" y1="131.60" x2="354.50" y2="131.60" stroke="#a3002b" stroke-width="1.1" />
<line x1="373.65" y1="114.32" x2="373.65" y2="124.35" stroke="#a3002b" stroke-width="1.1" />
<line x1="371.15" y1="114.32" x2="376.15" y2="114.32" stroke="#a3002b" stroke-width="1.1" />
<line x1="371.15" y1="124.35" x2="376.15" y2="124.35" stroke="#a3002b" stroke-width="1.1" />
<line x1="395.30" y1="121.46" x2="395.30" y2="124.80" stroke="#a3002b" stroke-width="1.1" />
<line x1="392.80" y1="121.46" x2="397.80" y2="121.46" stroke="#a3002b" stroke-width="1.1" />
<line x1="392.80" y1="124.80" x2="397.80" y2="124.80" stroke="#a3002b" stroke-width="1.1" />
<line x1="416.95" y1="90.68" x2="416.95" y2="118.56" stroke="#a3002b" stroke-width="1.1" />
<line x1="414.45" y1="90.68" x2="419.45" y2="90.68" stroke="#a3002b" stroke-width="1.1" />
<line x1="414.45" y1="118.56" x2="419.45" y2="118.56" stroke="#a3002b" stroke-width="1.1" />
<line x1="438.60" y1="75.41" x2="438.60" y2="102.17" stroke="#a3002b" stroke-width="1.1" />
<line x1="436.10" y1="75.41" x2="441.10" y2="75.41" stroke="#a3002b" stroke-width="1.1" />
<line x1="436.10" y1="102.17" x2="441.10" y2="102.17" stroke="#a3002b" stroke-width="1.1" />
<line x1="460.25" y1="87.23" x2="460.25" y2="107.30" stroke="#a3002b" stroke-width="1.1" />
<line x1="457.75" y1="87.23" x2="462.75" y2="87.23" stroke="#a3002b" stroke-width="1.1" />
<line x1="457.75" y1="107.30" x2="462.75" y2="107.30" stroke="#a3002b" stroke-width="1.1" />
<line x1="481.90" y1="73.84" x2="481.90" y2="117.00" stroke="#a3002b" stroke-width="1.1" />
<line x1="479.40" y1="73.84" x2="484.40" y2="73.84" stroke="#a3002b" stroke-width="1.1" />
<line x1="479.40" y1="117.00" x2="484.40" y2="117.00" stroke="#a3002b" stroke-width="1.1" />
<line x1="352.00" y1="120.34" x2="352.00" y2="130.71" stroke="#2c4a80" stroke-width="1.1" />
<line x1="349.50" y1="120.34" x2="354.50" y2="120.34" stroke="#2c4a80" stroke-width="1.1" />
<line x1="349.50" y1="130.71" x2="354.50" y2="130.71" stroke="#2c4a80" stroke-width="1.1" />
<line x1="373.65" y1="98.49" x2="373.65" y2="122.35" stroke="#2c4a80" stroke-width="1.1" />
<line x1="371.15" y1="98.49" x2="376.15" y2="98.49" stroke="#2c4a80" stroke-width="1.1" />
<line x1="371.15" y1="122.35" x2="376.15" y2="122.35" stroke="#2c4a80" stroke-width="1.1" />
<line x1="395.30" y1="81.98" x2="395.30" y2="120.34" stroke="#2c4a80" stroke-width="1.1" />
<line x1="392.80" y1="81.98" x2="397.80" y2="81.98" stroke="#2c4a80" stroke-width="1.1" />
<line x1="392.80" y1="120.34" x2="397.80" y2="120.34" stroke="#2c4a80" stroke-width="1.1" />
<line x1="416.95" y1="76.19" x2="416.95" y2="102.28" stroke="#2c4a80" stroke-width="1.1" />
<line x1="414.45" y1="76.19" x2="419.45" y2="76.19" stroke="#2c4a80" stroke-width="1.1" />
<line x1="414.45" y1="102.28" x2="419.45" y2="102.28" stroke="#2c4a80" stroke-width="1.1" />
<line x1="438.60" y1="56.34" x2="438.60" y2="84.33" stroke="#2c4a80" stroke-width="1.1" />
<line x1="436.10" y1="56.34" x2="441.10" y2="56.34" stroke="#2c4a80" stroke-width="1.1" />
<line x1="436.10" y1="84.33" x2="441.10" y2="84.33" stroke="#2c4a80" stroke-width="1.1" />
<polyline fill="none" stroke="#a3002b" stroke-width="1.6" points="352.00,128.93 373.65,117.66 395.30,123.13 416.95,104.62 438.60,88.67 460.25,97.26 481.90,95.59"/>
<polyline fill="none" stroke="#2c4a80" stroke-width="1.6" points="352.00,126.25 373.65,110.75 395.30,101.16 416.95,89.46 438.60,70.28 460.25,60.58 481.90,61.91"/>
<rect x="349.60" y="126.53" width="4.80" height="4.80" fill="#a3002b"/>
<rect x="371.25" y="115.26" width="4.80" height="4.80" fill="#a3002b"/>
<rect x="392.90" y="120.73" width="4.80" height="4.80" fill="#a3002b"/>
<rect x="414.55" y="102.22" width="4.80" height="4.80" fill="#a3002b"/>
<rect x="436.20" y="86.27" width="4.80" height="4.80" fill="#a3002b"/>
<rect x="457.85" y="94.86" width="4.80" height="4.80" fill="#a3002b"/>
<rect x="479.50" y="93.19" width="4.80" height="4.80" fill="#a3002b"/>
<circle cx="352.00" cy="126.25" r="2.40" fill="#2c4a80"/>
<circle cx="373.65" cy="110.75" r="2.40" fill="#2c4a80"/>
<circle cx="395.30" cy="101.16" r="2.40" fill="#2c4a80"/>
<circle cx="416.95" cy="89.46" r="2.40" fill="#2c4a80"/>
<circle cx="438.60" cy="70.28" r="2.40" fill="#2c4a80"/>
<circle cx="460.25" cy="60.58" r="2.40" fill="#2c4a80"/>
<circle cx="481.90" cy="61.91" r="2.40" fill="#2c4a80"/>
<line x1="432.50" y1="56.00" x2="421.30" y2="73.40" stroke="#000" stroke-width="1.1" />
<path d="M420.98,73.90 L422.28,66.89 L426.82,69.82 Z" fill="#000"/>
<line x1="453.30" y1="46.00" x2="441.00" y2="63.80" stroke="#000" stroke-width="1.1" />
<path d="M440.66,64.29 L442.19,57.33 L446.63,60.40 Z" fill="#000"/>
<line x1="52.70" y1="199.50" x2="52.70" y2="314.80" stroke="#1a1a1a" stroke-width="1.1" />
<line x1="52.20" y1="314.30" x2="196.00" y2="314.30" stroke="#1a1a1a" stroke-width="1.1" />
<line x1="49.50" y1="314.30" x2="52.70" y2="314.30" stroke="#1a1a1a" stroke-width="0.9" />
<text x="46.40" y="317.20" font-size="8.2" text-anchor="end" fill="#222" textLength="4.65" lengthAdjust="spacingAndGlyphs">0</text>
<line x1="49.50" y1="291.81" x2="52.70" y2="291.81" stroke="#1a1a1a" stroke-width="0.9" />
<text x="46.40" y="294.71" font-size="8.2" text-anchor="end" fill="#222" textLength="9.30" lengthAdjust="spacingAndGlyphs">20</text>
<line x1="49.50" y1="269.32" x2="52.70" y2="269.32" stroke="#1a1a1a" stroke-width="0.9" />
<text x="46.40" y="272.22" font-size="8.2" text-anchor="end" fill="#222" textLength="9.30" lengthAdjust="spacingAndGlyphs">40</text>
<line x1="49.50" y1="246.83" x2="52.70" y2="246.83" stroke="#1a1a1a" stroke-width="0.9" />
<text x="46.40" y="249.73" font-size="8.2" text-anchor="end" fill="#222" textLength="9.30" lengthAdjust="spacingAndGlyphs">60</text>
<line x1="49.50" y1="224.34" x2="52.70" y2="224.34" stroke="#1a1a1a" stroke-width="0.9" />
<text x="46.40" y="227.24" font-size="8.2" text-anchor="end" fill="#222" textLength="9.30" lengthAdjust="spacingAndGlyphs">80</text>
<line x1="49.50" y1="201.85" x2="52.70" y2="201.85" stroke="#1a1a1a" stroke-width="0.9" />
<text x="46.40" y="204.75" font-size="8.2" text-anchor="end" fill="#222" textLength="13.95" lengthAdjust="spacingAndGlyphs">100</text>
<line x1="52.70" y1="314.30" x2="52.70" y2="317.50" stroke="#1a1a1a" stroke-width="0.9" />
<text x="52.70" y="327.50" font-size="8.2" text-anchor="middle" fill="#222" textLength="4.60" lengthAdjust="spacingAndGlyphs">0</text>
<line x1="86.50" y1="314.30" x2="86.50" y2="317.50" stroke="#1a1a1a" stroke-width="0.9" />
<text x="86.50" y="327.50" font-size="8.2" text-anchor="middle" fill="#222" textLength="13.80" lengthAdjust="spacingAndGlyphs">100</text>
<line x1="120.30" y1="314.30" x2="120.30" y2="317.50" stroke="#1a1a1a" stroke-width="0.9" />
<text x="120.30" y="327.50" font-size="8.2" text-anchor="middle" fill="#222" textLength="13.80" lengthAdjust="spacingAndGlyphs">200</text>
<line x1="154.10" y1="314.30" x2="154.10" y2="317.50" stroke="#1a1a1a" stroke-width="0.9" />
<text x="154.10" y="327.50" font-size="8.2" text-anchor="middle" fill="#222" textLength="13.80" lengthAdjust="spacingAndGlyphs">300</text>
<line x1="187.90" y1="314.30" x2="187.90" y2="317.50" stroke="#1a1a1a" stroke-width="0.9" />
<text x="187.90" y="327.50" font-size="8.2" text-anchor="middle" fill="#222" textLength="13.80" lengthAdjust="spacingAndGlyphs">400</text>
<text x="127.20" y="341.30" font-size="10.0" text-anchor="middle" fill="#222" textLength="31.90" lengthAdjust="spacingAndGlyphs">OS [days]</text>
<text x="26.80" y="256.00" font-size="9.8" text-anchor="middle" fill="#222" textLength="58.60" lengthAdjust="spacingAndGlyphs" transform="rotate(-90 26.80 256.00)">% overall survival</text>
<path d="M52.70,201.85 H103.80 V204.00 H105.00 V206.00 H106.50 V208.20 H108.70 V210.20 H111.00 V211.60 H114.40 V214.00 H115.30 V217.50 H116.30 V221.70 H119.20 V223.70 H120.50 V228.00 H121.80 V232.00 H123.00 V236.00 H124.00 V240.00 H125.20 V244.00 H126.90 V249.00 H128.50 V253.50 H129.80 V257.70 H130.40 V261.50 H130.80 V265.40 H131.70 V271.20 H133.70 V277.90 H139.40 V281.70 H141.30 V283.70 H142.30 V286.50 H144.20 V295.20 H150.00 V299.00 H152.90 V301.90 H167.30 V306.70 H172.10 V311.20 H188.50 V314.30" fill="none" stroke="#2c4a80" stroke-width="1.3"/>
<path d="M103.80,201.10 L105.70,204.52 L101.90,204.52 Z" fill="#2c4a80"/>
<path d="M105.00,203.30 L106.90,206.72 L103.10,206.72 Z" fill="#2c4a80"/>
<path d="M107.80,207.10 L109.70,210.52 L105.90,210.52 Z" fill="#2c4a80"/>
<path d="M111.00,209.40 L112.90,212.82 L109.10,212.82 Z" fill="#2c4a80"/>
<path d="M114.40,211.10 L116.30,214.52 L112.50,214.52 Z" fill="#2c4a80"/>
<path d="M115.30,214.60 L117.20,218.02 L113.40,218.02 Z" fill="#2c4a80"/>
<path d="M116.30,218.10 L118.20,221.52 L114.40,221.52 Z" fill="#2c4a80"/>
<path d="M119.20,221.10 L121.10,224.52 L117.30,224.52 Z" fill="#2c4a80"/>
<path d="M120.50,225.10 L122.40,228.52 L118.60,228.52 Z" fill="#2c4a80"/>
<path d="M121.80,229.10 L123.70,232.52 L119.90,232.52 Z" fill="#2c4a80"/>
<path d="M123.00,233.10 L124.90,236.52 L121.10,236.52 Z" fill="#2c4a80"/>
<path d="M124.00,237.10 L125.90,240.52 L122.10,240.52 Z" fill="#2c4a80"/>
<path d="M125.20,241.10 L127.10,244.52 L123.30,244.52 Z" fill="#2c4a80"/>
<path d="M126.90,246.10 L128.80,249.52 L125.00,249.52 Z" fill="#2c4a80"/>
<path d="M128.50,250.60 L130.40,254.02 L126.60,254.02 Z" fill="#2c4a80"/>
<path d="M129.80,254.80 L131.70,258.22 L127.90,258.22 Z" fill="#2c4a80"/>
<path d="M130.40,258.60 L132.30,262.02 L128.50,262.02 Z" fill="#2c4a80"/>
<path d="M130.80,262.60 L132.70,266.02 L128.90,266.02 Z" fill="#2c4a80"/>
<path d="M131.50,267.10 L133.40,270.52 L129.60,270.52 Z" fill="#2c4a80"/>
<path d="M133.00,273.10 L134.90,276.52 L131.10,276.52 Z" fill="#2c4a80"/>
<path d="M139.40,279.10 L141.30,282.52 L137.50,282.52 Z" fill="#2c4a80"/>
<path d="M141.30,281.10 L143.20,284.52 L139.40,284.52 Z" fill="#2c4a80"/>
<path d="M142.60,286.60 L144.50,290.02 L140.70,290.02 Z" fill="#2c4a80"/>
<path d="M144.20,291.10 L146.10,294.52 L142.30,294.52 Z" fill="#2c4a80"/>
<path d="M150.00,296.10 L151.90,299.52 L148.10,299.52 Z" fill="#2c4a80"/>
<path d="M166.30,300.00 L168.20,303.42 L164.40,303.42 Z" fill="#2c4a80"/>
<path d="M171.20,304.80 L173.10,308.22 L169.30,308.22 Z" fill="#2c4a80"/>
<path d="M188.50,311.70 L190.40,315.12 L186.60,315.12 Z" fill="#2c4a80"/>
<path d="M52.70,201.85 H125.00 V204.40 H141.30 V206.20 H142.30 V208.00 H143.20 V210.00 H144.00 V212.00 H144.80 V214.20 H145.60 V216.60 H146.40 V218.80 H147.10 V220.80 H152.90 V223.00 H154.40 V225.30 H156.20 V227.80 H159.60 V230.40 H160.00 V233.00 H160.40 V236.00 H160.80 V239.00 H161.20 V241.90 H163.50 V245.80 H167.30 V247.60 H168.30 V250.00 H169.20 V252.60 H170.50 V255.40 H176.90 V259.60 H178.80 V263.20 H179.60 V267.30 H182.70 V268.40 H184.60 V272.10 H187.50 V275.00 H188.50 V285.60 H188.60 V293.30 H190.40 V307.30 H195.4" fill="none" stroke="#a3002b" stroke-width="1.3"/>
<circle cx="125.00" cy="204.40" r="1.65" fill="#a3002b"/>
<circle cx="142.20" cy="207.00" r="1.65" fill="#a3002b"/>
<circle cx="143.80" cy="211.00" r="1.65" fill="#a3002b"/>
<circle cx="145.30" cy="215.30" r="1.65" fill="#a3002b"/>
<circle cx="146.80" cy="219.50" r="1.65" fill="#a3002b"/>
<circle cx="153.60" cy="223.00" r="1.65" fill="#a3002b"/>
<circle cx="155.30" cy="225.30" r="1.65" fill="#a3002b"/>
<circle cx="157.50" cy="227.80" r="1.65" fill="#a3002b"/>
<circle cx="160.20" cy="234.50" r="1.65" fill="#a3002b"/>
<circle cx="160.80" cy="238.00" r="1.65" fill="#a3002b"/>
<circle cx="161.50" cy="241.90" r="1.65" fill="#a3002b"/>
<circle cx="164.50" cy="245.80" r="1.65" fill="#a3002b"/>
<circle cx="168.00" cy="249.50" r="1.65" fill="#a3002b"/>
<circle cx="169.00" cy="252.00" r="1.65" fill="#a3002b"/>
<circle cx="171.80" cy="255.40" r="1.65" fill="#a3002b"/>
<circle cx="174.00" cy="255.40" r="1.65" fill="#a3002b"/>
<circle cx="177.50" cy="259.60" r="1.65" fill="#a3002b"/>
<circle cx="179.20" cy="266.00" r="1.65" fill="#a3002b"/>
<circle cx="181.00" cy="267.30" r="1.65" fill="#a3002b"/>
<circle cx="183.60" cy="268.40" r="1.65" fill="#a3002b"/>
<circle cx="185.80" cy="272.10" r="1.65" fill="#a3002b"/>
<circle cx="188.50" cy="279.00" r="1.65" fill="#a3002b"/>
<circle cx="188.50" cy="290.00" r="1.65" fill="#a3002b"/>
<circle cx="191.60" cy="307.30" r="1.65" fill="#a3002b"/>
<circle cx="195.20" cy="307.30" r="1.65" fill="#a3002b"/>
<text x="68.10" y="287.00" font-size="7.8" text-anchor="start" fill="#222" textLength="36.20" lengthAdjust="spacingAndGlyphs">P &lt; 0.0001</text>
<line x1="55.40" y1="295.80" x2="64.60" y2="295.80" stroke="#a3002b" stroke-width="1.3" />
<circle cx="59.80" cy="295.80" r="1.60" fill="#a3002b"/>
<text x="68.10" y="298.50" font-size="7.6" text-anchor="start" fill="#222" textLength="56.50" lengthAdjust="spacingAndGlyphs">Tcl-1 tg IRF4 +/+</text>
<line x1="55.40" y1="307.30" x2="64.60" y2="307.30" stroke="#2c4a80" stroke-width="1.3" />
<path d="M59.80,305.50 L61.60,308.74 L58.00,308.74 Z" fill="#2c4a80"/>
<text x="68.10" y="310.00" font-size="7.6" text-anchor="start" fill="#222" textLength="65.80" lengthAdjust="spacingAndGlyphs">Tcl-1 tg IRF4 &#916;B/&#916;B</text>
<line x1="238.50" y1="197.50" x2="238.50" y2="251.30" stroke="#333" stroke-width="1.0" />
<line x1="238.50" y1="260.00" x2="238.50" y2="313.80" stroke="#333" stroke-width="1.0" />
<text x="234.30" y="223.80" font-size="9.3" text-anchor="middle" fill="#222" textLength="57.90" lengthAdjust="spacingAndGlyphs" transform="rotate(-90 234.30 223.80)">spleenweight [g]</text>
<text x="234.30" y="287.30" font-size="9.3" text-anchor="middle" fill="#222" textLength="54.60" lengthAdjust="spacingAndGlyphs" transform="rotate(-90 234.30 287.30)">spleensize [cm]</text>
<text x="241.70" y="209.90" font-size="8.8" text-anchor="start" fill="#222" textLength="31.50" lengthAdjust="spacingAndGlyphs">IRF4 +/+</text>
<text x="329.20" y="209.90" font-size="8.8" text-anchor="end" fill="#222" textLength="4.40" lengthAdjust="spacingAndGlyphs">9</text>
<rect x="335.10" y="201.60" width="3.80" height="10.40" fill="#6aaa42"/>
<line x1="338.90" y1="206.80" x2="339.80" y2="206.80" stroke="#6aaa42" stroke-width="0.9" />
<line x1="339.80" y1="204.40" x2="339.80" y2="209.20" stroke="#6aaa42" stroke-width="0.9" />
<text x="241.70" y="223.10" font-size="8.8" text-anchor="start" fill="#222" textLength="40.00" lengthAdjust="spacingAndGlyphs">IRF4 &#916;B/&#916;B</text>
<text x="329.20" y="223.10" font-size="8.8" text-anchor="end" fill="#222" textLength="8.80" lengthAdjust="spacingAndGlyphs">12</text>
<rect x="335.10" y="214.40" width="6.40" height="11.20" fill="#6aaa42"/>
<line x1="341.50" y1="220.00" x2="343.40" y2="220.00" stroke="#6aaa42" stroke-width="0.9" />
<line x1="343.40" y1="217.60" x2="343.40" y2="222.40" stroke="#6aaa42" stroke-width="0.9" />
<text x="241.70" y="236.30" font-size="8.8" text-anchor="start" fill="#222" textLength="61.50" lengthAdjust="spacingAndGlyphs">Tcl-1 tg IRF4 +/+</text>
<text x="329.20" y="236.30" font-size="8.8" text-anchor="end" fill="#222" textLength="8.80" lengthAdjust="spacingAndGlyphs">21</text>
<rect x="335.10" y="227.60" width="34.90" height="11.20" fill="#a3002b"/>
<line x1="370.00" y1="233.20" x2="377.60" y2="233.20" stroke="#a3002b" stroke-width="0.9" />
<line x1="377.60" y1="230.80" x2="377.60" y2="235.60" stroke="#a3002b" stroke-width="0.9" />
<text x="241.70" y="249.00" font-size="8.8" text-anchor="start" fill="#222" textLength="70.80" lengthAdjust="spacingAndGlyphs">Tcl-1 tg IRF4 &#916;B/&#916;B</text>
<text x="329.20" y="249.00" font-size="8.8" text-anchor="end" fill="#222" textLength="8.80" lengthAdjust="spacingAndGlyphs">24</text>
<rect x="335.10" y="240.30" width="20.90" height="11.20" fill="#2c4a80"/>
<line x1="356.00" y1="245.90" x2="359.80" y2="245.90" stroke="#111" stroke-width="0.9" />
<line x1="359.80" y1="243.50" x2="359.80" y2="248.30" stroke="#111" stroke-width="0.9" />
<text x="241.70" y="268.80" font-size="8.8" text-anchor="start" fill="#222" textLength="31.50" lengthAdjust="spacingAndGlyphs">IRF4 +/+</text>
<text x="329.20" y="268.80" font-size="8.8" text-anchor="end" fill="#222" textLength="4.40" lengthAdjust="spacingAndGlyphs">7</text>
<rect x="335.10" y="260.20" width="53.50" height="11.00" fill="#6aaa42"/>
<line x1="388.60" y1="265.70" x2="390.40" y2="265.70" stroke="#6aaa42" stroke-width="0.9" />
<line x1="390.40" y1="263.30" x2="390.40" y2="268.10" stroke="#6aaa42" stroke-width="0.9" />
<text x="241.70" y="281.60" font-size="8.8" text-anchor="start" fill="#222" textLength="40.00" lengthAdjust="spacingAndGlyphs">IRF4 &#916;B/&#916;B</text>
<text x="329.20" y="281.60" font-size="8.8" text-anchor="end" fill="#222" textLength="8.80" lengthAdjust="spacingAndGlyphs">11</text>
<rect x="335.10" y="272.90" width="60.60" height="11.20" fill="#6aaa42"/>
<line x1="395.70" y1="278.50" x2="400.60" y2="278.50" stroke="#6aaa42" stroke-width="0.9" />
<line x1="400.60" y1="276.10" x2="400.60" y2="280.90" stroke="#6aaa42" stroke-width="0.9" />
<text x="241.70" y="294.70" font-size="8.8" text-anchor="start" fill="#222" textLength="61.50" lengthAdjust="spacingAndGlyphs">Tcl-1 tg IRF4 +/+</text>
<text x="329.20" y="294.70" font-size="8.8" text-anchor="end" fill="#222" textLength="8.80" lengthAdjust="spacingAndGlyphs">21</text>
<rect x="335.10" y="285.90" width="98.10" height="11.40" fill="#a3002b"/>
<line x1="433.20" y1="291.60" x2="439.00" y2="291.60" stroke="#a3002b" stroke-width="0.9" />
<line x1="439.00" y1="289.20" x2="439.00" y2="294.00" stroke="#a3002b" stroke-width="0.9" />
<text x="241.70" y="307.50" font-size="8.8" text-anchor="start" fill="#222" textLength="70.80" lengthAdjust="spacingAndGlyphs">Tcl-1 tg IRF4 &#916;B/&#916;B</text>
<text x="329.20" y="307.50" font-size="8.8" text-anchor="end" fill="#222" textLength="8.80" lengthAdjust="spacingAndGlyphs">23</text>
<rect x="335.10" y="298.90" width="84.60" height="11.00" fill="#2c4a80"/>
<line x1="419.70" y1="304.40" x2="424.30" y2="304.40" stroke="#111" stroke-width="0.9" />
<line x1="424.30" y1="302.00" x2="424.30" y2="306.80" stroke="#111" stroke-width="0.9" />
<line x1="335.10" y1="197.60" x2="335.10" y2="314.60" stroke="#1a1a1a" stroke-width="1.1" />
<line x1="334.60" y1="314.30" x2="452.00" y2="314.30" stroke="#1a1a1a" stroke-width="1.1" />
<line x1="332.70" y1="227.00" x2="335.10" y2="227.00" stroke="#1a1a1a" stroke-width="0.9" />
<line x1="332.70" y1="285.50" x2="335.10" y2="285.50" stroke="#1a1a1a" stroke-width="0.9" />
<line x1="335.10" y1="314.30" x2="335.10" y2="316.90" stroke="#1a1a1a" stroke-width="0.9" />
<text x="335.10" y="327.40" font-size="8.6" text-anchor="middle" fill="#222">0</text>
<line x1="372.85" y1="314.30" x2="372.85" y2="316.90" stroke="#1a1a1a" stroke-width="0.9" />
<text x="372.85" y="327.40" font-size="8.6" text-anchor="middle" fill="#222">1</text>
<line x1="410.60" y1="314.30" x2="410.60" y2="316.90" stroke="#1a1a1a" stroke-width="0.9" />
<text x="410.60" y="327.40" font-size="8.6" text-anchor="middle" fill="#222">2</text>
<line x1="448.35" y1="314.30" x2="448.35" y2="316.90" stroke="#1a1a1a" stroke-width="0.9" />
<text x="448.35" y="327.40" font-size="8.6" text-anchor="middle" fill="#222">3</text>
<text x="391.70" y="340.60" font-size="9.4" text-anchor="middle" fill="#222" textLength="37.60" lengthAdjust="spacingAndGlyphs">[cm] or [g]</text>
<line x1="388.20" y1="230.90" x2="388.20" y2="247.70" stroke="#333" stroke-width="1.2" />
<text x="398.00" y="239.30" font-size="7.9" text-anchor="middle" fill="#222" textLength="28.00" lengthAdjust="spacingAndGlyphs" transform="rotate(-90 398.00 239.30)">P = 0.08</text>
<line x1="449.70" y1="290.10" x2="449.70" y2="306.60" stroke="#333" stroke-width="1.2" />
<text x="444.80" y="303.90" font-size="10.0" text-anchor="middle" fill="#222" stroke="#222" stroke-width="0.2">*</text>
<text x="458.90" y="298.30" font-size="7.9" text-anchor="middle" fill="#222" textLength="28.60" lengthAdjust="spacingAndGlyphs" transform="rotate(-90 458.90 298.30)">P = 0.03</text>
<line x1="52.30" y1="381.00" x2="52.30" y2="485.30" stroke="#1a1a1a" stroke-width="1.1" />
<line x1="51.80" y1="484.80" x2="268.00" y2="484.80" stroke="#1a1a1a" stroke-width="1.1" />
<line x1="49.30" y1="484.80" x2="52.30" y2="484.80" stroke="#1a1a1a" stroke-width="0.9" />
<text x="46.90" y="487.70" font-size="8.2" text-anchor="end" fill="#222" textLength="4.70" lengthAdjust="spacingAndGlyphs">0</text>
<line x1="49.30" y1="464.54" x2="52.30" y2="464.54" stroke="#1a1a1a" stroke-width="0.9" />
<text x="46.90" y="467.44" font-size="8.2" text-anchor="end" fill="#222" textLength="9.40" lengthAdjust="spacingAndGlyphs">20</text>
<line x1="49.30" y1="444.28" x2="52.30" y2="444.28" stroke="#1a1a1a" stroke-width="0.9" />
<text x="46.90" y="447.18" font-size="8.2" text-anchor="end" fill="#222" textLength="9.40" lengthAdjust="spacingAndGlyphs">40</text>
<line x1="49.30" y1="424.02" x2="52.30" y2="424.02" stroke="#1a1a1a" stroke-width="0.9" />
<text x="46.90" y="426.92" font-size="8.2" text-anchor="end" fill="#222" textLength="9.40" lengthAdjust="spacingAndGlyphs">60</text>
<line x1="49.30" y1="403.76" x2="52.30" y2="403.76" stroke="#1a1a1a" stroke-width="0.9" />
<text x="46.90" y="406.66" font-size="8.2" text-anchor="end" fill="#222" textLength="9.40" lengthAdjust="spacingAndGlyphs">80</text>
<line x1="49.30" y1="383.50" x2="52.30" y2="383.50" stroke="#1a1a1a" stroke-width="0.9" />
<text x="46.90" y="386.40" font-size="8.2" text-anchor="end" fill="#222" textLength="14.10" lengthAdjust="spacingAndGlyphs">100</text>
<line x1="95.00" y1="383.50" x2="95.00" y2="484.80" stroke="#4a4a4a" stroke-width="1.2" />
<line x1="138.30" y1="383.50" x2="138.30" y2="484.80" stroke="#4a4a4a" stroke-width="1.2" />
<line x1="181.90" y1="383.50" x2="181.90" y2="484.80" stroke="#4a4a4a" stroke-width="1.2" />
<line x1="224.20" y1="383.50" x2="224.20" y2="484.80" stroke="#4a4a4a" stroke-width="1.2" />
<text x="26.30" y="434.70" font-size="9.2" text-anchor="middle" fill="#222" textLength="55.00" lengthAdjust="spacingAndGlyphs" transform="rotate(-90 26.30 434.70)">% CD19+ CD5+</text>
<text x="74.00" y="379.70" font-size="8.4" text-anchor="middle" fill="#222" textLength="10.70" lengthAdjust="spacingAndGlyphs">PC</text>
<text x="116.10" y="379.70" font-size="8.4" text-anchor="middle" fill="#222" textLength="22.10" lengthAdjust="spacingAndGlyphs">Blood</text>
<text x="160.10" y="379.70" font-size="8.4" text-anchor="middle" fill="#222" textLength="25.30" lengthAdjust="spacingAndGlyphs">Spleen</text>
<text x="203.30" y="379.70" font-size="8.4" text-anchor="middle" fill="#222" textLength="12.40" lengthAdjust="spacingAndGlyphs">BM</text>
<text x="245.70" y="379.70" font-size="8.4" text-anchor="middle" fill="#222" textLength="14.80" lengthAdjust="spacingAndGlyphs">LNp</text>
<line x1="62.90" y1="484.80" x2="62.90" y2="487.20" stroke="#1a1a1a" stroke-width="0.9" />
<text x="62.90" y="497.60" font-size="8.4" text-anchor="middle" fill="#222">+</text>
<text x="62.90" y="509.20" font-size="8.6" text-anchor="middle" fill="#222" textLength="11.60" lengthAdjust="spacingAndGlyphs">+/+</text>
<text x="62.90" y="520.80" font-size="8.6" text-anchor="middle" fill="#222" textLength="8.80" lengthAdjust="spacingAndGlyphs">22</text>
<line x1="84.30" y1="484.80" x2="84.30" y2="487.20" stroke="#1a1a1a" stroke-width="0.9" />
<text x="84.30" y="497.60" font-size="8.4" text-anchor="middle" fill="#222">+</text>
<text x="84.30" y="509.20" font-size="8.6" text-anchor="middle" fill="#222" textLength="22.40" lengthAdjust="spacingAndGlyphs">&#916;B/&#916;B</text>
<text x="84.30" y="520.80" font-size="8.6" text-anchor="middle" fill="#222" textLength="8.80" lengthAdjust="spacingAndGlyphs">24</text>
<line x1="105.90" y1="484.80" x2="105.90" y2="487.20" stroke="#1a1a1a" stroke-width="0.9" />
<text x="105.90" y="497.60" font-size="8.4" text-anchor="middle" fill="#222">+</text>
<text x="105.90" y="509.20" font-size="8.6" text-anchor="middle" fill="#222" textLength="11.60" lengthAdjust="spacingAndGlyphs">+/+</text>
<text x="105.90" y="520.80" font-size="8.6" text-anchor="middle" fill="#222" textLength="8.80" lengthAdjust="spacingAndGlyphs">24</text>
<line x1="127.40" y1="484.80" x2="127.40" y2="487.20" stroke="#1a1a1a" stroke-width="0.9" />
<text x="127.40" y="497.60" font-size="8.4" text-anchor="middle" fill="#222">+</text>
<text x="127.40" y="509.20" font-size="8.6" text-anchor="middle" fill="#222" textLength="22.40" lengthAdjust="spacingAndGlyphs">&#916;B/&#916;B</text>
<text x="127.40" y="520.80" font-size="8.6" text-anchor="middle" fill="#222" textLength="8.80" lengthAdjust="spacingAndGlyphs">25</text>
<line x1="149.00" y1="484.80" x2="149.00" y2="487.20" stroke="#1a1a1a" stroke-width="0.9" />
<text x="149.00" y="497.60" font-size="8.4" text-anchor="middle" fill="#222">+</text>
<text x="149.00" y="509.20" font-size="8.6" text-anchor="middle" fill="#222" textLength="11.60" lengthAdjust="spacingAndGlyphs">+/+</text>
<text x="149.00" y="520.80" font-size="8.6" text-anchor="middle" fill="#222" textLength="8.80" lengthAdjust="spacingAndGlyphs">24</text>
<line x1="170.50" y1="484.80" x2="170.50" y2="487.20" stroke="#1a1a1a" stroke-width="0.9" />
<text x="170.50" y="497.60" font-size="8.4" text-anchor="middle" fill="#222">+</text>
<text x="170.50" y="509.20" font-size="8.6" text-anchor="middle" fill="#222" textLength="22.40" lengthAdjust="spacingAndGlyphs">&#916;B/&#916;B</text>
<text x="170.50" y="520.80" font-size="8.6" text-anchor="middle" fill="#222" textLength="8.80" lengthAdjust="spacingAndGlyphs">24</text>
<line x1="191.70" y1="484.80" x2="191.70" y2="487.20" stroke="#1a1a1a" stroke-width="0.9" />
<text x="191.70" y="497.60" font-size="8.4" text-anchor="middle" fill="#222">+</text>
<text x="191.70" y="509.20" font-size="8.6" text-anchor="middle" fill="#222" textLength="11.60" lengthAdjust="spacingAndGlyphs">+/+</text>
<text x="191.70" y="520.80" font-size="8.6" text-anchor="middle" fill="#222" textLength="8.80" lengthAdjust="spacingAndGlyphs">22</text>
<line x1="213.30" y1="484.80" x2="213.30" y2="487.20" stroke="#1a1a1a" stroke-width="0.9" />
<text x="213.30" y="497.60" font-size="8.4" text-anchor="middle" fill="#222">+</text>
<text x="213.30" y="509.20" font-size="8.6" text-anchor="middle" fill="#222" textLength="22.40" lengthAdjust="spacingAndGlyphs">&#916;B/&#916;B</text>
<text x="213.30" y="520.80" font-size="8.6" text-anchor="middle" fill="#222" textLength="8.80" lengthAdjust="spacingAndGlyphs">24</text>
<line x1="234.90" y1="484.80" x2="234.90" y2="487.20" stroke="#1a1a1a" stroke-width="0.9" />
<text x="234.90" y="497.60" font-size="8.4" text-anchor="middle" fill="#222">+</text>
<text x="234.90" y="509.20" font-size="8.6" text-anchor="middle" fill="#222" textLength="11.60" lengthAdjust="spacingAndGlyphs">+/+</text>
<text x="234.90" y="520.80" font-size="8.6" text-anchor="middle" fill="#222" textLength="8.80" lengthAdjust="spacingAndGlyphs">24</text>
<line x1="256.50" y1="484.80" x2="256.50" y2="487.20" stroke="#1a1a1a" stroke-width="0.9" />
<text x="256.50" y="497.60" font-size="8.4" text-anchor="middle" fill="#222">+</text>
<text x="256.50" y="509.20" font-size="8.6" text-anchor="middle" fill="#222" textLength="22.40" lengthAdjust="spacingAndGlyphs">&#916;B/&#916;B</text>
<text x="256.50" y="520.80" font-size="8.6" text-anchor="middle" fill="#222" textLength="8.80" lengthAdjust="spacingAndGlyphs">25</text>
<text x="20.20" y="497.20" font-size="8.6" text-anchor="start" fill="#222" textLength="27.50" lengthAdjust="spacingAndGlyphs">Tcl-1 tg</text>
<text x="20.20" y="509.20" font-size="8.6" text-anchor="start" fill="#222" textLength="16.50" lengthAdjust="spacingAndGlyphs">IRF4</text>
<text x="20.20" y="520.80" font-size="8.6" text-anchor="start" fill="#222" textLength="13.50" lengthAdjust="spacingAndGlyphs">N =</text>
<circle cx="60.50" cy="389.70" r="1.65" fill="#a3002b"/>
<circle cx="65.50" cy="388.70" r="1.65" fill="#a3002b"/>
<circle cx="67.80" cy="392.00" r="1.65" fill="#a3002b"/>
<circle cx="58.00" cy="393.50" r="1.65" fill="#a3002b"/>
<circle cx="60.30" cy="394.80" r="1.65" fill="#a3002b"/>
<circle cx="62.80" cy="396.20" r="1.65" fill="#a3002b"/>
<circle cx="65.30" cy="394.50" r="1.65" fill="#a3002b"/>
<circle cx="58.20" cy="409.00" r="1.65" fill="#a3002b"/>
<circle cx="62.80" cy="411.00" r="1.65" fill="#a3002b"/>
<circle cx="67.50" cy="412.00" r="1.65" fill="#a3002b"/>
<circle cx="70.00" cy="409.80" r="1.65" fill="#a3002b"/>
<circle cx="58.20" cy="414.00" r="1.65" fill="#a3002b"/>
<circle cx="62.80" cy="417.50" r="1.65" fill="#a3002b"/>
<circle cx="60.50" cy="422.50" r="1.65" fill="#a3002b"/>
<circle cx="65.30" cy="422.00" r="1.65" fill="#a3002b"/>
<circle cx="62.90" cy="436.30" r="1.65" fill="#a3002b"/>
<circle cx="65.30" cy="443.40" r="1.65" fill="#a3002b"/>
<circle cx="60.20" cy="448.60" r="1.65" fill="#a3002b"/>
<circle cx="60.20" cy="465.80" r="1.65" fill="#a3002b"/>
<circle cx="65.30" cy="465.80" r="1.65" fill="#a3002b"/>
<circle cx="65.30" cy="474.80" r="1.65" fill="#a3002b"/>
<circle cx="60.20" cy="478.90" r="1.65" fill="#a3002b"/>
<circle cx="105.80" cy="392.20" r="1.65" fill="#a3002b"/>
<circle cx="110.50" cy="395.20" r="1.65" fill="#a3002b"/>
<circle cx="101.20" cy="399.00" r="1.65" fill="#a3002b"/>
<circle cx="105.80" cy="400.20" r="1.65" fill="#a3002b"/>
<circle cx="108.50" cy="403.80" r="1.65" fill="#a3002b"/>
<circle cx="101.00" cy="405.00" r="1.65" fill="#a3002b"/>
<circle cx="103.50" cy="406.90" r="1.65" fill="#a3002b"/>
<circle cx="111.00" cy="410.60" r="1.65" fill="#a3002b"/>
<circle cx="108.50" cy="414.60" r="1.65" fill="#a3002b"/>
<circle cx="103.50" cy="418.10" r="1.65" fill="#a3002b"/>
<circle cx="105.90" cy="427.10" r="1.65" fill="#a3002b"/>
<circle cx="101.20" cy="430.30" r="1.65" fill="#a3002b"/>
<circle cx="110.40" cy="430.30" r="1.65" fill="#a3002b"/>
<circle cx="105.90" cy="432.70" r="1.65" fill="#a3002b"/>
<circle cx="101.20" cy="436.50" r="1.65" fill="#a3002b"/>
<circle cx="110.40" cy="436.50" r="1.65" fill="#a3002b"/>
<circle cx="105.90" cy="440.20" r="1.65" fill="#a3002b"/>
<circle cx="101.20" cy="443.40" r="1.65" fill="#a3002b"/>
<circle cx="110.40" cy="444.80" r="1.65" fill="#a3002b"/>
<circle cx="105.90" cy="447.90" r="1.65" fill="#a3002b"/>
<circle cx="110.40" cy="454.40" r="1.65" fill="#a3002b"/>
<circle cx="101.20" cy="457.20" r="1.65" fill="#a3002b"/>
<circle cx="105.90" cy="457.60" r="1.65" fill="#a3002b"/>
<circle cx="105.90" cy="465.60" r="1.65" fill="#a3002b"/>
<circle cx="148.80" cy="391.00" r="1.65" fill="#a3002b"/>
<circle cx="144.20" cy="410.00" r="1.65" fill="#a3002b"/>
<circle cx="153.50" cy="409.00" r="1.65" fill="#a3002b"/>
<circle cx="148.80" cy="414.30" r="1.65" fill="#a3002b"/>
<circle cx="151.50" cy="421.30" r="1.65" fill="#a3002b"/>
<circle cx="146.20" cy="426.10" r="1.65" fill="#a3002b"/>
<circle cx="148.80" cy="437.30" r="1.65" fill="#a3002b"/>
<circle cx="144.20" cy="444.50" r="1.65" fill="#a3002b"/>
<circle cx="153.50" cy="445.20" r="1.65" fill="#a3002b"/>
<circle cx="148.80" cy="449.50" r="1.65" fill="#a3002b"/>
<circle cx="146.50" cy="454.80" r="1.65" fill="#a3002b"/>
<circle cx="151.50" cy="455.80" r="1.65" fill="#a3002b"/>
<circle cx="144.20" cy="460.90" r="1.65" fill="#a3002b"/>
<circle cx="148.80" cy="464.10" r="1.65" fill="#a3002b"/>
<circle cx="153.50" cy="462.60" r="1.65" fill="#a3002b"/>
<circle cx="146.50" cy="468.60" r="1.65" fill="#a3002b"/>
<circle cx="144.20" cy="471.60" r="1.65" fill="#a3002b"/>
<circle cx="148.80" cy="471.10" r="1.65" fill="#a3002b"/>
<circle cx="151.50" cy="470.60" r="1.65" fill="#a3002b"/>
<circle cx="144.20" cy="474.60" r="1.65" fill="#a3002b"/>
<circle cx="147.50" cy="474.10" r="1.65" fill="#a3002b"/>
<circle cx="150.80" cy="473.60" r="1.65" fill="#a3002b"/>
<circle cx="153.50" cy="477.10" r="1.65" fill="#a3002b"/>
<circle cx="148.80" cy="479.10" r="1.65" fill="#a3002b"/>
<circle cx="191.90" cy="436.00" r="1.65" fill="#a3002b"/>
<circle cx="189.20" cy="440.40" r="1.65" fill="#a3002b"/>
<circle cx="194.70" cy="441.20" r="1.65" fill="#a3002b"/>
<circle cx="194.70" cy="451.10" r="1.65" fill="#a3002b"/>
<circle cx="189.20" cy="455.90" r="1.65" fill="#a3002b"/>
<circle cx="196.80" cy="462.80" r="1.65" fill="#a3002b"/>
<circle cx="187.30" cy="464.70" r="1.65" fill="#a3002b"/>
<circle cx="191.90" cy="465.50" r="1.65" fill="#a3002b"/>
<circle cx="194.70" cy="464.70" r="1.65" fill="#a3002b"/>
<circle cx="186.50" cy="468.20" r="1.65" fill="#a3002b"/>
<circle cx="189.70" cy="468.80" r="1.65" fill="#a3002b"/>
<circle cx="192.50" cy="467.70" r="1.65" fill="#a3002b"/>
<circle cx="196.30" cy="469.90" r="1.65" fill="#a3002b"/>
<circle cx="189.20" cy="471.50" r="1.65" fill="#a3002b"/>
<circle cx="193.60" cy="472.40" r="1.65" fill="#a3002b"/>
<circle cx="196.30" cy="475.00" r="1.65" fill="#a3002b"/>
<circle cx="187.30" cy="476.70" r="1.65" fill="#a3002b"/>
<circle cx="191.40" cy="475.00" r="1.65" fill="#a3002b"/>
<circle cx="194.70" cy="480.20" r="1.65" fill="#a3002b"/>
<circle cx="189.20" cy="480.50" r="1.65" fill="#a3002b"/>
<circle cx="191.90" cy="482.40" r="1.65" fill="#a3002b"/>
<circle cx="189.70" cy="483.50" r="1.65" fill="#a3002b"/>
<circle cx="234.90" cy="442.60" r="1.65" fill="#a3002b"/>
<circle cx="229.50" cy="469.90" r="1.65" fill="#a3002b"/>
<circle cx="233.30" cy="472.00" r="1.65" fill="#a3002b"/>
<circle cx="236.90" cy="470.60" r="1.65" fill="#a3002b"/>
<circle cx="240.40" cy="467.70" r="1.65" fill="#a3002b"/>
<circle cx="229.50" cy="476.40" r="1.65" fill="#a3002b"/>
<circle cx="232.20" cy="475.90" r="1.65" fill="#a3002b"/>
<circle cx="234.90" cy="476.40" r="1.65" fill="#a3002b"/>
<circle cx="237.70" cy="475.90" r="1.65" fill="#a3002b"/>
<circle cx="240.40" cy="477.00" r="1.65" fill="#a3002b"/>
<circle cx="230.60" cy="479.10" r="1.65" fill="#a3002b"/>
<circle cx="233.80" cy="478.60" r="1.65" fill="#a3002b"/>
<circle cx="237.10" cy="478.60" r="1.65" fill="#a3002b"/>
<circle cx="239.80" cy="478.10" r="1.65" fill="#a3002b"/>
<circle cx="230.10" cy="481.30" r="1.65" fill="#a3002b"/>
<circle cx="233.30" cy="481.30" r="1.65" fill="#a3002b"/>
<circle cx="236.60" cy="481.30" r="1.65" fill="#a3002b"/>
<circle cx="239.80" cy="481.30" r="1.65" fill="#a3002b"/>
<circle cx="231.60" cy="483.50" r="1.65" fill="#a3002b"/>
<circle cx="234.90" cy="484.10" r="1.65" fill="#a3002b"/>
<circle cx="238.20" cy="483.50" r="1.65" fill="#a3002b"/>
<circle cx="235.00" cy="479.50" r="1.65" fill="#a3002b"/>
<circle cx="232.00" cy="477.50" r="1.65" fill="#a3002b"/>
<circle cx="238.00" cy="480.00" r="1.65" fill="#a3002b"/>
<circle cx="79.50" cy="387.50" r="1.65" fill="#2c4a80"/>
<circle cx="84.20" cy="387.50" r="1.65" fill="#2c4a80"/>
<circle cx="89.00" cy="387.50" r="1.65" fill="#2c4a80"/>
<circle cx="89.20" cy="390.00" r="1.65" fill="#2c4a80"/>
<circle cx="79.50" cy="392.00" r="1.65" fill="#2c4a80"/>
<circle cx="82.00" cy="394.00" r="1.65" fill="#2c4a80"/>
<circle cx="84.20" cy="395.50" r="1.65" fill="#2c4a80"/>
<circle cx="86.50" cy="393.00" r="1.65" fill="#2c4a80"/>
<circle cx="81.80" cy="402.00" r="1.65" fill="#2c4a80"/>
<circle cx="86.80" cy="402.00" r="1.65" fill="#2c4a80"/>
<circle cx="81.80" cy="409.20" r="1.65" fill="#2c4a80"/>
<circle cx="86.80" cy="412.20" r="1.65" fill="#2c4a80"/>
<circle cx="89.80" cy="420.30" r="1.65" fill="#2c4a80"/>
<circle cx="78.80" cy="422.50" r="1.65" fill="#2c4a80"/>
<circle cx="82.00" cy="424.00" r="1.65" fill="#2c4a80"/>
<circle cx="84.20" cy="424.50" r="1.65" fill="#2c4a80"/>
<circle cx="86.50" cy="424.00" r="1.65" fill="#2c4a80"/>
<circle cx="84.20" cy="438.20" r="1.65" fill="#2c4a80"/>
<circle cx="84.20" cy="446.40" r="1.65" fill="#2c4a80"/>
<circle cx="84.20" cy="452.60" r="1.65" fill="#2c4a80"/>
<circle cx="81.70" cy="470.70" r="1.65" fill="#2c4a80"/>
<circle cx="87.00" cy="469.90" r="1.65" fill="#2c4a80"/>
<circle cx="84.20" cy="477.70" r="1.65" fill="#2c4a80"/>
<circle cx="87.00" cy="480.00" r="1.65" fill="#2c4a80"/>
<circle cx="81.70" cy="485.00" r="1.65" fill="#2c4a80"/>
<circle cx="124.90" cy="399.50" r="1.65" fill="#2c4a80"/>
<circle cx="130.10" cy="401.20" r="1.65" fill="#2c4a80"/>
<circle cx="122.60" cy="405.00" r="1.65" fill="#2c4a80"/>
<circle cx="125.10" cy="407.10" r="1.65" fill="#2c4a80"/>
<circle cx="127.30" cy="409.10" r="1.65" fill="#2c4a80"/>
<circle cx="129.90" cy="408.60" r="1.65" fill="#2c4a80"/>
<circle cx="132.30" cy="406.00" r="1.65" fill="#2c4a80"/>
<circle cx="132.30" cy="412.10" r="1.65" fill="#2c4a80"/>
<circle cx="122.60" cy="414.60" r="1.65" fill="#2c4a80"/>
<circle cx="127.30" cy="416.90" r="1.65" fill="#2c4a80"/>
<circle cx="127.30" cy="422.10" r="1.65" fill="#2c4a80"/>
<circle cx="124.90" cy="425.60" r="1.65" fill="#2c4a80"/>
<circle cx="129.90" cy="423.60" r="1.65" fill="#2c4a80"/>
<circle cx="132.70" cy="430.30" r="1.65" fill="#2c4a80"/>
<circle cx="124.60" cy="434.20" r="1.65" fill="#2c4a80"/>
<circle cx="130.50" cy="434.20" r="1.65" fill="#2c4a80"/>
<circle cx="123.40" cy="436.60" r="1.65" fill="#2c4a80"/>
<circle cx="128.80" cy="437.40" r="1.65" fill="#2c4a80"/>
<circle cx="126.40" cy="439.20" r="1.65" fill="#2c4a80"/>
<circle cx="127.60" cy="444.50" r="1.65" fill="#2c4a80"/>
<circle cx="122.50" cy="446.60" r="1.65" fill="#2c4a80"/>
<circle cx="127.60" cy="451.00" r="1.65" fill="#2c4a80"/>
<circle cx="132.30" cy="451.00" r="1.65" fill="#2c4a80"/>
<circle cx="127.60" cy="456.40" r="1.65" fill="#2c4a80"/>
<circle cx="127.60" cy="464.10" r="1.65" fill="#2c4a80"/>
<circle cx="170.30" cy="403.00" r="1.65" fill="#2c4a80"/>
<circle cx="165.60" cy="418.10" r="1.65" fill="#2c4a80"/>
<circle cx="170.30" cy="421.30" r="1.65" fill="#2c4a80"/>
<circle cx="175.10" cy="421.30" r="1.65" fill="#2c4a80"/>
<circle cx="167.90" cy="428.30" r="1.65" fill="#2c4a80"/>
<circle cx="172.90" cy="429.30" r="1.65" fill="#2c4a80"/>
<circle cx="170.30" cy="435.30" r="1.65" fill="#2c4a80"/>
<circle cx="167.90" cy="448.00" r="1.65" fill="#2c4a80"/>
<circle cx="172.90" cy="449.00" r="1.65" fill="#2c4a80"/>
<circle cx="164.60" cy="453.50" r="1.65" fill="#2c4a80"/>
<circle cx="175.60" cy="452.80" r="1.65" fill="#2c4a80"/>
<circle cx="165.60" cy="458.00" r="1.65" fill="#2c4a80"/>
<circle cx="168.10" cy="457.00" r="1.65" fill="#2c4a80"/>
<circle cx="170.30" cy="456.50" r="1.65" fill="#2c4a80"/>
<circle cx="173.10" cy="456.80" r="1.65" fill="#2c4a80"/>
<circle cx="175.10" cy="458.20" r="1.65" fill="#2c4a80"/>
<circle cx="167.10" cy="459.50" r="1.65" fill="#2c4a80"/>
<circle cx="171.10" cy="459.00" r="1.65" fill="#2c4a80"/>
<circle cx="169.10" cy="462.00" r="1.65" fill="#2c4a80"/>
<circle cx="175.90" cy="464.90" r="1.65" fill="#2c4a80"/>
<circle cx="164.90" cy="468.60" r="1.65" fill="#2c4a80"/>
<circle cx="168.60" cy="469.90" r="1.65" fill="#2c4a80"/>
<circle cx="172.30" cy="469.90" r="1.65" fill="#2c4a80"/>
<circle cx="213.10" cy="426.30" r="1.65" fill="#2c4a80"/>
<circle cx="208.90" cy="434.40" r="1.65" fill="#2c4a80"/>
<circle cx="213.50" cy="434.90" r="1.65" fill="#2c4a80"/>
<circle cx="218.10" cy="433.50" r="1.65" fill="#2c4a80"/>
<circle cx="208.90" cy="446.20" r="1.65" fill="#2c4a80"/>
<circle cx="213.50" cy="450.80" r="1.65" fill="#2c4a80"/>
<circle cx="218.10" cy="449.10" r="1.65" fill="#2c4a80"/>
<circle cx="208.90" cy="457.10" r="1.65" fill="#2c4a80"/>
<circle cx="213.50" cy="457.50" r="1.65" fill="#2c4a80"/>
<circle cx="218.10" cy="455.10" r="1.65" fill="#2c4a80"/>
<circle cx="208.90" cy="467.10" r="1.65" fill="#2c4a80"/>
<circle cx="211.00" cy="469.50" r="1.65" fill="#2c4a80"/>
<circle cx="213.80" cy="470.60" r="1.65" fill="#2c4a80"/>
<circle cx="216.00" cy="469.30" r="1.65" fill="#2c4a80"/>
<circle cx="218.10" cy="469.50" r="1.65" fill="#2c4a80"/>
<circle cx="207.80" cy="473.10" r="1.65" fill="#2c4a80"/>
<circle cx="212.70" cy="472.00" r="1.65" fill="#2c4a80"/>
<circle cx="218.70" cy="474.20" r="1.65" fill="#2c4a80"/>
<circle cx="211.60" cy="475.30" r="1.65" fill="#2c4a80"/>
<circle cx="215.40" cy="477.70" r="1.65" fill="#2c4a80"/>
<circle cx="208.90" cy="480.50" r="1.65" fill="#2c4a80"/>
<circle cx="218.10" cy="481.10" r="1.65" fill="#2c4a80"/>
<circle cx="211.60" cy="482.40" r="1.65" fill="#2c4a80"/>
<circle cx="214.30" cy="483.50" r="1.65" fill="#2c4a80"/>
<circle cx="256.60" cy="414.30" r="1.65" fill="#2c4a80"/>
<circle cx="256.20" cy="433.80" r="1.65" fill="#2c4a80"/>
<circle cx="256.20" cy="440.90" r="1.65" fill="#2c4a80"/>
<circle cx="256.20" cy="447.30" r="1.65" fill="#2c4a80"/>
<circle cx="256.20" cy="454.20" r="1.65" fill="#2c4a80"/>
<circle cx="259.00" cy="466.90" r="1.65" fill="#2c4a80"/>
<circle cx="254.00" cy="469.10" r="1.65" fill="#2c4a80"/>
<circle cx="250.80" cy="473.10" r="1.65" fill="#2c4a80"/>
<circle cx="252.90" cy="471.00" r="1.65" fill="#2c4a80"/>
<circle cx="261.70" cy="475.00" r="1.65" fill="#2c4a80"/>
<circle cx="254.60" cy="477.00" r="1.65" fill="#2c4a80"/>
<circle cx="258.40" cy="477.20" r="1.65" fill="#2c4a80"/>
<circle cx="251.90" cy="481.30" r="1.65" fill="#2c4a80"/>
<circle cx="255.70" cy="481.30" r="1.65" fill="#2c4a80"/>
<circle cx="260.00" cy="480.80" r="1.65" fill="#2c4a80"/>
<circle cx="253.50" cy="483.50" r="1.65" fill="#2c4a80"/>
<circle cx="257.90" cy="483.50" r="1.65" fill="#2c4a80"/>
<circle cx="261.10" cy="483.00" r="1.65" fill="#2c4a80"/>
<line x1="55.90" y1="421.80" x2="69.90" y2="421.80" stroke="#a3002b" stroke-width="1.0" />
<line x1="62.90" y1="415.50" x2="62.90" y2="428.20" stroke="#a3002b" stroke-width="1.0" />
<line x1="59.70" y1="415.50" x2="66.10" y2="415.50" stroke="#a3002b" stroke-width="1.0" />
<line x1="59.70" y1="428.20" x2="66.10" y2="428.20" stroke="#a3002b" stroke-width="1.0" />
<line x1="77.30" y1="423.20" x2="91.30" y2="423.20" stroke="#2c4a80" stroke-width="1.0" />
<line x1="84.30" y1="416.50" x2="84.30" y2="430.00" stroke="#2c4a80" stroke-width="1.0" />
<line x1="81.10" y1="416.50" x2="87.50" y2="416.50" stroke="#2c4a80" stroke-width="1.0" />
<line x1="81.10" y1="430.00" x2="87.50" y2="430.00" stroke="#2c4a80" stroke-width="1.0" />
<line x1="98.90" y1="426.90" x2="112.90" y2="426.90" stroke="#a3002b" stroke-width="1.0" />
<line x1="105.90" y1="422.90" x2="105.90" y2="431.00" stroke="#a3002b" stroke-width="1.0" />
<line x1="102.70" y1="422.90" x2="109.10" y2="422.90" stroke="#a3002b" stroke-width="1.0" />
<line x1="102.70" y1="431.00" x2="109.10" y2="431.00" stroke="#a3002b" stroke-width="1.0" />
<line x1="120.40" y1="427.10" x2="134.40" y2="427.10" stroke="#2c4a80" stroke-width="1.0" />
<line x1="127.40" y1="423.00" x2="127.40" y2="431.20" stroke="#2c4a80" stroke-width="1.0" />
<line x1="124.20" y1="423.00" x2="130.60" y2="423.00" stroke="#2c4a80" stroke-width="1.0" />
<line x1="124.20" y1="431.20" x2="130.60" y2="431.20" stroke="#2c4a80" stroke-width="1.0" />
<line x1="142.00" y1="450.20" x2="156.00" y2="450.20" stroke="#a3002b" stroke-width="1.0" />
<line x1="149.00" y1="444.50" x2="149.00" y2="454.50" stroke="#a3002b" stroke-width="1.0" />
<line x1="145.80" y1="444.50" x2="152.20" y2="444.50" stroke="#a3002b" stroke-width="1.0" />
<line x1="145.80" y1="454.50" x2="152.20" y2="454.50" stroke="#a3002b" stroke-width="1.0" />
<line x1="163.50" y1="448.50" x2="177.50" y2="448.50" stroke="#2c4a80" stroke-width="1.0" />
<line x1="170.50" y1="444.80" x2="170.50" y2="452.50" stroke="#2c4a80" stroke-width="1.0" />
<line x1="167.30" y1="444.80" x2="173.70" y2="444.80" stroke="#2c4a80" stroke-width="1.0" />
<line x1="167.30" y1="452.50" x2="173.70" y2="452.50" stroke="#2c4a80" stroke-width="1.0" />
<line x1="184.70" y1="467.40" x2="198.70" y2="467.40" stroke="#a3002b" stroke-width="1.0" />
<line x1="191.70" y1="464.50" x2="191.70" y2="470.20" stroke="#a3002b" stroke-width="1.0" />
<line x1="188.50" y1="464.50" x2="194.90" y2="464.50" stroke="#a3002b" stroke-width="1.0" />
<line x1="188.50" y1="470.20" x2="194.90" y2="470.20" stroke="#a3002b" stroke-width="1.0" />
<line x1="206.30" y1="462.50" x2="220.30" y2="462.50" stroke="#2c4a80" stroke-width="1.0" />
<line x1="213.30" y1="459.30" x2="213.30" y2="466.00" stroke="#2c4a80" stroke-width="1.0" />
<line x1="210.10" y1="459.30" x2="216.50" y2="459.30" stroke="#2c4a80" stroke-width="1.0" />
<line x1="210.10" y1="466.00" x2="216.50" y2="466.00" stroke="#2c4a80" stroke-width="1.0" />
<line x1="227.90" y1="476.40" x2="241.90" y2="476.40" stroke="#a3002b" stroke-width="1.0" />
<line x1="234.90" y1="474.00" x2="234.90" y2="478.80" stroke="#a3002b" stroke-width="1.0" />
<line x1="231.70" y1="474.00" x2="238.10" y2="474.00" stroke="#a3002b" stroke-width="1.0" />
<line x1="231.70" y1="478.80" x2="238.10" y2="478.80" stroke="#a3002b" stroke-width="1.0" />
<line x1="249.50" y1="471.50" x2="263.50" y2="471.50" stroke="#2c4a80" stroke-width="1.0" />
<line x1="256.50" y1="468.40" x2="256.50" y2="474.80" stroke="#2c4a80" stroke-width="1.0" />
<line x1="253.30" y1="468.40" x2="259.70" y2="468.40" stroke="#2c4a80" stroke-width="1.0" />
<line x1="253.30" y1="474.80" x2="259.70" y2="474.80" stroke="#2c4a80" stroke-width="1.0" />
<line x1="327.60" y1="395.00" x2="327.60" y2="485.30" stroke="#1a1a1a" stroke-width="1.1" />
<line x1="327.10" y1="484.80" x2="509.50" y2="484.80" stroke="#1a1a1a" stroke-width="1.1" />
<line x1="324.60" y1="484.80" x2="327.60" y2="484.80" stroke="#1a1a1a" stroke-width="0.9" />
<text x="322.90" y="487.90" font-size="8.2" text-anchor="end" fill="#222" textLength="4.65" lengthAdjust="spacingAndGlyphs">0</text>
<line x1="324.60" y1="467.42" x2="327.60" y2="467.42" stroke="#1a1a1a" stroke-width="0.9" />
<text x="322.90" y="470.52" font-size="8.2" text-anchor="end" fill="#222" textLength="9.30" lengthAdjust="spacingAndGlyphs">20</text>
<line x1="324.60" y1="450.04" x2="327.60" y2="450.04" stroke="#1a1a1a" stroke-width="0.9" />
<text x="322.90" y="453.14" font-size="8.2" text-anchor="end" fill="#222" textLength="9.30" lengthAdjust="spacingAndGlyphs">40</text>
<line x1="324.60" y1="432.66" x2="327.60" y2="432.66" stroke="#1a1a1a" stroke-width="0.9" />
<text x="322.90" y="435.76" font-size="8.2" text-anchor="end" fill="#222" textLength="9.30" lengthAdjust="spacingAndGlyphs">60</text>
<line x1="324.60" y1="415.28" x2="327.60" y2="415.28" stroke="#1a1a1a" stroke-width="0.9" />
<text x="322.90" y="418.38" font-size="8.2" text-anchor="end" fill="#222" textLength="9.30" lengthAdjust="spacingAndGlyphs">80</text>
<line x1="324.60" y1="397.90" x2="327.60" y2="397.90" stroke="#1a1a1a" stroke-width="0.9" />
<text x="322.90" y="401.00" font-size="8.2" text-anchor="end" fill="#222" textLength="13.95" lengthAdjust="spacingAndGlyphs">100</text>
<line x1="333.70" y1="484.80" x2="333.70" y2="487.20" stroke="#1a1a1a" stroke-width="0.9" />
<line x1="342.74" y1="484.80" x2="342.74" y2="487.20" stroke="#1a1a1a" stroke-width="0.9" />
<line x1="351.78" y1="484.80" x2="351.78" y2="487.20" stroke="#1a1a1a" stroke-width="0.9" />
<line x1="360.82" y1="484.80" x2="360.82" y2="487.20" stroke="#1a1a1a" stroke-width="0.9" />
<line x1="369.86" y1="484.80" x2="369.86" y2="487.20" stroke="#1a1a1a" stroke-width="0.9" />
<line x1="378.90" y1="484.80" x2="378.90" y2="487.20" stroke="#1a1a1a" stroke-width="0.9" />
<line x1="387.94" y1="484.80" x2="387.94" y2="487.20" stroke="#1a1a1a" stroke-width="0.9" />
<line x1="396.98" y1="484.80" x2="396.98" y2="487.20" stroke="#1a1a1a" stroke-width="0.9" />
<line x1="406.02" y1="484.80" x2="406.02" y2="487.20" stroke="#1a1a1a" stroke-width="0.9" />
<line x1="415.06" y1="484.80" x2="415.06" y2="487.20" stroke="#1a1a1a" stroke-width="0.9" />
<line x1="424.10" y1="484.80" x2="424.10" y2="487.20" stroke="#1a1a1a" stroke-width="0.9" />
<line x1="433.14" y1="484.80" x2="433.14" y2="487.20" stroke="#1a1a1a" stroke-width="0.9" />
<line x1="442.18" y1="484.80" x2="442.18" y2="487.20" stroke="#1a1a1a" stroke-width="0.9" />
<line x1="451.22" y1="484.80" x2="451.22" y2="487.20" stroke="#1a1a1a" stroke-width="0.9" />
<line x1="460.26" y1="484.80" x2="460.26" y2="487.20" stroke="#1a1a1a" stroke-width="0.9" />
<line x1="469.30" y1="484.80" x2="469.30" y2="487.20" stroke="#1a1a1a" stroke-width="0.9" />
<line x1="478.34" y1="484.80" x2="478.34" y2="487.20" stroke="#1a1a1a" stroke-width="0.9" />
<line x1="487.38" y1="484.80" x2="487.38" y2="487.20" stroke="#1a1a1a" stroke-width="0.9" />
<line x1="496.42" y1="484.80" x2="496.42" y2="487.20" stroke="#1a1a1a" stroke-width="0.9" />
<line x1="505.46" y1="484.80" x2="505.46" y2="487.20" stroke="#1a1a1a" stroke-width="0.9" />
<text x="303.20" y="441.70" font-size="9.4" text-anchor="middle" fill="#222" textLength="51.20" lengthAdjust="spacingAndGlyphs" transform="rotate(-90 303.20 441.70)">Clone size in %</text>
<line x1="333.80" y1="392.30" x2="425.20" y2="392.30" stroke="#222" stroke-width="1.0" />
<text x="379.50" y="386.90" font-size="7.6" text-anchor="middle" fill="#222" textLength="29.00" lengthAdjust="spacingAndGlyphs">P = 0.14</text>
<line x1="333.70" y1="425.80" x2="333.70" y2="452.20" stroke="#222" stroke-width="0.9" />
<line x1="331.70" y1="452.20" x2="335.70" y2="452.20" stroke="#222" stroke-width="0.9" />
<rect x="329.80" y="398.50" width="7.80" height="27.30" fill="#a3002b" stroke="#5a0018" stroke-width="0.5"/>
<line x1="329.80" y1="400.10" x2="337.60" y2="400.10" stroke="#111" stroke-width="1.3" />
<line x1="342.74" y1="457.50" x2="342.74" y2="463.20" stroke="#222" stroke-width="0.9" />
<line x1="340.74" y1="457.50" x2="344.74" y2="457.50" stroke="#222" stroke-width="0.9" />
<rect x="338.84" y="463.20" width="7.80" height="21.30" fill="#a3002b" stroke="#5a0018" stroke-width="0.5"/>
<line x1="338.84" y1="471.30" x2="346.64" y2="471.30" stroke="#111" stroke-width="1.3" />
<line x1="351.78" y1="459.70" x2="351.78" y2="472.30" stroke="#222" stroke-width="0.9" />
<line x1="349.78" y1="459.70" x2="353.78" y2="459.70" stroke="#222" stroke-width="0.9" />
<rect x="347.88" y="472.30" width="7.80" height="12.20" fill="#a3002b" stroke="#5a0018" stroke-width="0.5"/>
<line x1="347.88" y1="480.00" x2="355.68" y2="480.00" stroke="#111" stroke-width="1.3" />
<line x1="360.82" y1="477.40" x2="360.82" y2="484.00" stroke="#222" stroke-width="0.9" />
<line x1="358.82" y1="477.40" x2="362.82" y2="477.40" stroke="#222" stroke-width="0.9" />
<rect x="358.82" y="484.00" width="4.00" height="0.50" fill="#a3002b" stroke="#5a0018" stroke-width="0.5"/>
<line x1="358.82" y1="484.30" x2="362.82" y2="484.30" stroke="#111" stroke-width="1.3" />
<line x1="369.86" y1="479.60" x2="369.86" y2="484.00" stroke="#222" stroke-width="0.9" />
<line x1="367.86" y1="479.60" x2="371.86" y2="479.60" stroke="#222" stroke-width="0.9" />
<rect x="367.86" y="484.00" width="4.00" height="0.50" fill="#a3002b" stroke="#5a0018" stroke-width="0.5"/>
<line x1="367.86" y1="484.30" x2="371.86" y2="484.30" stroke="#111" stroke-width="1.3" />
<line x1="378.90" y1="479.60" x2="378.90" y2="481.50" stroke="#222" stroke-width="0.9" />
<line x1="376.90" y1="479.60" x2="380.90" y2="479.60" stroke="#222" stroke-width="0.9" />
<rect x="375.40" y="481.50" width="7.00" height="2.50" fill="#a3002b" stroke="#5a0018" stroke-width="0.5"/>
<line x1="375.40" y1="482.20" x2="382.40" y2="482.20" stroke="#111" stroke-width="1.3" />
<line x1="387.94" y1="481.90" x2="387.94" y2="483.00" stroke="#222" stroke-width="0.9" />
<line x1="385.94" y1="481.90" x2="389.94" y2="481.90" stroke="#222" stroke-width="0.9" />
<rect x="385.44" y="483.00" width="5.00" height="1.30" fill="#a3002b" stroke="#5a0018" stroke-width="0.5"/>
<line x1="385.44" y1="483.50" x2="390.44" y2="483.50" stroke="#111" stroke-width="1.3" />
<line x1="396.98" y1="483.00" x2="396.98" y2="483.50" stroke="#222" stroke-width="0.9" />
<line x1="394.98" y1="483.00" x2="398.98" y2="483.00" stroke="#222" stroke-width="0.9" />
<rect x="394.48" y="483.50" width="5.00" height="1.00" fill="#a3002b" stroke="#5a0018" stroke-width="0.5"/>
<line x1="394.48" y1="484.00" x2="399.48" y2="484.00" stroke="#111" stroke-width="1.3" />
<line x1="406.02" y1="483.00" x2="406.02" y2="483.50" stroke="#222" stroke-width="0.9" />
<line x1="404.02" y1="483.00" x2="408.02" y2="483.00" stroke="#222" stroke-width="0.9" />
<rect x="403.52" y="483.50" width="5.00" height="1.00" fill="#a3002b" stroke="#5a0018" stroke-width="0.5"/>
<line x1="403.52" y1="484.00" x2="408.52" y2="484.00" stroke="#111" stroke-width="1.3" />
<line x1="415.06" y1="483.30" x2="415.06" y2="483.50" stroke="#222" stroke-width="0.9" />
<line x1="413.06" y1="483.30" x2="417.06" y2="483.30" stroke="#222" stroke-width="0.9" />
<rect x="412.56" y="483.50" width="5.00" height="1.00" fill="#a3002b" stroke="#5a0018" stroke-width="0.5"/>
<line x1="412.56" y1="484.00" x2="417.56" y2="484.00" stroke="#111" stroke-width="1.3" />
<line x1="424.10" y1="399.80" x2="424.10" y2="404.30" stroke="#222" stroke-width="0.9" />
<line x1="422.10" y1="399.80" x2="426.10" y2="399.80" stroke="#222" stroke-width="0.9" />
<line x1="424.10" y1="424.60" x2="424.10" y2="449.00" stroke="#222" stroke-width="0.9" />
<line x1="422.10" y1="449.00" x2="426.10" y2="449.00" stroke="#222" stroke-width="0.9" />
<rect x="420.20" y="404.30" width="7.80" height="20.30" fill="#2c4a80" stroke="#1a2f55" stroke-width="0.5"/>
<line x1="420.20" y1="409.20" x2="428.00" y2="409.20" stroke="#111" stroke-width="1.3" />
<line x1="433.14" y1="452.70" x2="433.14" y2="467.10" stroke="#222" stroke-width="0.9" />
<line x1="431.14" y1="452.70" x2="435.14" y2="452.70" stroke="#222" stroke-width="0.9" />
<line x1="433.14" y1="478.70" x2="433.14" y2="483.50" stroke="#222" stroke-width="0.9" />
<line x1="431.14" y1="483.50" x2="435.14" y2="483.50" stroke="#222" stroke-width="0.9" />
<rect x="429.24" y="467.10" width="7.80" height="11.60" fill="#2c4a80" stroke="#1a2f55" stroke-width="0.5"/>
<line x1="429.24" y1="475.80" x2="437.04" y2="475.80" stroke="#111" stroke-width="1.3" />
<line x1="442.18" y1="476.20" x2="442.18" y2="479.60" stroke="#222" stroke-width="0.9" />
<line x1="440.18" y1="476.20" x2="444.18" y2="476.20" stroke="#222" stroke-width="0.9" />
<rect x="438.28" y="479.60" width="7.80" height="3.30" fill="#2c4a80" stroke="#1a2f55" stroke-width="0.5"/>
<line x1="438.28" y1="481.20" x2="446.08" y2="481.20" stroke="#111" stroke-width="1.3" />
<line x1="451.22" y1="477.70" x2="451.22" y2="478.30" stroke="#222" stroke-width="0.9" />
<line x1="449.22" y1="477.70" x2="453.22" y2="477.70" stroke="#222" stroke-width="0.9" />
<rect x="447.32" y="478.30" width="7.80" height="4.60" fill="#2c4a80" stroke="#1a2f55" stroke-width="0.5"/>
<line x1="447.32" y1="480.60" x2="455.12" y2="480.60" stroke="#111" stroke-width="1.3" />
<line x1="460.26" y1="479.00" x2="460.26" y2="480.20" stroke="#222" stroke-width="0.9" />
<line x1="458.26" y1="479.00" x2="462.26" y2="479.00" stroke="#222" stroke-width="0.9" />
<rect x="456.36" y="480.20" width="7.80" height="3.30" fill="#2c4a80" stroke="#1a2f55" stroke-width="0.5"/>
<line x1="456.36" y1="482.00" x2="464.16" y2="482.00" stroke="#111" stroke-width="1.3" />
<rect x="465.80" y="482.60" width="7.00" height="1.40" fill="#2c4a80" stroke="#1a2f55" stroke-width="0.5"/>
<line x1="465.80" y1="483.50" x2="472.80" y2="483.50" stroke="#111" stroke-width="1.3" />
<line x1="478.34" y1="483.00" x2="478.34" y2="483.50" stroke="#222" stroke-width="0.9" />
<line x1="476.34" y1="483.00" x2="480.34" y2="483.00" stroke="#222" stroke-width="0.9" />
<rect x="475.84" y="483.50" width="5.00" height="0.80" fill="#2c4a80" stroke="#1a2f55" stroke-width="0.5"/>
<line x1="475.84" y1="484.00" x2="480.84" y2="484.00" stroke="#111" stroke-width="1.3" />
<line x1="487.38" y1="483.60" x2="487.38" y2="483.80" stroke="#222" stroke-width="0.9" />
<line x1="485.38" y1="483.60" x2="489.38" y2="483.60" stroke="#222" stroke-width="0.9" />
<rect x="484.88" y="483.80" width="5.00" height="0.60" fill="#2c4a80" stroke="#1a2f55" stroke-width="0.5"/>
<line x1="484.88" y1="484.20" x2="489.88" y2="484.20" stroke="#111" stroke-width="1.3" />
<line x1="496.42" y1="483.60" x2="496.42" y2="483.80" stroke="#222" stroke-width="0.9" />
<line x1="494.42" y1="483.60" x2="498.42" y2="483.60" stroke="#222" stroke-width="0.9" />
<rect x="493.92" y="483.80" width="5.00" height="0.60" fill="#2c4a80" stroke="#1a2f55" stroke-width="0.5"/>
<line x1="493.92" y1="484.20" x2="498.92" y2="484.20" stroke="#111" stroke-width="1.3" />
<line x1="505.46" y1="483.90" x2="505.46" y2="484.00" stroke="#222" stroke-width="0.9" />
<line x1="503.46" y1="483.90" x2="507.46" y2="483.90" stroke="#222" stroke-width="0.9" />
<rect x="502.96" y="484.00" width="5.00" height="0.50" fill="#2c4a80" stroke="#1a2f55" stroke-width="0.5"/>
<line x1="502.96" y1="484.30" x2="507.96" y2="484.30" stroke="#111" stroke-width="1.3" />
<text x="336.50" y="490.40" font-size="7.9" text-anchor="end" fill="#222" textLength="20.80" lengthAdjust="spacingAndGlyphs" transform="rotate(-90 336.50 490.40)">major</text>
<text x="345.54" y="490.40" font-size="7.9" text-anchor="end" fill="#222" textLength="26.50" lengthAdjust="spacingAndGlyphs" transform="rotate(-90 345.54 490.40)">minor1</text>
<text x="354.58" y="490.40" font-size="7.9" text-anchor="end" fill="#222" textLength="26.50" lengthAdjust="spacingAndGlyphs" transform="rotate(-90 354.58 490.40)">minor2</text>
<text x="363.62" y="490.40" font-size="7.9" text-anchor="end" fill="#222" textLength="26.50" lengthAdjust="spacingAndGlyphs" transform="rotate(-90 363.62 490.40)">minor3</text>
<text x="372.66" y="490.40" font-size="7.9" text-anchor="end" fill="#222" textLength="26.50" lengthAdjust="spacingAndGlyphs" transform="rotate(-90 372.66 490.40)">minor4</text>
<text x="381.70" y="490.40" font-size="7.9" text-anchor="end" fill="#222" textLength="26.50" lengthAdjust="spacingAndGlyphs" transform="rotate(-90 381.70 490.40)">minor5</text>
<text x="390.74" y="490.40" font-size="7.9" text-anchor="end" fill="#222" textLength="26.50" lengthAdjust="spacingAndGlyphs" transform="rotate(-90 390.74 490.40)">minor6</text>
<text x="399.78" y="490.40" font-size="7.9" text-anchor="end" fill="#222" textLength="26.50" lengthAdjust="spacingAndGlyphs" transform="rotate(-90 399.78 490.40)">minor7</text>
<text x="408.82" y="490.40" font-size="7.9" text-anchor="end" fill="#222" textLength="26.50" lengthAdjust="spacingAndGlyphs" transform="rotate(-90 408.82 490.40)">minor8</text>
<text x="417.86" y="490.40" font-size="7.9" text-anchor="end" fill="#222" textLength="26.50" lengthAdjust="spacingAndGlyphs" transform="rotate(-90 417.86 490.40)">minor9</text>
<text x="426.90" y="490.40" font-size="7.9" text-anchor="end" fill="#222" textLength="20.80" lengthAdjust="spacingAndGlyphs" transform="rotate(-90 426.90 490.40)">major</text>
<text x="435.94" y="490.40" font-size="7.9" text-anchor="end" fill="#222" textLength="26.50" lengthAdjust="spacingAndGlyphs" transform="rotate(-90 435.94 490.40)">minor1</text>
<text x="444.98" y="490.40" font-size="7.9" text-anchor="end" fill="#222" textLength="26.50" lengthAdjust="spacingAndGlyphs" transform="rotate(-90 444.98 490.40)">minor2</text>
<text x="454.02" y="490.40" font-size="7.9" text-anchor="end" fill="#222" textLength="26.50" lengthAdjust="spacingAndGlyphs" transform="rotate(-90 454.02 490.40)">minor3</text>
<text x="463.06" y="490.40" font-size="7.9" text-anchor="end" fill="#222" textLength="26.50" lengthAdjust="spacingAndGlyphs" transform="rotate(-90 463.06 490.40)">minor4</text>
<text x="472.10" y="490.40" font-size="7.9" text-anchor="end" fill="#222" textLength="26.50" lengthAdjust="spacingAndGlyphs" transform="rotate(-90 472.10 490.40)">minor5</text>
<text x="481.14" y="490.40" font-size="7.9" text-anchor="end" fill="#222" textLength="26.50" lengthAdjust="spacingAndGlyphs" transform="rotate(-90 481.14 490.40)">minor6</text>
<text x="490.18" y="490.40" font-size="7.9" text-anchor="end" fill="#222" textLength="26.50" lengthAdjust="spacingAndGlyphs" transform="rotate(-90 490.18 490.40)">minor7</text>
<text x="499.22" y="490.40" font-size="7.9" text-anchor="end" fill="#222" textLength="26.50" lengthAdjust="spacingAndGlyphs" transform="rotate(-90 499.22 490.40)">minor8</text>
<text x="508.26" y="490.40" font-size="7.9" text-anchor="end" fill="#222" textLength="26.50" lengthAdjust="spacingAndGlyphs" transform="rotate(-90 508.26 490.40)">minor9</text>
<text x="298.00" y="501.20" font-size="8.4" text-anchor="start" fill="#222" textLength="15.00" lengthAdjust="spacingAndGlyphs">BCR</text>
<text x="298.00" y="511.60" font-size="8.4" text-anchor="start" fill="#222" textLength="23.50" lengthAdjust="spacingAndGlyphs">clones</text>
<line x1="329.20" y1="520.10" x2="417.80" y2="520.10" stroke="#333" stroke-width="1.2" />
<line x1="424.90" y1="520.10" x2="509.90" y2="520.10" stroke="#333" stroke-width="1.2" />
<text x="373.90" y="530.60" font-size="8.4" text-anchor="middle" fill="#222" textLength="58.50" lengthAdjust="spacingAndGlyphs">Tcl1 tg IRF4 +/+</text>
<text x="373.90" y="540.20" font-size="8.4" text-anchor="middle" fill="#222" textLength="25.50" lengthAdjust="spacingAndGlyphs">N = 13</text>
<text x="467.30" y="530.60" font-size="8.4" text-anchor="middle" fill="#222" textLength="68.80" lengthAdjust="spacingAndGlyphs">Tcl1 tg IRF4 &#916;B/&#916;B</text>
<text x="467.40" y="540.20" font-size="8.4" text-anchor="middle" fill="#222" textLength="25.50" lengthAdjust="spacingAndGlyphs">N = 14</text>
<rect x="0.5" y="0.5" width="519" height="548" fill="none" stroke="#000" stroke-width="1.2"/>
</svg>
</body></html>
